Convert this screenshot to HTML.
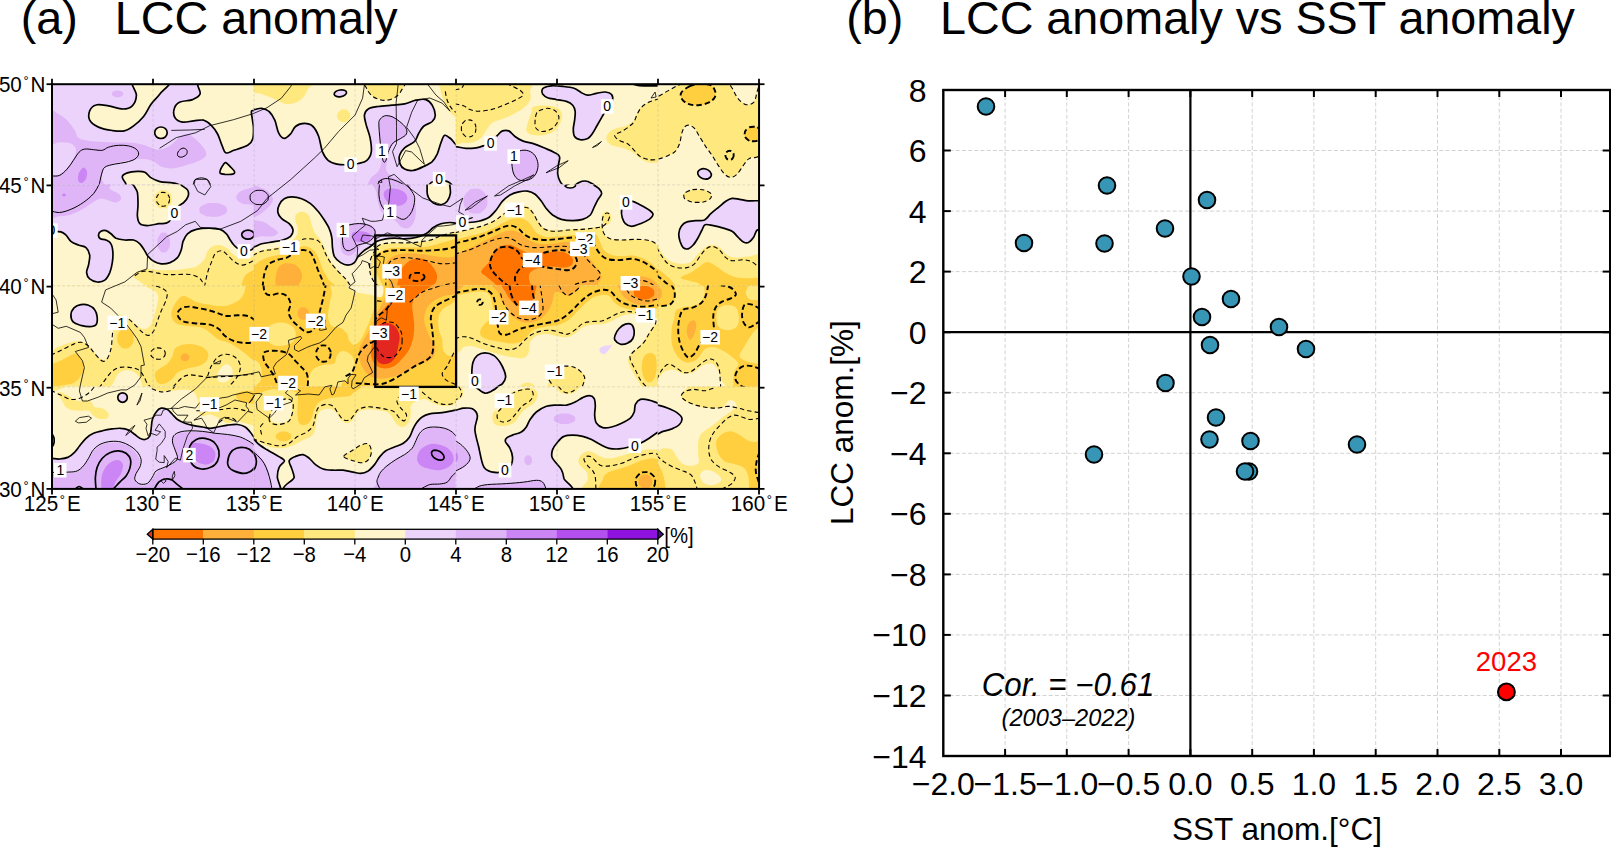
<!DOCTYPE html>
<html lang="en"><head><meta charset="utf-8"><title>LCC anomaly</title>
<style>
html,body{margin:0;padding:0;background:#fff;}
body{width:1611px;height:847px;overflow:hidden;font-family:"Liberation Sans",sans-serif;}
svg{display:block;position:absolute;left:0;top:0;}
text{font-family:"Liberation Sans",sans-serif;fill:#000;}
.t{font-size:46.7px;}
.ax{font-size:22.4px;}
.cb{font-size:22.6px;}
.sx{font-size:32px;}
.lab{font-size:31.5px;}
.cl{font-size:14px;}
</style></head><body>
<svg width="1611" height="847" viewBox="0 0 1611 847">
<rect x="0" y="0" width="1611" height="847" fill="#fff"/>

<text class="t" x="20.8" y="34">(a)</text>
<text class="t" x="114.8" y="34">LCC anomaly</text>
<text class="t" x="846.3" y="34">(b)</text>
<text class="t" x="940" y="34">LCC anomaly vs SST anomaly</text>
<defs><clipPath id="mc"><rect x="52.1" y="83.9" width="707.0" height="404.0"/></clipPath></defs>
<g clip-path="url(#mc)">
<rect x="52.1" y="83.9" width="707.0" height="404.0" fill="#fff5cc"/>
<defs><clipPath id="tc0_0"><rect x="51.80" y="83.60" width="202.60" height="101.60"/></clipPath><clipPath id="tc10_0"><rect x="253.80" y="83.60" width="202.60" height="101.60"/></clipPath><clipPath id="tc20_0"><rect x="455.80" y="83.60" width="202.60" height="101.60"/></clipPath><clipPath id="tc30_0"><rect x="657.80" y="83.60" width="101.60" height="101.60"/></clipPath><clipPath id="tc0_10"><rect x="51.80" y="184.60" width="202.60" height="101.60"/></clipPath><clipPath id="tc10_10"><rect x="253.80" y="184.60" width="202.60" height="101.60"/></clipPath><clipPath id="tc20_10"><rect x="455.80" y="184.60" width="202.60" height="101.60"/></clipPath><clipPath id="tc30_10"><rect x="657.80" y="184.60" width="101.60" height="101.60"/></clipPath><clipPath id="tc0_20"><rect x="51.80" y="285.60" width="202.60" height="101.60"/></clipPath><clipPath id="tc10_20"><rect x="253.80" y="285.60" width="202.60" height="101.60"/></clipPath><clipPath id="tc20_20"><rect x="455.80" y="285.60" width="202.60" height="101.60"/></clipPath><clipPath id="tc30_20"><rect x="657.80" y="285.60" width="101.60" height="101.60"/></clipPath><clipPath id="tc0_30"><rect x="51.80" y="386.60" width="202.60" height="101.60"/></clipPath><clipPath id="tc10_30"><rect x="253.80" y="386.60" width="202.60" height="101.60"/></clipPath><clipPath id="tc20_30"><rect x="455.80" y="386.60" width="202.60" height="101.60"/></clipPath><clipPath id="tc30_30"><rect x="657.80" y="386.60" width="101.60" height="101.60"/></clipPath></defs>
<g clip-path="url(#tc0_0)">
<rect x="51.1" y="82.9" width="204.0" height="103.0" fill="#ecd3fb"/>
<path d="M47.1,109.0C48.8,104.1 53.8,111.5 57.1,113.3C60.5,115.2 64.2,117.4 67.1,120.2C70.1,123.1 72.8,127.3 74.7,130.3C76.6,133.2 75.9,136.0 78.4,137.8C80.9,139.6 84.1,140.2 89.7,140.9C95.4,141.6 105.2,141.9 112.3,142.2C119.4,142.5 126.9,142.3 132.3,142.8C137.8,143.3 140.7,144.2 144.9,145.3C149.1,146.5 153.5,149.5 157.4,149.7C161.4,149.9 165.2,148.5 168.7,146.6C172.3,144.6 175.8,139.9 178.7,137.8C181.7,135.7 183.8,134.0 186.3,134.0C188.8,134.0 191.1,135.7 193.8,137.8C196.5,139.9 200.5,143.8 202.6,146.6C204.7,149.3 206.5,151.9 206.3,154.1C206.1,156.3 204.4,157.9 201.3,159.7C198.2,161.5 192.3,163.3 187.5,164.7C182.7,166.2 176.9,168.2 172.5,168.5C168.1,168.8 164.3,167.8 161.2,166.6C158.1,165.5 156.6,162.8 153.7,161.6C150.7,160.3 147.6,159.3 143.6,159.1C139.7,158.9 135.1,159.5 129.8,160.3C124.6,161.2 116.5,162.8 112.3,164.1C108.1,165.4 106.5,165.8 104.8,167.9C103.0,169.9 102.5,172.9 101.6,176.6C100.8,180.4 108.8,188.1 99.7,190.4C90.7,192.7 55.9,192.8 47.1,190.4C38.3,188.0 45.2,178.6 47.1,176.0C49.0,173.4 55.0,176.1 58.4,174.7C61.7,173.4 64.5,170.7 67.1,167.9C69.8,165.0 72.6,161.0 74.0,157.8C75.5,154.7 76.4,151.5 75.9,149.1C75.4,146.7 73.6,144.6 70.9,143.4C68.2,142.3 63.6,142.3 59.6,142.2C55.7,142.1 49.2,148.3 47.1,142.8C45.0,137.3 45.4,113.9 47.1,109.0Z" fill="#e0b5f7"/>
<path d="M123.2,93.9C123.2,95.2 123.0,95.4 121.5,96.3C120.0,97.2 119.7,97.3 117.6,97.3C115.4,97.3 115.1,97.2 113.6,96.3C112.1,95.4 111.9,95.2 111.9,93.9C111.9,92.6 112.1,92.4 113.6,91.5C115.1,90.6 115.4,90.5 117.6,90.5C119.7,90.5 120.0,90.6 121.5,91.5C123.0,92.4 123.2,92.6 123.2,93.9Z" fill="#e0b5f7"/>
<path d="M83.4,167.6C84.8,167.3 86.5,169.7 87.0,171.6C87.4,173.5 86.9,177.3 86.0,179.1C85.1,181.0 82.9,182.7 81.6,182.9C80.3,183.1 78.7,182.0 78.2,180.4C77.7,178.8 77.8,175.6 78.7,173.5C79.6,171.4 82.1,167.9 83.4,167.6Z" fill="#cc85f5"/>
<path d="M133.6,78.9C127.9,81.6 136.6,90.7 136.4,95.2C136.2,99.7 134.6,103.5 132.3,105.8C130.1,108.1 126.9,109.0 122.9,109.0C119.0,109.0 113.0,106.5 108.5,105.8C104.0,105.2 99.1,104.1 96.0,105.0C92.9,105.8 90.8,108.3 89.7,110.8C88.7,113.4 88.3,117.5 89.7,120.2C91.2,123.0 94.7,125.4 98.5,127.1C102.3,128.8 108.0,129.9 112.3,130.5C116.6,131.1 120.6,131.7 124.2,130.9C127.8,130.1 130.4,128.3 133.6,125.9C136.8,123.5 140.7,120.1 143.6,116.5C146.6,112.8 148.4,107.7 151.2,103.9C153.9,100.2 156.7,98.1 159.9,93.9C163.2,89.7 175.0,81.4 170.6,78.9C166.2,76.4 139.3,76.2 133.6,78.9Z" fill="#fff5cc" stroke="#000" stroke-width="1.7" stroke-linejoin="round"/>
<path d="M167.2,132.8C167.2,134.9 167.0,135.3 165.4,136.8C163.7,138.4 163.3,138.5 160.9,138.5C158.6,138.5 158.2,138.4 156.5,136.8C154.8,135.3 154.7,134.9 154.7,132.8C154.7,130.6 154.8,130.2 156.5,128.7C158.2,127.2 158.6,127.0 160.9,127.0C163.3,127.0 163.7,127.2 165.4,128.7C167.0,130.2 167.2,130.6 167.2,132.8Z" fill="#fff5cc" stroke="#000" stroke-width="1.7" stroke-linejoin="round"/>
<path d="M201.9,78.9C192.1,81.4 201.6,90.5 200.1,93.9C198.5,97.4 195.9,98.2 192.5,99.6C189.2,100.9 183.0,100.6 180.0,102.1C177.0,103.5 175.2,105.7 174.4,108.3C173.5,110.9 173.6,115.4 175.0,117.7C176.3,120.0 179.4,121.6 182.5,122.1C185.6,122.6 190.2,121.2 193.8,120.9C197.3,120.6 200.9,119.5 203.8,120.2C206.7,121.0 209.0,123.0 211.3,125.3C213.6,127.5 215.8,130.7 217.6,134.0C219.4,137.4 220.6,142.2 222.0,145.3C223.4,148.4 223.8,152.0 225.8,152.8C227.7,153.7 230.3,151.6 233.9,150.3C237.6,149.1 244.6,147.2 247.7,145.3C250.8,143.4 251.8,142.0 252.7,139.0C253.7,136.1 253.5,131.1 253.5,127.8C253.4,124.4 252.6,121.8 252.3,119.0C252.1,116.2 250.6,112.5 251.7,110.8C252.8,109.2 257.8,114.3 259.0,109.0C260.2,103.6 268.5,83.9 259.0,78.9C249.5,73.9 211.8,76.4 201.9,78.9Z" fill="#fff5cc" stroke="#000" stroke-width="1.7" stroke-linejoin="round"/>
<path d="M225.8,162.6C226.9,162.9 228.7,165.1 230.2,166.6C231.6,168.1 234.1,170.4 234.5,171.6C235.0,172.9 234.2,173.7 232.7,174.1C231.1,174.6 227.2,174.5 225.1,174.4C223.0,174.2 220.9,174.0 220.1,173.1C219.4,172.2 220.2,170.5 220.7,169.1C221.3,167.7 222.4,165.8 223.3,164.7C224.1,163.6 224.6,162.3 225.8,162.6Z" fill="#fff5cc" stroke="#000" stroke-width="1.7" stroke-linejoin="round"/>
<path d="M122.3,176.6C122.6,175.0 124.8,173.7 127.3,172.9C129.8,172.0 134.4,171.5 137.4,171.4C140.3,171.3 142.6,171.2 144.9,172.2C147.2,173.3 148.6,176.3 151.2,177.9C153.7,179.4 156.4,180.8 159.9,181.6C163.5,182.5 169.1,182.3 172.5,182.9C175.8,183.5 178.7,184.1 180.0,185.4C181.2,186.7 187.9,189.6 180.0,190.4C172.1,191.2 141.4,191.7 132.3,190.4C123.3,189.2 127.1,185.2 125.5,182.9C123.8,180.6 122.0,178.3 122.3,176.6Z" fill="#fff5cc" stroke="#000" stroke-width="1.7" stroke-linejoin="round"/>
<path d="M52.1,176.0C53.4,175.9 57.1,176.5 59.6,175.4C62.1,174.2 64.8,171.6 67.1,169.1C69.4,166.6 71.4,163.2 73.4,160.3C75.4,157.5 77.2,154.1 79.1,152.2C80.9,150.3 82.3,149.5 84.7,149.1C87.1,148.6 90.6,149.5 93.5,149.7C96.4,149.9 99.7,150.7 102.3,150.3C104.8,149.9 105.8,148.0 108.5,147.2C111.2,146.3 115.2,145.5 118.6,145.3C121.9,145.1 125.7,145.3 128.6,145.9C131.5,146.6 134.4,147.7 136.1,149.1C137.8,150.4 138.8,152.4 138.6,154.1C138.4,155.7 136.9,157.7 134.9,159.1C132.8,160.4 129.4,161.4 126.1,162.2C122.7,163.1 118.3,163.3 114.8,164.1C111.2,164.9 107.0,165.6 104.8,167.2C102.6,168.9 102.6,171.1 101.6,174.1C100.7,177.2 99.5,183.5 99.1,185.4" fill="none" stroke="#000" stroke-width="1.0" stroke-linejoin="round"/>
<path d="M183.1,148.1C184.5,148.0 186.4,149.2 186.9,150.3C187.4,151.4 187.2,153.6 186.3,154.7C185.3,155.8 182.7,157.1 181.2,157.2C179.8,157.3 177.9,156.4 177.5,155.3C177.1,154.3 177.8,152.2 178.7,150.9C179.7,149.7 181.8,148.2 183.1,148.1Z" fill="none" stroke="#000" stroke-width="1.0" stroke-linejoin="round"/>
<path d="M193.2,184.9C193.5,184.0 193.7,180.9 195.0,179.8C196.4,178.6 199.2,177.9 201.3,177.9C203.4,177.9 206.0,178.6 207.6,179.8C209.1,180.9 210.2,184.0 210.7,184.9" fill="none" stroke="#000" stroke-width="1.0" stroke-linejoin="round"/>
</g>
<g clip-path="url(#tc10_0)">
<rect x="253.1" y="82.9" width="204.0" height="103.0" fill="#fff5cc"/>
<path d="M249.1,78.9C259.7,77.0 303.2,77.2 313.0,78.9C322.9,80.6 309.7,85.8 308.0,88.9C306.3,92.0 305.1,95.4 303.0,97.7C300.9,100.0 298.2,101.7 295.5,102.7C292.8,103.7 289.4,104.2 286.7,103.9C284.0,103.7 281.7,102.5 279.2,101.4C276.7,100.4 274.6,98.9 271.7,97.7C268.7,96.4 265.4,95.2 261.6,93.9C257.9,92.7 251.2,92.7 249.1,90.2C247.0,87.7 238.4,80.8 249.1,78.9Z" fill="#ffe97f"/>
<path d="M350.3,115.9C350.3,118.2 350.1,118.6 348.4,120.3C346.6,122.0 346.2,122.1 343.8,122.1C341.3,122.1 340.9,122.0 339.1,120.3C337.4,118.6 337.2,118.2 337.2,115.9C337.2,113.5 337.4,113.1 339.1,111.4C340.9,109.8 341.3,109.6 343.8,109.6C346.2,109.6 346.6,109.8 348.4,111.4C350.1,113.1 350.3,113.5 350.3,115.9Z" fill="#ffe97f"/>
<path d="M365.7,78.9C359.6,80.6 365.9,86.1 366.9,88.9C368.0,91.7 369.9,94.0 372.0,95.8C374.1,97.6 377.0,98.8 379.5,99.6C382.0,100.3 384.5,100.5 387.0,100.2C389.5,99.9 392.2,99.1 394.5,97.7C396.8,96.2 399.3,94.6 400.8,91.4C402.3,88.3 409.2,81.0 403.3,78.9C397.5,76.8 371.8,77.2 365.7,78.9Z" fill="#ffe97f" stroke="#000" stroke-width="1.1" stroke-linejoin="round" stroke-dasharray="4.5 3"/>
<path d="M439.7,78.9C436.1,81.0 440.1,87.5 440.9,91.4C441.8,95.4 443.2,99.4 444.7,102.7C446.2,106.0 447.8,109.0 449.7,111.5C451.6,114.0 454.0,116.1 456.1,117.7C458.2,119.4 461.2,128.0 462.2,121.5C463.3,115.0 466.0,86.0 462.2,78.9C458.5,71.8 443.2,76.8 439.7,78.9Z" fill="#ffe97f"/>
<path d="M445.3,91.4C445.6,92.9 446.2,97.4 447.2,100.2C448.2,103.0 449.9,106.1 451.6,108.3C453.3,110.5 456.3,112.5 457.2,113.3" fill="none" stroke="#000" stroke-width="1.1" stroke-linejoin="round" stroke-dasharray="4.5 3"/>
<path d="M249.1,109.6C249.9,96.1 252.0,109.8 254.1,109.6C256.2,109.4 259.1,108.0 261.6,108.3C264.1,108.6 267.0,109.5 269.1,111.5C271.3,113.5 273.2,116.7 274.8,120.2C276.4,123.8 277.0,129.7 278.6,132.8C280.1,135.8 282.2,138.2 284.2,138.4C286.2,138.6 288.6,136.0 290.5,134.0C292.3,132.0 293.2,128.3 295.5,126.5C297.8,124.7 301.3,123.4 304.3,123.4C307.2,123.4 310.6,124.3 313.0,126.5C315.4,128.7 317.1,132.4 318.7,136.5C320.2,140.7 320.9,147.6 322.4,151.6C324.0,155.5 325.7,158.3 328.1,160.3C330.5,162.4 333.7,163.4 336.9,164.1C340.0,164.8 343.3,164.8 346.9,164.7C350.4,164.6 354.8,164.2 358.2,163.5C361.5,162.7 364.8,162.3 366.9,160.3C369.1,158.4 370.8,155.3 371.3,151.6C371.9,147.8 370.9,142.2 370.1,137.8C369.2,133.4 367.3,129.0 366.3,125.3C365.4,121.5 364.1,117.9 364.4,115.2C364.8,112.5 365.9,110.4 368.2,109.0C370.5,107.5 374.3,107.1 378.2,106.5C382.2,105.8 387.6,105.6 392.0,105.2C396.4,104.8 400.6,104.8 404.6,103.9C408.5,103.1 412.3,100.9 415.9,100.2C419.4,99.5 423.2,98.7 425.9,99.6C428.6,100.4 430.6,102.6 432.2,105.2C433.7,107.8 435.3,112.5 435.3,115.2C435.3,117.9 434.1,119.6 432.2,121.5C430.2,123.4 425.7,124.4 423.4,126.5C421.1,128.6 419.8,131.5 418.4,134.0C416.9,136.5 416.9,139.2 414.6,141.5C412.3,143.8 407.1,145.5 404.6,147.8C402.1,150.1 400.3,152.6 399.6,155.3C398.8,158.0 399.3,161.8 400.2,164.1C401.0,166.4 402.4,168.1 404.6,169.1C406.8,170.2 410.2,170.8 413.3,170.4C416.5,169.9 420.2,168.1 423.4,166.6C426.5,165.1 429.9,163.7 432.2,161.6C434.4,159.5 435.7,157.2 437.2,154.1C438.6,150.9 439.7,145.9 440.9,142.8C442.2,139.7 443.0,135.9 444.7,135.3C446.4,134.7 449.1,137.5 451.0,139.0C452.9,140.6 454.2,143.0 456.1,144.7C458.0,146.3 461.2,141.4 462.2,149.1C463.3,156.7 497.8,183.5 462.2,190.4C426.7,197.3 284.6,203.9 249.1,190.4C213.6,176.9 248.2,123.1 249.1,109.6Z" fill="#ecd3fb" stroke="#000" stroke-width="1.7" stroke-linejoin="round"/>
<path d="M346.5,92.2C346.8,93.5 346.6,93.7 345.1,94.9C343.7,96.1 343.3,96.2 341.0,96.6C338.6,97.0 338.2,97.0 336.4,96.4C334.6,95.8 334.4,95.6 334.2,94.4C334.0,93.1 334.1,92.9 335.6,91.7C337.1,90.5 337.5,90.4 339.8,90.0C342.1,89.6 342.5,89.6 344.3,90.2C346.1,90.8 346.3,91.0 346.5,92.2Z" fill="#ecd3fb" stroke="#000" stroke-width="1.7" stroke-linejoin="round"/>
<path d="M380.1,120.2C381.3,118.7 383.6,116.3 385.8,115.9C388.0,115.4 390.8,116.3 393.3,117.5C395.8,118.6 398.7,120.8 400.8,122.7C402.9,124.7 405.2,126.9 406.1,129.0C406.9,131.1 406.9,133.6 405.8,135.3C404.7,136.9 401.7,137.6 399.6,139.0C397.4,140.5 394.4,142.0 392.7,144.0C390.9,146.1 389.8,148.6 388.9,151.6C388.0,154.5 387.4,158.5 387.0,161.6C386.6,164.7 385.5,167.9 386.4,170.4C387.2,172.9 389.4,174.7 392.0,176.6C394.6,178.5 399.3,179.3 402.1,181.6C404.8,183.9 413.6,189.0 408.3,190.4C403.1,191.9 377.1,192.3 370.7,190.4C364.3,188.5 368.8,182.3 370.1,179.1C371.3,176.0 376.4,174.5 378.2,171.6C380.1,168.7 381.0,165.4 381.4,161.6C381.8,157.8 381.1,153.7 380.7,149.1C380.4,144.5 379.8,138.0 379.5,134.0C379.2,130.1 378.8,127.5 378.9,125.3C379.0,123.0 379.0,121.8 380.1,120.2Z" fill="#e0b5f7"/>
<path d="M379.5,120.2C380.4,118.7 382.4,116.4 384.5,115.9C386.6,115.3 389.5,115.8 392.0,116.7C394.5,117.7 397.3,119.7 399.6,121.5C401.8,123.3 404.7,125.7 405.8,127.8C407.0,129.8 407.3,132.2 406.4,134.0C405.6,135.8 403.0,136.9 400.8,138.4C398.6,139.9 395.3,140.8 393.3,142.8C391.3,144.8 390.0,147.6 388.9,150.3C387.7,153.0 387.1,157.1 386.4,159.1C385.7,161.1 385.1,162.2 384.5,162.2C383.9,162.2 383.2,161.7 382.6,159.1C382.0,156.5 381.3,150.7 380.7,146.6C380.2,142.4 379.8,137.6 379.5,134.0C379.2,130.5 378.9,127.5 378.9,125.3C378.9,123.0 378.5,121.8 379.5,120.2Z" fill="none" stroke="#000" stroke-width="1.0" stroke-linejoin="round"/>
<path d="M377.6,184.9C378.0,184.2 378.8,181.7 380.1,180.6C381.5,179.6 383.6,178.7 385.8,178.5C388.0,178.4 390.8,179.0 393.3,179.8C395.8,180.5 398.6,181.7 400.8,182.9C403.0,184.0 405.5,186.0 406.4,186.7" fill="none" stroke="#000" stroke-width="1.0" stroke-linejoin="round"/>
<path d="M429.6,190.4C425.7,189.4 428.8,185.7 429.6,184.1C430.5,182.6 432.6,181.6 434.7,181.0C436.7,180.4 439.7,180.1 442.2,180.4C444.7,180.7 447.8,181.2 449.7,182.9C451.6,184.6 456.8,189.2 453.5,190.4C450.1,191.7 433.6,191.5 429.6,190.4Z" fill="#fff5cc" stroke="#000" stroke-width="1.7" stroke-linejoin="round"/>
</g>
<g clip-path="url(#tc20_0)">
<rect x="455.1" y="82.9" width="204.0" height="103.0" fill="#fff5cc"/>
<path d="M451.1,78.9C463.6,68.9 513.2,76.8 526.3,78.9C539.5,81.0 529.5,87.9 530.1,91.4C530.7,95.0 531.1,97.5 530.1,100.2C529.0,102.9 526.5,105.4 523.8,107.7C521.1,110.0 517.3,112.1 513.8,114.0C510.2,115.9 506.0,117.5 502.5,119.0C498.9,120.4 495.2,120.9 492.5,122.7C489.7,124.6 488.1,127.8 486.2,130.3C484.3,132.8 483.3,135.8 481.2,137.8C479.1,139.8 476.6,141.3 473.7,142.2C470.7,143.0 467.4,143.3 463.6,142.8C459.9,142.3 453.2,149.7 451.1,139.0C449.0,128.4 438.5,88.9 451.1,78.9Z" fill="#ffe97f"/>
<path d="M454.8,103.7C456.3,104.1 461.1,104.8 463.6,105.8C466.1,106.8 467.4,108.7 469.9,109.6C472.4,110.5 475.1,111.2 478.7,111.2C482.2,111.2 487.0,110.6 491.2,109.6C495.4,108.6 499.8,106.8 503.7,105.2C507.7,103.6 511.8,101.9 515.0,100.2C518.3,98.5 522.3,96.8 523.2,95.2C524.0,93.5 521.8,91.6 520.0,90.2C518.3,88.7 514.8,87.6 512.5,86.4C510.2,85.3 507.3,83.8 506.3,83.3" fill="none" stroke="#000" stroke-width="1.1" stroke-linejoin="round" stroke-dasharray="4.5 3"/>
<path d="M454.8,89.9C455.9,89.6 459.7,89.1 461.1,88.3C462.6,87.5 463.2,85.7 463.6,85.2" fill="none" stroke="#000" stroke-width="1.1" stroke-linejoin="round" stroke-dasharray="4.5 3"/>
<path d="M475.9,128.4C475.9,131.6 475.7,132.1 473.8,134.4C471.8,136.7 471.4,136.9 468.6,136.9C465.9,136.9 465.4,136.7 463.5,134.4C461.6,132.1 461.4,131.6 461.4,128.4C461.4,125.2 461.6,124.6 463.5,122.4C465.4,120.1 465.9,119.9 468.6,119.9C471.4,119.9 471.8,120.1 473.8,122.4C475.7,124.6 475.9,125.2 475.9,128.4Z" fill="none" stroke="#000" stroke-width="1.1" stroke-linejoin="round" stroke-dasharray="4.5 3"/>
<path d="M533.8,106.5C536.8,105.3 544.7,105.4 548.9,105.8C553.1,106.2 556.7,107.2 558.9,109.0C561.1,110.7 562.1,113.8 562.1,116.5C562.1,119.2 560.5,122.6 558.9,125.3C557.4,127.9 555.4,130.5 552.6,132.1C549.9,133.8 546.2,134.9 542.6,135.3C539.1,135.7 534.0,135.5 531.3,134.7C528.6,133.8 526.8,132.5 526.3,130.3C525.8,128.1 527.4,124.4 528.2,121.5C529.0,118.6 530.4,115.2 531.3,112.7C532.3,110.2 530.9,107.6 533.8,106.5Z" fill="#ffe97f"/>
<path d="M538.9,110.8C540.7,109.9 544.9,108.3 547.6,108.3C550.3,108.3 553.3,109.4 555.2,110.8C557.0,112.3 558.7,114.9 558.9,117.1C559.1,119.3 557.9,121.9 556.4,124.0C554.9,126.1 552.6,128.4 550.1,129.6C547.6,130.9 543.8,131.8 541.4,131.5C539.0,131.2 536.8,129.6 535.7,127.8C534.7,125.9 535.0,122.5 535.1,120.2C535.2,117.9 535.7,115.5 536.3,114.0C537.0,112.4 537.0,111.8 538.9,110.8Z" fill="none" stroke="#000" stroke-width="1.1" stroke-linejoin="round" stroke-dasharray="4.5 3"/>
<path d="M543.9,87.7C545.4,86.9 548.3,86.0 551.4,85.8C554.5,85.6 558.9,86.0 562.7,86.4C566.4,86.8 570.8,87.2 574.0,88.3C577.1,89.3 579.2,91.5 581.5,92.7C583.8,93.8 585.2,95.1 587.8,95.2C590.3,95.3 593.6,93.8 596.5,93.3C599.5,92.8 602.8,91.8 605.3,92.0C607.8,92.3 610.4,93.0 611.6,94.6C612.7,96.1 613.0,99.0 612.2,101.4C611.4,103.8 608.3,106.2 606.6,109.0C604.8,111.7 603.2,114.8 601.6,117.7C599.9,120.7 598.1,123.8 596.5,126.5C595.0,129.2 593.6,132.0 592.1,134.0C590.7,136.0 589.7,137.5 587.8,138.4C585.8,139.3 582.4,140.0 580.2,139.7C578.0,139.3 575.7,138.3 574.6,136.5C573.4,134.8 573.3,131.7 573.3,129.0C573.3,126.3 574.3,123.2 574.6,120.2C574.9,117.3 575.5,114.0 575.2,111.5C574.9,109.0 574.2,106.9 572.7,105.2C571.2,103.5 569.2,102.4 566.4,101.4C563.7,100.5 559.5,100.2 556.4,99.6C553.3,98.9 549.9,98.6 547.6,97.7C545.3,96.7 543.6,95.2 542.6,93.9C541.7,92.7 541.8,91.2 542.0,90.2C542.2,89.1 542.3,88.4 543.9,87.7Z" fill="#ecd3fb" stroke="#000" stroke-width="1.7" stroke-linejoin="round"/>
<path d="M451.1,145.9C451.9,138.6 453.6,146.1 456.1,146.6C458.6,147.0 462.8,148.2 466.1,148.4C469.5,148.6 473.3,148.2 476.2,147.8C479.0,147.4 480.8,146.8 483.1,145.9C485.4,145.1 487.6,144.6 490.0,142.8C492.4,141.0 495.4,137.3 497.5,135.3C499.6,133.3 500.6,131.6 502.5,130.9C504.4,130.2 506.7,130.0 508.8,130.9C510.9,131.8 512.7,134.9 515.0,136.5C517.3,138.2 519.6,139.8 522.6,140.9C525.5,142.1 529.0,142.3 532.6,143.4C536.1,144.6 540.3,146.3 543.9,147.8C547.4,149.3 551.3,150.7 553.9,152.2C556.5,153.7 558.8,154.4 559.5,156.6C560.3,158.8 558.6,162.4 558.3,165.4C558.0,168.3 557.4,171.4 557.7,174.1C558.0,176.8 559.1,179.6 560.2,181.6C561.2,183.7 563.3,185.2 563.9,186.7C564.6,188.1 582.7,189.8 563.9,190.4C545.1,191.0 469.9,197.8 451.1,190.4C432.3,183.0 450.2,153.2 451.1,145.9Z" fill="#ecd3fb" stroke="#000" stroke-width="1.7" stroke-linejoin="round"/>
<path d="M511.9,164.1C511.7,161.2 511.6,158.7 512.5,156.6C513.5,154.5 515.2,152.6 517.5,151.6C519.8,150.5 523.6,149.9 526.3,150.3C529.0,150.7 532.0,152.2 533.8,154.1C535.7,156.0 537.0,159.1 537.6,161.6C538.2,164.1 538.2,166.6 537.6,169.1C537.0,171.6 535.7,174.7 533.8,176.6C532.0,178.5 528.8,179.9 526.3,180.4C523.8,180.9 520.9,180.8 518.8,179.8C516.7,178.7 514.9,176.7 513.8,174.1C512.6,171.5 512.1,167.0 511.9,164.1Z" fill="#e0b5f7" stroke="#000" stroke-width="1.0" stroke-linejoin="round"/>
<path d="M575.2,186.7C574.3,185.1 577.9,183.2 579.6,182.3C581.3,181.3 583.4,180.9 585.2,181.0C587.1,181.1 589.3,182.0 590.9,182.9C592.5,183.8 595.6,185.2 594.7,186.7C593.7,188.1 588.5,191.7 585.2,191.7C582.0,191.7 576.2,188.2 575.2,186.7Z" fill="#ecd3fb" stroke="#000" stroke-width="1.7" stroke-linejoin="round"/>
<path d="M664.2,96.4C663.2,85.6 660.6,96.8 658.1,97.7C655.6,98.5 652.1,99.8 649.2,101.4C646.3,103.1 642.5,105.6 640.4,107.7C638.3,109.8 637.9,111.7 636.7,114.0C635.4,116.3 635.0,119.4 632.9,121.5C630.8,123.6 627.3,125.3 624.1,126.5C621.0,127.8 616.8,127.8 614.1,129.0C611.4,130.3 609.1,132.1 607.8,134.0C606.6,135.9 605.9,138.4 606.6,140.3C607.2,142.2 609.1,144.0 611.6,145.3C614.1,146.6 618.3,146.8 621.6,147.8C625.0,148.9 628.7,149.9 631.6,151.6C634.6,153.2 636.4,156.1 639.2,157.8C641.9,159.6 644.8,161.4 647.9,162.2C651.1,163.1 655.4,162.7 658.1,162.8C660.8,162.9 663.2,173.9 664.2,162.8C665.3,151.8 665.3,107.3 664.2,96.4Z" fill="#ffe97f"/>
<path d="M659.2,98.7C657.6,99.3 652.1,100.7 649.2,102.1C646.3,103.5 643.7,105.1 641.7,107.1C639.7,109.1 638.5,111.6 637.3,114.0C636.0,116.4 635.5,119.4 634.2,121.5C632.8,123.6 631.2,124.8 629.1,126.5C627.0,128.2 624.0,130.1 621.6,131.5C619.2,133.0 615.1,133.8 614.7,135.3C614.3,136.7 616.9,138.8 619.1,140.3C621.3,141.8 625.4,142.4 627.9,144.0C630.4,145.7 632.1,148.2 634.2,150.3C636.2,152.4 637.9,155.0 640.4,156.6C642.9,158.1 646.1,159.2 649.2,159.7C652.3,160.2 657.6,159.5 659.2,159.5" fill="none" stroke="#000" stroke-width="1.1" stroke-linejoin="round" stroke-dasharray="4.5 3"/>
<path d="M630.4,82.6C631.6,83.7 634.8,84.9 637.9,85.4C641.0,85.9 645.4,85.8 649.2,85.8C653.0,85.7 658.6,86.3 660.5,85.2C662.4,84.0 665.5,79.9 660.5,78.9C655.5,77.8 635.4,78.3 630.4,78.9C625.4,79.5 629.1,81.6 630.4,82.6Z" fill="#ecd3fb" stroke="#000" stroke-width="1.7" stroke-linejoin="round"/>
</g>
<g clip-path="url(#tc30_0)">
<rect x="657.1" y="82.9" width="103.0" height="103.0" fill="#ffe97f"/>
<path d="M653.1,98.9C653.9,101.9 655.8,97.7 658.1,96.4C660.4,95.2 664.0,93.1 666.9,91.4C669.8,89.7 672.9,88.1 675.7,86.4C678.4,84.7 686.9,82.6 683.2,81.4C679.4,80.1 658.1,76.0 653.1,78.9C648.1,81.8 652.2,96.0 653.1,98.9Z" fill="#fff5cc" stroke="#000" stroke-width="1.1" stroke-linejoin="round" stroke-dasharray="4.5 3"/>
<path d="M729.6,78.9C725.6,80.8 731.9,86.8 733.3,90.2C734.8,93.5 736.3,96.5 738.3,98.9C740.4,101.3 743.4,103.9 745.9,104.6C748.4,105.2 751.6,104.5 753.4,102.7C755.2,100.9 755.9,97.9 756.5,93.9C757.2,90.0 761.6,81.4 757.2,78.9C752.7,76.4 733.5,77.0 729.6,78.9Z" fill="#fff5cc" stroke="#000" stroke-width="1.1" stroke-linejoin="round" stroke-dasharray="4.5 3"/>
<path d="M653.1,160.3C653.9,155.1 656.0,159.7 658.1,159.1C660.2,158.5 662.9,157.7 665.6,156.6C668.3,155.4 672.1,154.3 674.4,152.2C676.7,150.1 678.2,147.3 679.4,144.0C680.7,140.8 681.0,135.7 681.9,132.8C682.9,129.8 683.8,127.8 685.1,126.5C686.3,125.3 687.9,124.9 689.4,125.3C691.0,125.6 692.8,126.5 694.5,128.4C696.1,130.3 697.6,133.5 699.5,136.5C701.4,139.6 703.7,143.4 705.7,146.6C707.8,149.7 709.9,152.2 712.0,155.3C714.1,158.5 716.2,162.2 718.3,165.4C720.4,168.5 722.5,172.1 724.6,174.1C726.6,176.1 728.7,177.3 730.8,177.3C732.9,177.3 735.0,176.1 737.1,174.1C739.2,172.1 741.5,167.9 743.4,165.4C745.2,162.8 746.7,160.3 748.4,159.1C750.1,157.8 750.7,157.8 753.4,157.8C756.1,157.8 762.8,153.7 764.7,159.1C766.6,164.5 783.3,185.2 764.7,190.4C746.1,195.6 671.7,195.4 653.1,190.4C634.5,185.4 652.2,165.6 653.1,160.3Z" fill="#fff5cc" stroke="#000" stroke-width="1.1" stroke-linejoin="round" stroke-dasharray="4.5 3"/>
<path d="M689.4,86.4C692.5,84.9 695.9,84.1 699.5,83.9C703.0,83.7 708.2,83.9 710.8,85.2C713.4,86.4 714.5,89.3 715.2,91.4C715.8,93.5 715.7,95.8 714.5,97.7C713.4,99.6 711.0,101.4 708.3,102.7C705.5,103.9 701.6,105.0 698.2,105.2C694.9,105.4 690.9,105.0 688.2,103.9C685.5,102.9 683.1,100.8 681.9,98.9C680.8,97.1 680.0,94.8 681.3,92.7C682.6,90.6 686.4,87.9 689.4,86.4Z" fill="#ffcf40" stroke="#000" stroke-width="1.9" stroke-linejoin="round" stroke-dasharray="5.5 3"/>
<path d="M762.2,134.0C762.2,136.8 761.9,137.2 759.6,139.2C757.3,141.1 756.7,141.3 753.4,141.3C750.1,141.3 749.5,141.1 747.2,139.2C744.8,137.2 744.6,136.8 744.6,134.0C744.6,131.3 744.8,130.8 747.2,128.9C749.5,126.9 750.1,126.8 753.4,126.8C756.7,126.8 757.3,126.9 759.6,128.9C761.9,130.8 762.2,131.3 762.2,134.0Z" fill="#ffcf40" stroke="#000" stroke-width="1.9" stroke-linejoin="round" stroke-dasharray="5.5 3"/>
<path d="M733.7,155.3C733.7,157.0 733.6,157.3 732.5,158.5C731.4,159.7 731.1,159.8 729.6,159.8C728.0,159.8 727.7,159.7 726.6,158.5C725.5,157.3 725.4,157.0 725.4,155.3C725.4,153.6 725.5,153.3 726.6,152.1C727.7,150.9 728.0,150.8 729.6,150.8C731.1,150.8 731.4,150.9 732.5,152.1C733.6,153.3 733.7,153.6 733.7,155.3Z" fill="none" stroke="#000" stroke-width="1.9" stroke-linejoin="round" stroke-dasharray="5.5 3"/>
<path d="M711.2,175.7C710.7,177.5 710.4,177.7 708.3,178.6C706.2,179.4 705.7,179.4 703.2,178.7C700.7,178.0 700.3,177.8 698.9,176.0C697.4,174.3 697.3,173.9 697.8,172.1C698.3,170.3 698.6,170.0 700.7,169.2C702.8,168.4 703.3,168.4 705.8,169.0C708.3,169.7 708.7,169.9 710.1,171.7C711.6,173.5 711.6,173.8 711.2,175.7Z" fill="#ecd3fb" stroke="#000" stroke-width="1.7" stroke-linejoin="round"/>
</g>
<g clip-path="url(#tc0_10)">
<rect x="51.1" y="183.9" width="204.0" height="103.0" fill="#ecd3fb"/>
<path d="M47.1,179.9C56.9,173.9 95.6,178.4 106.0,179.9C116.5,181.3 107.7,186.4 109.8,188.7C111.9,191.0 116.7,192.0 118.6,193.7C120.4,195.3 121.5,197.2 121.1,198.7C120.6,200.1 118.3,202.2 116.0,202.4C113.7,202.7 110.0,200.6 107.3,199.9C104.6,199.3 102.5,198.1 99.7,198.7C97.0,199.3 94.1,201.8 91.0,203.7C87.8,205.6 84.5,208.1 80.9,210.0C77.4,211.8 73.2,213.9 69.7,215.0C66.1,216.0 63.4,216.1 59.6,216.2C55.9,216.3 49.2,221.7 47.1,215.6C45.0,209.5 37.3,185.8 47.1,179.9Z" fill="#e0b5f7"/>
<path d="M65.9,194.9C65.9,195.5 65.8,195.6 65.3,196.0C64.8,196.4 64.7,196.4 64.0,196.4C63.3,196.4 63.2,196.4 62.7,196.0C62.2,195.6 62.1,195.5 62.1,194.9C62.1,194.4 62.2,194.3 62.7,193.9C63.2,193.5 63.3,193.4 64.0,193.4C64.7,193.4 64.8,193.5 65.3,193.9C65.8,194.3 65.9,194.4 65.9,194.9Z" fill="#cc85f5"/>
<path d="M99.5,183.6C98.5,185.3 96.2,190.5 93.5,193.7C90.8,196.8 87.2,199.8 83.4,202.4C79.7,205.1 74.9,207.7 70.9,209.3C66.9,211.0 63.0,212.2 59.6,212.5C56.3,212.7 52.3,211.2 50.8,211.0" fill="none" stroke="#000" stroke-width="1.0" stroke-linejoin="round"/>
<path d="M227.0,210.0C227.0,212.6 226.7,213.0 223.0,214.8C219.3,216.7 218.4,216.9 213.2,216.9C208.0,216.9 207.1,216.7 203.5,214.8C199.8,213.0 199.4,212.6 199.4,210.0C199.4,207.4 199.8,206.9 203.5,205.1C207.1,203.3 208.0,203.1 213.2,203.1C218.4,203.1 219.3,203.3 223.0,205.1C226.7,206.9 227.0,207.4 227.0,210.0Z" fill="#e0b5f7"/>
<path d="M170.0,242.5C170.0,246.3 169.8,247.0 168.1,249.6C166.5,252.3 166.1,252.6 163.7,252.6C161.3,252.6 160.9,252.3 159.3,249.6C157.6,247.0 157.4,246.3 157.4,242.5C157.4,238.8 157.6,238.1 159.3,235.5C160.9,232.8 161.3,232.5 163.7,232.5C166.1,232.5 166.5,232.8 168.1,235.5C169.8,238.1 170.0,238.8 170.0,242.5Z" fill="#e0b5f7"/>
<path d="M260.2,187.4C258.2,184.7 251.3,187.8 247.7,188.7C244.2,189.5 240.8,190.7 238.9,192.4C237.0,194.1 235.8,196.8 236.4,198.7C237.0,200.6 239.7,202.7 242.7,203.7C245.6,204.7 251.2,204.7 254.1,204.9C257.0,205.2 259.2,207.9 260.2,204.9C261.3,202.0 262.3,190.1 260.2,187.4Z" fill="#e0b5f7"/>
<path d="M254.2,234.6C254.2,236.3 254.1,236.6 252.4,237.8C250.7,239.0 250.3,239.2 248.0,239.2C245.6,239.2 245.2,239.0 243.5,237.8C241.9,236.6 241.7,236.3 241.7,234.6C241.7,232.9 241.9,232.7 243.5,231.5C245.2,230.3 245.6,230.1 248.0,230.1C250.3,230.1 250.7,230.3 252.4,231.5C254.1,232.7 254.2,232.9 254.2,234.6Z" fill="#e0b5f7" stroke="#000" stroke-width="1.7" stroke-linejoin="round"/>
<path d="M268.1,197.4C268.1,200.1 267.9,200.6 265.5,202.5C263.1,204.4 262.5,204.6 259.1,204.6C255.7,204.6 255.1,204.4 252.7,202.5C250.3,200.6 250.1,200.1 250.1,197.4C250.1,194.7 250.3,194.3 252.7,192.4C255.1,190.5 255.7,190.3 259.1,190.3C262.5,190.3 263.1,190.5 265.5,192.4C267.9,194.3 268.1,194.7 268.1,197.4Z" fill="#e0b5f7" stroke="#000" stroke-width="1.0" stroke-linejoin="round"/>
<path d="M132.3,179.9C124.7,180.9 133.4,184.1 134.2,186.2C135.1,188.2 136.7,189.3 137.4,192.4C138.0,195.6 138.0,201.0 138.0,204.9C138.0,208.9 137.1,213.1 137.4,216.2C137.7,219.4 138.2,222.2 139.9,223.7C141.5,225.3 144.3,225.6 147.4,225.6C150.5,225.6 155.1,224.4 158.7,223.7C162.2,223.1 165.6,224.6 168.7,221.9C171.8,219.2 175.0,210.7 177.5,207.5C180.0,204.2 182.0,204.3 183.8,202.4C185.5,200.6 187.5,198.3 188.1,196.2C188.8,194.1 188.7,191.8 187.5,189.9C186.4,188.0 182.5,186.6 181.2,184.9C180.0,183.2 188.1,180.7 180.0,179.9C171.8,179.1 140.0,178.8 132.3,179.9Z" fill="#fff5cc" stroke="#000" stroke-width="1.7" stroke-linejoin="round"/>
<path d="M171.8,199.3C171.8,202.7 171.6,203.3 169.3,205.7C166.9,208.1 166.4,208.3 163.1,208.3C159.8,208.3 159.2,208.1 156.9,205.7C154.5,203.3 154.3,202.7 154.3,199.3C154.3,195.9 154.5,195.3 156.9,192.9C159.2,190.5 159.8,190.3 163.1,190.3C166.4,190.3 166.9,190.5 169.3,192.9C171.6,195.3 171.8,195.9 171.8,199.3Z" fill="#ffe97f"/>
<path d="M169.6,199.3C169.6,201.9 169.4,202.3 167.7,204.2C165.9,206.0 165.5,206.2 163.1,206.2C160.6,206.2 160.2,206.0 158.5,204.2C156.7,202.3 156.5,201.9 156.5,199.3C156.5,196.7 156.7,196.3 158.5,194.4C160.2,192.6 160.6,192.4 163.1,192.4C165.5,192.4 165.9,192.6 167.7,194.4C169.4,196.3 169.6,196.7 169.6,199.3Z" fill="none" stroke="#000" stroke-width="1.1" stroke-linejoin="round" stroke-dasharray="4.5 3"/>
<path d="M47.1,231.3C47.9,221.2 49.8,231.2 52.1,231.3C54.4,231.4 58.6,231.3 60.9,231.9C63.2,232.5 64.2,233.5 65.9,235.0C67.6,236.6 68.8,239.6 70.9,241.3C73.0,243.0 75.9,244.0 78.4,245.0C80.9,246.1 84.1,245.9 86.0,247.6C87.8,249.2 89.3,252.1 89.7,255.1C90.1,258.0 89.0,262.2 88.5,265.1C87.9,268.0 86.4,270.3 86.6,272.6C86.8,274.9 87.9,277.3 89.7,278.9C91.5,280.4 94.7,281.8 97.2,282.0C99.7,282.2 102.7,281.7 104.8,280.1C106.9,278.6 108.5,275.5 109.8,272.6C111.0,269.7 111.8,265.9 112.3,262.6C112.8,259.3 113.1,255.7 112.9,252.6C112.7,249.4 112.2,245.9 111.0,243.8C109.9,241.7 107.8,240.9 106.0,240.0C104.2,239.2 101.6,239.6 100.4,238.8C99.1,237.9 98.4,236.3 98.5,235.0C98.6,233.8 99.7,232.0 101.0,231.3C102.3,230.5 104.3,230.2 106.0,230.6C107.7,231.1 109.4,232.5 111.0,233.8C112.7,235.0 113.7,237.1 116.0,238.2C118.3,239.2 121.9,239.7 124.8,240.0C127.8,240.3 131.1,239.4 133.6,240.0C136.1,240.7 138.1,242.1 139.9,243.8C141.6,245.5 142.9,248.0 144.3,250.1C145.6,252.1 146.5,254.4 148.0,256.3C149.6,258.2 151.5,260.1 153.7,261.3C155.9,262.6 158.5,263.6 161.2,263.8C163.9,264.1 167.2,263.6 170.0,262.6C172.7,261.5 175.6,259.7 177.5,257.6C179.4,255.5 180.3,252.8 181.2,250.1C182.2,247.3 182.1,244.0 183.1,241.3C184.2,238.6 185.3,235.8 187.5,233.8C189.7,231.8 192.7,230.3 196.3,229.4C199.8,228.4 204.9,228.1 208.8,228.1C212.8,228.1 217.2,228.4 220.1,229.4C223.0,230.3 224.7,232.0 226.4,233.8C228.1,235.5 228.9,238.2 230.2,240.0C231.4,241.9 232.4,243.6 233.9,245.0C235.4,246.5 236.2,248.0 238.9,248.8C241.6,249.6 247.7,250.3 250.2,250.1C252.7,249.9 252.4,248.6 254.1,247.6C255.8,246.5 259.2,236.5 260.2,243.8C261.3,251.1 295.8,283.5 260.2,291.4C224.7,299.3 82.6,301.4 47.1,291.4C11.6,281.4 46.2,241.3 47.1,231.3Z" fill="#fff5cc" stroke="#000" stroke-width="1.7" stroke-linejoin="round"/>
<path d="M133.6,276.4C133.6,274.7 136.3,272.0 138.6,270.7C140.9,269.5 144.1,269.0 147.4,268.9C150.7,268.8 154.7,269.9 158.7,270.1C162.7,270.3 167.0,270.3 171.2,270.1C175.4,269.9 179.6,269.5 183.8,268.9C187.9,268.2 193.0,267.8 196.3,266.4C199.6,264.9 201.9,262.6 203.8,260.1C205.7,257.6 206.1,253.6 207.6,251.3C209.0,249.0 210.5,247.3 212.6,246.3C214.7,245.3 217.6,244.6 220.1,245.0C222.6,245.5 225.3,247.1 227.6,248.8C229.9,250.5 231.4,253.4 233.9,255.1C236.4,256.7 239.3,258.6 242.7,258.8C246.1,259.0 251.2,257.0 254.1,256.3C257.0,255.7 259.2,249.2 260.2,255.1C261.3,260.9 278.8,285.4 260.2,291.4C241.6,297.5 168.0,292.5 148.6,291.4C129.3,290.4 145.9,286.9 144.3,285.1C142.6,283.4 140.4,282.2 138.6,280.8C136.8,279.3 133.6,278.0 133.6,276.4Z" fill="#ffe97f"/>
<path d="M242.7,288.9C240.0,286.6 242.9,280.3 243.9,277.6C245.0,274.9 247.3,273.9 249.0,272.6C250.7,271.4 252.2,270.7 254.1,270.1C256.0,269.5 259.2,265.3 260.2,268.9C261.3,272.4 263.2,288.1 260.2,291.4C257.3,294.8 245.4,291.2 242.7,288.9Z" fill="#ffcf40"/>
<path d="M134.9,275.7C136.1,275.0 139.5,272.0 142.4,271.4C145.3,270.7 148.6,271.5 152.4,272.0C156.2,272.5 160.8,274.1 164.9,274.5C169.1,274.9 173.3,274.5 177.5,274.5C181.7,274.5 186.5,274.0 190.0,274.5C193.6,275.0 196.7,276.4 198.8,277.6C200.9,278.9 201.9,281.3 202.6,282.0" fill="none" stroke="#000" stroke-width="1.1" stroke-linejoin="round" stroke-dasharray="4.5 3"/>
<path d="M204.4,287.0C205.0,284.6 206.4,276.7 207.6,272.6C208.7,268.5 210.1,265.7 211.3,262.6C212.6,259.5 213.4,255.8 215.1,253.8C216.8,251.8 219.3,250.5 221.4,250.7C223.5,250.9 225.6,253.3 227.6,255.1C229.7,256.8 231.4,259.7 233.9,261.3C236.4,263.0 239.1,265.3 242.7,265.1C246.2,264.8 253.1,260.7 255.2,259.8" fill="none" stroke="#000" stroke-width="1.1" stroke-linejoin="round" stroke-dasharray="4.5 3"/>
</g>
<g clip-path="url(#tc10_10)">
<rect x="253.1" y="183.9" width="204.0" height="103.0" fill="#ecd3fb"/>
<path d="M249.1,187.4C251.2,182.5 258.3,187.2 261.6,188.0C265.0,188.9 267.3,190.6 269.1,192.4C271.0,194.2 272.7,196.6 272.9,198.7C273.1,200.8 271.9,202.9 270.4,204.9C268.9,207.0 266.4,209.3 264.1,211.2C261.8,213.1 259.1,215.2 256.6,216.2C254.1,217.3 250.3,222.3 249.1,217.5C247.8,212.7 247.0,192.3 249.1,187.4Z" fill="#e0b5f7"/>
<path d="M268.3,197.4C268.3,200.1 268.0,200.6 265.6,202.5C263.2,204.4 262.6,204.6 259.2,204.6C255.8,204.6 255.3,204.4 252.9,202.5C250.4,200.6 250.2,200.1 250.2,197.4C250.2,194.7 250.4,194.3 252.9,192.4C255.3,190.5 255.8,190.3 259.2,190.3C262.6,190.3 263.2,190.5 265.6,192.4C268.0,194.3 268.3,194.7 268.3,197.4Z" fill="#e0b5f7" stroke="#000" stroke-width="1.0" stroke-linejoin="round"/>
<path d="M249.1,222.5C251.2,219.8 258.1,220.6 261.6,221.2C265.2,221.9 267.7,224.4 270.4,226.3C273.1,228.1 277.5,230.8 277.9,232.5C278.3,234.2 275.6,235.7 272.9,236.3C270.2,236.9 265.6,236.1 261.6,236.3C257.7,236.5 251.2,239.8 249.1,237.5C247.0,235.2 247.0,225.2 249.1,222.5Z" fill="#e0b5f7"/>
<path d="M341.9,226.3C343.3,223.7 346.3,224.3 349.4,223.7C352.5,223.2 357.1,222.9 360.7,223.1C364.2,223.3 368.2,223.9 370.7,225.0C373.2,226.1 375.1,227.9 375.7,230.0C376.4,232.1 375.5,235.4 374.5,237.5C373.4,239.6 371.5,241.3 369.5,242.5C367.4,243.8 364.0,243.8 361.9,245.0C359.8,246.3 358.6,248.4 356.9,250.1C355.2,251.7 353.8,254.2 351.9,255.1C350.0,255.9 347.4,255.9 345.6,255.1C343.9,254.2 342.1,252.8 341.2,250.1C340.4,247.3 340.5,242.8 340.6,238.8C340.7,234.8 340.4,228.8 341.9,226.3Z" fill="#e0b5f7"/>
<path d="M351.9,233.8C352.5,232.2 355.9,231.6 358.2,231.3C360.5,231.0 363.6,231.3 365.7,231.9C367.8,232.5 370.1,233.7 370.7,235.0C371.3,236.4 370.9,238.9 369.5,240.0C368.0,241.2 364.4,241.8 361.9,241.9C359.4,242.0 356.1,242.0 354.4,240.7C352.7,239.3 351.3,235.3 351.9,233.8Z" fill="#cc85f5"/>
<path d="M342.5,237.5C342.6,234.2 342.8,229.7 344.4,227.5C345.9,225.3 349.0,225.0 351.9,224.4C354.8,223.7 358.8,223.4 361.9,223.7C365.1,224.1 368.5,225.0 370.7,226.3C372.9,227.5 374.7,229.4 375.1,231.3C375.5,233.1 374.6,235.7 373.2,237.5C371.9,239.4 369.5,241.3 366.9,242.5C364.4,243.8 360.5,244.0 358.2,245.0C355.9,246.1 354.8,247.9 353.2,248.8C351.5,249.7 349.7,250.9 348.1,250.7C346.6,250.5 344.7,249.7 343.8,247.6C342.8,245.4 342.4,240.9 342.5,237.5Z" fill="none" stroke="#000" stroke-width="1.0" stroke-linejoin="round"/>
<path d="M374.5,179.9C369.4,182.0 375.7,188.5 376.4,192.4C377.0,196.4 377.3,200.4 378.2,203.7C379.2,207.0 380.1,210.4 382.0,212.5C383.9,214.6 387.2,214.8 389.5,216.2C391.8,217.7 393.7,219.4 395.8,221.2C397.9,223.1 399.8,226.5 402.1,227.5C404.4,228.5 407.5,228.8 409.6,227.5C411.7,226.3 413.6,222.9 414.6,220.0C415.6,217.1 415.9,213.3 415.9,210.0C415.9,206.6 415.4,203.1 414.6,199.9C413.8,196.8 412.1,194.5 410.8,191.2C409.6,187.8 413.1,181.8 407.1,179.9C401.0,178.0 379.6,177.8 374.5,179.9Z" fill="#e0b5f7"/>
<path d="M384.5,191.2C385.4,189.9 387.2,189.0 389.5,188.7C391.8,188.3 395.6,188.5 398.3,189.3C401.0,190.1 404.4,191.9 405.8,193.7C407.3,195.4 407.7,198.1 407.1,199.9C406.4,201.8 404.4,204.0 402.1,204.9C399.8,205.9 395.8,206.2 393.3,205.6C390.8,204.9 388.6,202.8 387.0,201.2C385.4,199.6 384.3,197.8 383.9,196.2C383.5,194.5 383.6,192.4 384.5,191.2Z" fill="#cc85f5"/>
<path d="M379.5,183.6C379.4,185.5 378.7,191.6 378.9,194.9C379.1,198.3 379.8,201.2 380.7,203.7C381.7,206.2 382.9,208.3 384.5,210.0C386.1,211.6 388.3,212.7 390.1,213.7C392.0,214.8 393.6,215.3 395.8,216.2C398.0,217.2 401.0,219.6 403.3,219.4C405.6,219.2 407.9,217.0 409.6,215.0C411.3,213.0 412.5,210.4 413.3,207.5C414.2,204.5 415.0,200.4 414.6,197.4C414.2,194.5 412.2,192.2 410.8,189.9C409.5,187.6 407.2,184.7 406.4,183.6" fill="none" stroke="#000" stroke-width="1.0" stroke-linejoin="round"/>
<path d="M429.6,179.9C426.1,181.6 427.3,187.0 427.1,189.9C426.9,192.8 427.3,195.2 428.4,197.4C429.4,199.6 431.3,201.8 433.4,203.1C435.5,204.3 438.6,205.3 440.9,204.9C443.2,204.6 445.6,203.1 447.2,201.2C448.8,199.3 449.9,196.4 450.3,193.7C450.8,191.0 450.0,187.2 449.7,184.9C449.4,182.6 451.8,180.7 448.5,179.9C445.1,179.1 433.2,178.2 429.6,179.9Z" fill="#fff5cc" stroke="#000" stroke-width="1.7" stroke-linejoin="round"/>
<path d="M249.1,247.6C249.9,240.1 252.0,247.6 254.1,246.9C256.2,246.3 258.5,244.6 261.6,243.8C264.8,243.0 269.4,242.5 272.9,241.9C276.5,241.3 280.0,241.0 282.9,240.0C285.9,239.1 288.8,237.9 290.5,236.3C292.1,234.6 293.2,232.1 293.0,230.0C292.8,227.9 291.1,225.6 289.2,223.7C287.3,221.9 283.6,220.6 281.7,218.7C279.8,216.9 278.3,214.8 277.9,212.5C277.5,210.2 278.1,207.2 279.2,204.9C280.2,202.7 282.1,200.0 284.2,198.7C286.3,197.3 288.8,196.8 291.7,196.8C294.6,196.8 298.6,197.5 301.7,198.7C304.9,199.8 307.8,201.6 310.5,203.7C313.2,205.8 315.7,208.5 318.0,211.2C320.3,213.9 322.4,217.1 324.3,220.0C326.2,222.9 328.1,225.8 329.3,228.8C330.6,231.7 331.3,234.4 331.8,237.5C332.4,240.7 332.0,244.4 332.5,247.6C332.9,250.7 333.0,253.8 334.3,256.3C335.7,258.8 338.3,261.1 340.6,262.6C342.9,264.1 345.8,265.1 348.1,265.1C350.4,265.1 352.7,264.1 354.4,262.6C356.1,261.1 356.7,258.2 358.2,256.3C359.6,254.4 361.1,253.0 363.2,251.3C365.3,249.6 368.4,248.0 370.7,246.3C373.0,244.6 374.5,242.5 377.0,241.3C379.5,240.0 382.8,239.3 385.8,238.8C388.7,238.3 391.4,238.2 394.5,238.2C397.7,238.2 401.0,238.9 404.6,238.8C408.1,238.7 412.3,238.4 415.9,237.5C419.4,236.7 423.0,235.4 425.9,233.8C428.8,232.1 430.9,229.2 433.4,227.5C435.9,225.8 438.2,224.6 440.9,223.7C443.6,222.9 447.2,222.6 449.7,222.5C452.2,222.4 454.0,223.0 456.1,223.1C458.2,223.2 461.2,211.7 462.2,223.1C463.3,234.5 497.8,280.0 462.2,291.4C426.7,302.8 284.6,298.7 249.1,291.4C213.6,284.1 248.2,255.0 249.1,247.6Z" fill="#fff5cc" stroke="#000" stroke-width="1.7" stroke-linejoin="round"/>
<path d="M249.1,253.2C249.9,246.7 251.6,253.1 254.1,252.6C256.6,252.0 260.4,250.9 264.1,250.1C267.9,249.2 272.9,248.6 276.7,247.6C280.4,246.5 283.6,245.5 286.7,243.8C289.8,242.1 293.6,240.0 295.5,237.5C297.4,235.0 298.0,231.5 298.0,228.8C298.0,226.0 295.8,223.6 295.5,221.2C295.2,218.8 294.9,215.9 296.1,214.3C297.4,212.8 300.8,211.5 303.0,211.8C305.2,212.2 307.8,214.0 309.3,216.2C310.7,218.4 310.7,222.1 311.8,225.0C312.8,227.9 314.1,231.3 315.5,233.8C317.0,236.3 319.1,237.7 320.6,240.0C322.0,242.3 323.1,244.8 324.3,247.6C325.6,250.3 326.4,253.2 328.1,256.3C329.8,259.5 332.0,263.2 334.3,266.4C336.6,269.5 339.4,272.2 341.9,275.1C344.4,278.0 347.7,281.2 349.4,283.9C351.1,286.6 368.6,290.2 351.9,291.4C335.2,292.7 266.2,297.8 249.1,291.4C231.9,285.0 248.2,259.7 249.1,253.2Z" fill="#ffe97f"/>
<path d="M249.1,266.4C249.9,262.0 252.0,266.1 254.1,265.1C256.2,264.1 258.7,261.5 261.6,260.1C264.5,258.6 268.1,257.4 271.7,256.3C275.2,255.3 279.2,254.9 282.9,253.8C286.7,252.8 290.9,251.3 294.2,250.1C297.6,248.8 300.5,246.7 303.0,246.3C305.5,245.9 307.2,246.5 309.3,247.6C311.4,248.6 313.9,250.5 315.5,252.6C317.2,254.7 318.0,257.2 319.3,260.1C320.6,263.0 321.6,267.0 323.1,270.1C324.5,273.2 326.6,275.3 328.1,278.9C329.5,282.4 345.0,289.3 331.8,291.4C318.7,293.5 262.9,295.6 249.1,291.4C235.3,287.2 248.2,270.7 249.1,266.4Z" fill="#ffcf40"/>
<path d="M276.7,272.6C277.3,270.1 277.5,267.9 279.2,266.4C280.8,264.8 284.0,263.4 286.7,263.2C289.4,263.0 293.1,263.7 295.5,265.1C297.9,266.5 300.1,269.1 301.1,271.4C302.2,273.7 302.3,276.5 301.7,278.9C301.2,281.3 299.0,283.8 298.0,285.9C296.9,288.0 298.8,290.5 295.5,291.4C292.1,292.3 281.3,293.1 277.9,291.4C274.6,289.7 275.6,284.5 275.4,281.4C275.2,278.3 276.0,275.1 276.7,272.6Z" fill="#ffb03b"/>
<path d="M252.8,255.3C254.3,254.7 258.3,252.3 261.6,251.3C265.0,250.3 268.2,250.2 272.9,249.4C277.6,248.7 285.2,248.5 289.8,246.9C294.4,245.4 297.5,241.4 300.5,240.0C303.5,238.7 305.3,238.8 308.0,238.8C310.7,238.8 314.5,239.0 316.8,240.0C319.1,241.1 320.3,242.8 321.8,245.0C323.3,247.3 324.1,250.9 325.6,253.8C327.0,256.7 328.5,259.7 330.6,262.6C332.7,265.5 335.6,268.6 338.1,271.4C340.6,274.1 343.4,276.3 345.6,278.9C347.8,281.5 350.3,285.7 351.3,287.0" fill="none" stroke="#000" stroke-width="1.1" stroke-linejoin="round" stroke-dasharray="4.5 3"/>
<path d="M262.6,287.0C262.9,285.0 263.3,278.8 264.1,275.1C265.0,271.5 265.8,267.6 267.9,265.1C270.0,262.6 273.5,261.3 276.7,260.1C279.8,258.8 283.4,259.0 286.7,257.6C290.0,256.1 293.8,252.6 296.7,251.3C299.7,250.1 302.0,249.9 304.3,250.1C306.6,250.3 308.9,250.9 310.5,252.6C312.2,254.2 313.0,257.2 314.3,260.1C315.5,263.0 316.8,267.0 318.0,270.1C319.3,273.2 320.7,276.1 321.8,278.9C322.9,281.7 324.1,285.7 324.6,287.0" fill="none" stroke="#000" stroke-width="1.9" stroke-linejoin="round" stroke-dasharray="5.5 3"/>
<path d="M380.7,291.4C366.1,289.7 376.1,284.5 374.5,281.4C372.8,278.3 371.2,276.0 370.7,272.6C370.2,269.3 370.9,264.9 371.3,261.3C371.8,257.8 372.1,253.9 373.2,251.3C374.4,248.7 375.1,247.0 378.2,245.7C381.4,244.3 386.6,243.6 392.0,243.2C397.5,242.8 404.6,243.6 410.8,243.2C417.1,242.8 424.4,241.9 429.6,240.7C434.9,239.4 437.8,237.1 442.2,235.7C446.6,234.2 452.8,232.6 456.1,231.9C459.4,231.2 461.2,221.3 462.2,231.3C463.3,241.2 475.8,281.4 462.2,291.4C448.7,301.4 395.4,293.1 380.7,291.4Z" fill="#ffe97f"/>
<path d="M385.1,291.4C371.8,290.2 383.5,287.0 382.0,283.9C380.5,280.8 377.5,276.6 376.4,272.6C375.2,268.6 374.6,263.4 375.1,260.1C375.6,256.7 377.1,254.6 379.5,252.6C381.9,250.6 385.3,249.0 389.5,248.2C393.7,247.3 398.9,247.8 404.6,247.6C410.2,247.3 418.1,247.5 423.4,246.9C428.6,246.4 431.9,245.4 435.9,244.4C439.9,243.5 443.8,242.2 447.2,241.3C450.6,240.3 453.6,239.3 456.1,238.8C458.6,238.3 461.2,229.4 462.2,238.2C463.3,246.9 475.1,282.5 462.2,291.4C449.4,300.3 398.5,292.7 385.1,291.4Z" fill="#ffcf40"/>
<path d="M392.7,291.4C380.5,290.0 390.9,285.8 389.5,282.6C388.2,279.5 385.3,275.3 384.5,272.6C383.7,269.9 383.7,268.6 384.5,266.4C385.3,264.1 387.2,260.8 389.5,258.8C391.8,256.8 394.7,255.4 398.3,254.4C401.8,253.5 406.7,253.2 410.8,253.2C415.0,253.2 419.2,253.9 423.4,254.4C427.6,255.0 431.9,255.8 435.9,256.3C439.9,256.8 443.8,257.6 447.2,257.6C450.6,257.6 453.6,256.6 456.1,256.3C458.6,256.0 461.2,249.9 462.2,255.7C463.3,261.5 473.8,285.5 462.2,291.4C450.6,297.4 404.8,292.9 392.7,291.4Z" fill="#ffb03b"/>
<path d="M398.8,291.4C393.5,289.5 398.2,283.3 398.3,280.1C398.4,277.0 398.5,275.1 399.6,272.6C400.6,270.1 402.5,267.3 404.6,265.1C406.7,262.9 409.2,260.5 412.1,259.5C415.0,258.4 419.0,258.0 422.1,258.8C425.3,259.7 428.4,261.9 430.9,264.5C433.4,267.1 436.1,271.5 436.9,274.5C437.7,277.5 436.6,280.7 435.7,282.6C434.8,284.6 432.4,284.6 431.5,286.0C430.6,287.5 435.7,290.5 430.3,291.4C424.8,292.3 404.1,293.3 398.8,291.4Z" fill="#ff7300"/>
<path d="M379.5,287.0C378.5,286.1 375.4,283.8 373.8,281.4C372.3,279.0 370.7,276.0 370.1,272.6C369.5,269.3 369.4,264.9 370.1,261.3C370.8,257.8 372.9,254.0 374.5,251.3C376.0,248.6 376.6,246.5 379.5,245.0C382.4,243.6 386.8,243.2 392.0,242.8C397.3,242.4 404.6,243.2 410.8,242.8C417.1,242.4 424.4,241.5 429.6,240.3C434.9,239.0 437.6,236.7 442.2,235.3C446.8,233.8 454.7,232.1 457.2,231.5" fill="none" stroke="#000" stroke-width="1.1" stroke-linejoin="round" stroke-dasharray="4.5 3"/>
<path d="M376.4,257.0C377.3,256.2 379.8,253.6 382.0,252.6C384.2,251.5 385.8,251.1 389.5,250.7C393.3,250.3 399.3,250.1 404.6,250.1C409.8,250.1 415.6,250.7 420.9,250.7C426.1,250.7 431.5,250.4 435.9,250.1C440.3,249.7 443.6,249.5 447.2,248.8C450.8,248.1 455.6,246.5 457.2,246.1" fill="none" stroke="#000" stroke-width="1.9" stroke-linejoin="round" stroke-dasharray="5.5 3"/>
<path d="M385.8,287.0C385.9,284.6 385.8,276.7 386.4,272.6C387.0,268.5 388.0,264.9 389.5,262.6C391.1,260.3 393.3,259.7 395.8,258.8C398.3,258.0 401.0,257.6 404.6,257.6C408.1,257.6 412.9,258.2 417.1,258.8C421.3,259.5 425.5,260.5 429.6,261.3C433.8,262.2 437.6,263.6 442.2,263.8C446.8,264.1 454.7,262.8 457.2,262.6" fill="none" stroke="#000" stroke-width="1.1" stroke-linejoin="round" stroke-dasharray="4.5 3"/>
<path d="M424.6,277.0C424.6,278.6 424.4,278.8 422.4,279.9C420.4,281.0 419.9,281.1 417.1,281.1C414.3,281.1 413.8,281.0 411.8,279.9C409.8,278.8 409.6,278.6 409.6,277.0C409.6,275.4 409.8,275.2 411.8,274.1C413.8,273.0 414.3,272.9 417.1,272.9C419.9,272.9 420.4,273.0 422.4,274.1C424.4,275.2 424.6,275.4 424.6,277.0Z" fill="none" stroke="#000" stroke-width="1.9" stroke-linejoin="round" stroke-dasharray="5.5 3"/>
<path d="M457.2,282.4C455.1,282.8 448.5,284.0 444.7,284.9C440.9,285.8 436.3,287.4 434.7,287.9" fill="none" stroke="#000" stroke-width="1.1" stroke-linejoin="round" stroke-dasharray="4.5 3"/>
</g>
<g clip-path="url(#tc20_10)">
<rect x="455.1" y="183.9" width="204.0" height="103.0" fill="#fff5cc"/>
<path d="M451.1,222.5C451.9,229.6 453.2,222.5 456.1,222.5C459.0,222.5 464.9,222.7 468.6,222.5C472.4,222.3 475.3,222.1 478.7,221.2C482.0,220.4 485.8,219.4 488.7,217.5C491.6,215.6 493.9,212.7 496.2,210.0C498.5,207.2 500.2,203.7 502.5,201.2C504.8,198.7 507.3,196.5 510.0,194.9C512.7,193.4 515.9,192.4 518.8,191.8C521.7,191.2 524.9,190.7 527.6,191.2C530.3,191.6 532.8,192.6 535.1,194.3C537.4,196.0 539.5,198.8 541.4,201.2C543.2,203.6 544.5,206.4 546.4,208.7C548.3,211.0 550.1,213.2 552.6,215.0C555.2,216.7 558.1,218.4 561.4,219.4C564.8,220.3 569.2,220.6 572.7,220.6C576.3,220.6 579.8,220.3 582.7,219.4C585.7,218.4 588.4,217.0 590.3,215.0C592.1,213.0 592.8,210.0 594.0,207.5C595.3,204.9 596.5,202.2 597.8,199.9C599.0,197.6 601.3,195.6 601.6,193.7C601.8,191.8 600.3,190.1 599.0,188.7C597.8,187.2 595.2,186.4 594.0,184.9C592.9,183.4 595.0,180.7 592.1,179.9C589.3,179.1 579.9,178.8 577.1,179.9C574.3,180.9 576.4,184.8 575.2,186.2C574.1,187.5 571.9,188.0 570.2,188.0C568.5,188.0 566.3,187.5 565.2,186.2C564.0,184.8 582.3,180.9 563.3,179.9C544.3,178.8 469.8,172.8 451.1,179.9C432.4,187.0 450.2,215.4 451.1,222.5Z" fill="#ecd3fb" stroke="#000" stroke-width="1.7" stroke-linejoin="round"/>
<path d="M487.4,201.2C487.4,205.9 487.1,206.7 484.0,210.1C480.8,213.4 480.0,213.7 475.5,213.7C471.0,213.7 470.3,213.4 467.1,210.1C463.9,206.7 463.6,205.9 463.6,201.2C463.6,196.5 463.9,195.7 467.1,192.3C470.3,189.0 471.0,188.7 475.5,188.7C480.0,188.7 480.8,189.0 484.0,192.3C487.1,195.7 487.4,196.5 487.4,201.2Z" fill="#e0b5f7"/>
<path d="M611.3,218.1C611.3,220.6 611.2,221.0 609.9,222.7C608.7,224.5 608.4,224.6 606.6,224.6C604.8,224.6 604.5,224.5 603.2,222.7C601.9,221.0 601.8,220.6 601.8,218.1C601.8,215.6 601.9,215.2 603.2,213.5C604.5,211.8 604.8,211.6 606.6,211.6C608.4,211.6 608.7,211.8 609.9,213.5C611.2,215.2 611.3,215.6 611.3,218.1Z" fill="#ffe97f"/>
<path d="M631.6,201.2C634.3,201.4 637.5,203.5 640.4,204.9C643.3,206.4 647.1,208.4 649.2,210.0C651.3,211.5 653.0,212.8 653.0,214.3C653.0,215.9 651.3,217.8 649.2,219.4C647.1,220.9 643.3,222.6 640.4,223.7C637.5,224.9 634.2,226.3 631.6,226.3C629.1,226.3 626.9,225.2 625.4,223.7C623.8,222.3 622.9,219.8 622.2,217.5C621.6,215.2 621.2,212.3 621.6,210.0C622.0,207.7 623.1,205.2 624.7,203.7C626.4,202.2 629.0,201.0 631.6,201.2Z" fill="#ecd3fb" stroke="#000" stroke-width="1.7" stroke-linejoin="round"/>
<path d="M451.1,233.1C451.9,223.3 453.2,233.1 456.1,232.5C459.0,231.9 464.5,230.4 468.6,229.4C472.8,228.3 477.0,227.6 481.2,226.3C485.4,224.9 490.2,223.1 493.7,221.2C497.3,219.4 499.4,217.3 502.5,215.0C505.6,212.7 509.0,209.1 512.5,207.5C516.1,205.8 520.7,204.5 523.8,204.9C526.9,205.4 529.0,207.5 531.3,210.0C533.6,212.5 535.5,217.0 537.6,220.0C539.7,223.0 541.2,226.4 543.9,228.1C546.6,229.9 549.7,230.4 553.9,230.6C558.1,230.8 564.4,229.7 568.9,229.4C573.5,229.1 577.3,229.1 581.5,228.8C585.7,228.4 590.5,227.9 594.0,227.5C597.6,227.1 601.1,225.2 602.8,226.3C604.5,227.3 602.8,231.7 604.1,233.8C605.3,235.9 607.4,237.7 610.3,238.8C613.3,239.8 617.6,239.9 621.6,240.0C625.6,240.1 630.0,239.4 634.2,239.4C638.3,239.4 643.3,239.5 646.7,240.0C650.0,240.6 652.3,241.5 654.2,242.5C656.1,243.6 656.4,245.0 658.1,246.3C659.8,247.6 663.2,242.5 664.2,250.1C665.3,257.6 699.8,284.5 664.2,291.4C628.7,298.3 486.6,301.1 451.1,291.4C415.6,281.7 450.2,243.0 451.1,233.1Z" fill="#ffe97f"/>
<path d="M451.1,240.0C451.9,231.4 453.2,240.0 456.1,239.4C459.0,238.8 464.5,237.3 468.6,236.3C472.8,235.2 477.0,234.5 481.2,233.1C485.4,231.8 490.0,229.9 493.7,228.1C497.5,226.4 500.6,224.1 503.7,222.5C506.9,220.9 509.4,219.4 512.5,218.7C515.7,218.1 519.6,217.9 522.6,218.7C525.5,219.6 527.8,221.4 530.1,223.7C532.4,226.0 533.6,230.3 536.3,232.5C539.1,234.7 542.4,236.3 546.4,236.9C550.3,237.5 555.6,236.6 560.2,236.3C564.8,236.0 569.4,235.4 574.0,235.0C578.6,234.6 584.0,233.8 587.8,233.8C591.5,233.8 594.4,233.6 596.5,235.0C598.6,236.5 599.0,240.0 600.3,242.5C601.6,245.0 602.2,248.0 604.1,250.1C605.9,252.1 608.4,254.0 611.6,255.1C614.7,256.1 619.1,256.2 622.9,256.3C626.6,256.4 630.6,255.3 634.2,255.7C637.7,256.1 641.0,257.3 644.2,258.8C647.3,260.4 650.6,263.2 653.0,265.1C655.3,267.0 656.2,268.4 658.1,270.1C660.0,271.8 663.2,271.6 664.2,275.1C665.3,278.7 699.8,288.7 664.2,291.4C628.7,294.1 486.6,300.0 451.1,291.4C415.6,282.9 450.2,248.7 451.1,240.0Z" fill="#ffcf40"/>
<path d="M451.1,255.1C451.9,248.8 453.2,254.9 456.1,253.8C459.0,252.8 464.5,250.7 468.6,248.8C472.8,246.9 477.0,244.6 481.2,242.5C485.4,240.5 490.0,238.1 493.7,236.3C497.5,234.5 500.6,232.8 503.7,231.9C506.9,231.0 509.6,230.3 512.5,230.6C515.5,231.0 518.6,232.2 521.3,233.8C524.0,235.3 525.9,238.4 528.8,240.0C531.8,241.7 535.1,243.2 538.9,243.8C542.6,244.4 547.2,244.1 551.4,243.8C555.6,243.5 560.2,242.1 563.9,241.9C567.7,241.7 571.0,241.6 574.0,242.5C576.9,243.5 579.4,245.5 581.5,247.6C583.6,249.6 584.6,252.6 586.5,255.1C588.4,257.6 590.7,259.9 592.8,262.6C594.9,265.3 597.6,268.9 599.0,271.4C600.5,273.9 601.8,275.5 601.6,277.6C601.3,279.7 599.0,281.6 597.8,283.9C596.5,286.2 618.5,290.2 594.0,291.4C569.6,292.7 474.9,297.5 451.1,291.4C427.3,285.4 450.2,261.3 451.1,255.1Z" fill="#ffb03b"/>
<path d="M481.2,271.4C481.6,269.1 486.6,265.7 488.7,262.6C490.8,259.5 491.6,255.3 493.7,252.6C495.8,249.9 498.3,247.6 501.2,246.3C504.2,245.0 507.9,244.4 511.3,245.0C514.6,245.7 518.0,248.6 521.3,250.1C524.6,251.5 527.6,253.4 531.3,253.8C535.1,254.2 539.7,253.0 543.9,252.6C548.1,252.1 552.6,251.2 556.4,251.3C560.2,251.4 563.7,251.9 566.4,253.2C569.2,254.4 571.9,256.8 572.7,258.8C573.5,260.8 572.9,263.6 571.5,265.1C570.0,266.6 567.3,267.4 563.9,267.6C560.6,267.8 555.2,266.4 551.4,266.4C547.6,266.4 544.7,266.8 541.4,267.6C538.0,268.4 533.4,269.7 531.3,271.4C529.2,273.0 528.8,275.2 528.8,277.6C528.8,280.1 530.5,283.6 531.3,285.9C532.2,288.2 538.4,290.5 533.8,291.4C529.2,292.3 510.4,292.9 503.7,291.4C497.1,290.0 496.6,285.1 493.7,282.6C490.8,280.1 488.3,278.3 486.2,276.4C484.1,274.5 480.8,273.7 481.2,271.4Z" fill="#ff7300"/>
<path d="M619.1,291.4C612.2,291.0 619.1,290.6 620.2,288.8C621.3,287.0 622.9,282.7 625.6,280.6C628.3,278.6 632.7,277.0 636.5,276.5C640.4,276.0 645.3,276.7 648.7,277.9C652.1,279.0 655.0,281.6 656.8,283.4C658.7,285.2 659.2,287.4 660.0,288.8C660.8,290.1 668.5,291.0 661.7,291.4C654.9,291.9 626.0,291.9 619.1,291.4Z" fill="#ffb03b"/>
<path d="M626.0,291.4C626.2,291.0 625.9,290.3 627.0,288.8C628.1,287.2 629.7,283.4 632.4,282.0C635.1,280.7 639.9,280.2 643.3,280.6C646.7,281.1 650.6,283.1 652.8,284.6C655.1,286.2 656.1,289.2 656.7,290.2" fill="none" stroke="#000" stroke-width="1.1" stroke-linejoin="round" stroke-dasharray="4.5 3"/>
<path d="M454.8,232.8C457.1,232.2 464.3,230.5 468.6,229.4C473.0,228.3 477.0,227.6 481.2,226.3C485.4,224.9 490.2,223.1 493.7,221.2C497.3,219.4 499.4,217.1 502.5,215.0C505.6,212.9 508.6,210.0 512.5,208.7C516.5,207.5 523.0,206.8 526.3,207.5C529.7,208.1 530.7,210.2 532.6,212.5C534.5,214.8 535.7,218.5 537.6,221.2C539.5,224.0 541.2,227.1 543.9,228.8C546.6,230.4 549.7,231.1 553.9,231.3C558.1,231.5 564.4,230.3 568.9,230.0C573.5,229.7 577.3,229.7 581.5,229.4C585.7,229.1 590.5,228.7 594.0,228.1C597.6,227.6 600.5,227.4 602.8,226.3C605.1,225.1 606.7,223.1 607.8,221.2C609.0,219.4 609.9,216.3 609.7,215.0C609.5,213.6 607.7,212.7 606.6,213.1C605.4,213.5 603.5,215.3 602.8,217.5C602.1,219.7 602.0,223.5 602.2,226.3C602.4,229.0 602.7,231.7 604.1,233.8C605.4,235.9 607.4,237.7 610.3,238.8C613.3,239.8 617.6,239.9 621.6,240.0C625.6,240.1 630.0,239.4 634.2,239.4C638.3,239.4 643.3,239.5 646.7,240.0C650.0,240.6 652.1,241.4 654.2,242.5C656.3,243.7 658.4,246.2 659.2,246.9" fill="none" stroke="#000" stroke-width="1.1" stroke-linejoin="round" stroke-dasharray="4.5 3"/>
<path d="M454.8,243.4C457.1,242.9 464.3,241.2 468.6,240.0C473.0,238.8 477.0,237.7 481.2,236.3C485.4,234.8 490.0,232.8 493.7,231.3C497.5,229.7 500.8,227.8 503.7,226.9C506.7,225.9 508.8,225.3 511.3,225.6C513.8,225.9 516.5,227.2 518.8,228.8C521.1,230.3 522.6,233.4 525.1,235.0C527.6,236.7 530.3,237.9 533.8,238.8C537.4,239.6 542.0,240.0 546.4,240.0C550.8,240.0 555.6,239.2 560.2,238.8C564.8,238.4 569.6,237.3 574.0,237.5C578.4,237.7 583.2,238.8 586.5,240.0C589.8,241.3 591.9,243.0 594.0,245.0C596.1,247.1 597.0,250.3 599.0,252.6C601.1,254.9 603.2,257.6 606.6,258.8C609.9,260.1 614.9,260.1 619.1,260.1C623.3,260.1 627.9,258.6 631.6,258.8C635.4,259.0 638.5,260.1 641.7,261.3C644.8,262.6 647.5,264.4 650.5,266.4C653.4,268.3 657.8,272.1 659.2,273.2" fill="none" stroke="#000" stroke-width="1.9" stroke-linejoin="round" stroke-dasharray="5.5 3"/>
<path d="M454.8,254.1C457.1,253.4 464.3,251.6 468.6,250.1C473.0,248.6 477.0,246.7 481.2,245.0C485.4,243.4 489.5,241.3 493.7,240.0C497.9,238.8 502.9,237.5 506.3,237.5C509.6,237.5 511.3,238.8 513.8,240.0C516.3,241.3 518.0,243.8 521.3,245.0C524.6,246.3 529.2,247.2 533.8,247.6C538.4,247.9 543.9,247.1 548.9,246.9C553.9,246.7 560.0,246.2 563.9,246.3C567.9,246.4 569.8,246.7 572.7,247.6C575.6,248.4 579.2,249.4 581.5,251.3C583.8,253.2 584.4,256.3 586.5,258.8C588.6,261.3 591.7,263.8 594.0,266.4C596.3,268.9 599.9,271.6 600.3,273.9C600.7,276.2 598.8,278.9 596.5,280.1C594.2,281.4 589.8,280.8 586.5,281.4C583.2,282.0 579.5,283.0 576.5,283.9C573.4,284.8 569.7,286.5 568.3,287.0" fill="none" stroke="#000" stroke-width="1.1" stroke-linejoin="round" stroke-dasharray="4.5 3"/>
<path d="M509.4,287.0C508.0,285.9 503.9,282.5 501.2,280.1C498.6,277.7 495.6,275.1 493.7,272.6C491.8,270.1 490.2,268.0 490.0,265.1C489.7,262.2 491.0,257.9 492.5,255.1C493.9,252.3 496.0,249.5 498.7,248.2C501.4,246.8 505.6,246.4 508.8,246.9C511.9,247.5 515.2,249.3 517.5,251.3C519.8,253.3 520.3,257.4 522.6,258.8C524.9,260.3 528.0,261.0 531.3,260.1C534.7,259.1 538.0,254.9 542.6,253.2C547.2,251.5 554.5,250.3 558.9,250.1C563.3,249.9 566.0,250.5 568.9,251.9C571.9,253.4 575.4,256.4 576.5,258.8C577.5,261.2 576.5,264.5 575.2,266.4C574.0,268.2 572.1,269.7 568.9,270.1C565.8,270.5 560.6,269.4 556.4,268.9C552.2,268.3 548.1,267.6 543.9,267.0C539.7,266.4 535.1,265.0 531.3,265.1C527.6,265.2 523.8,266.1 521.3,267.6C518.8,269.1 517.3,271.8 516.3,273.9C515.2,276.0 514.6,277.9 515.0,280.1C515.5,282.3 518.2,285.9 518.8,287.0" fill="none" stroke="#000" stroke-width="1.9" stroke-linejoin="round" stroke-dasharray="5.5 3"/>
</g>
<g clip-path="url(#tc30_10)">
<rect x="657.1" y="183.9" width="103.0" height="103.0" fill="#fff5cc"/>
<path d="M711.4,195.9C711.4,198.4 711.0,198.8 707.4,200.5C703.7,202.3 702.8,202.4 697.6,202.4C692.4,202.4 691.5,202.3 687.8,200.5C684.2,198.8 683.8,198.4 683.8,195.9C683.8,193.5 684.2,193.1 687.8,191.3C691.5,189.6 692.4,189.4 697.6,189.4C702.8,189.4 703.7,189.6 707.4,191.3C711.0,193.1 711.4,193.5 711.4,195.9Z" fill="#ffe97f" stroke="#000" stroke-width="1.1" stroke-linejoin="round" stroke-dasharray="4.5 3"/>
<path d="M764.7,200.6C763.7,196.1 761.8,200.5 759.0,200.6C756.3,200.6 751.6,201.1 748.4,200.9C745.1,200.7 742.3,199.7 739.6,199.3C736.9,198.9 734.4,198.1 732.1,198.4C729.8,198.7 728.1,199.7 725.8,201.2C723.5,202.7 720.8,205.4 718.3,207.5C715.8,209.5 713.1,211.6 710.8,213.7C708.5,215.8 707.0,218.8 704.5,220.0C702.0,221.1 698.6,220.3 695.7,220.6C692.8,220.9 689.3,220.9 686.9,221.9C684.5,222.8 682.7,224.3 681.3,226.3C679.9,228.2 679.0,231.3 678.8,233.8C678.6,236.3 679.3,239.0 680.0,241.3C680.8,243.6 681.8,246.3 683.2,247.6C684.5,248.8 686.5,249.2 688.2,248.8C689.9,248.4 691.5,246.9 693.2,245.0C694.9,243.2 696.8,240.0 698.2,237.5C699.7,235.0 700.8,232.1 702.0,230.0C703.1,227.9 703.2,225.5 705.1,224.7C707.0,224.0 710.2,225.1 713.3,225.6C716.3,226.2 720.2,227.2 723.3,228.1C726.4,229.1 729.6,229.7 732.1,231.3C734.6,232.8 736.5,235.8 738.3,237.5C740.2,239.3 741.7,241.1 743.4,241.9C745.0,242.8 746.7,243.3 748.4,242.5C750.1,241.8 751.9,239.6 753.4,237.5C754.9,235.4 755.3,231.7 757.2,230.0C759.0,228.3 763.4,232.4 764.7,227.5C765.9,222.6 765.6,205.1 764.7,200.6Z" fill="#ecd3fb" stroke="#000" stroke-width="1.7" stroke-linejoin="round"/>
<path d="M653.1,245.0C653.9,237.5 656.4,244.6 658.1,246.3C659.8,248.0 661.0,252.6 663.1,255.1C665.2,257.6 667.7,259.9 670.6,261.3C673.6,262.8 677.3,263.7 680.7,263.8C684.0,263.9 687.8,263.6 690.7,262.0C693.6,260.3 695.7,256.3 698.2,253.8C700.7,251.3 703.2,248.4 705.7,246.9C708.3,245.5 710.8,244.8 713.3,245.0C715.8,245.3 718.5,246.5 720.8,248.2C723.1,249.9 724.6,253.5 727.1,255.1C729.6,256.6 732.3,257.3 735.8,257.6C739.4,257.8 743.6,256.8 748.4,256.6C753.2,256.4 762.0,250.5 764.7,256.3C767.4,262.1 783.3,285.6 764.7,291.4C746.1,297.3 671.7,299.1 653.1,291.4C634.5,283.7 652.2,252.6 653.1,245.0Z" fill="#ffe97f"/>
<path d="M680.7,277.6C680.9,276.3 687.6,274.5 690.7,272.6C693.8,270.7 696.8,268.1 699.5,266.4C702.2,264.6 704.5,262.2 707.0,262.0C709.5,261.8 711.8,263.5 714.5,265.1C717.2,266.7 720.2,269.5 723.3,271.4C726.4,273.2 729.6,275.2 733.3,276.4C737.1,277.5 740.6,277.9 745.9,278.3C751.1,278.6 761.5,276.1 764.7,278.3C767.8,280.4 774.4,289.2 764.7,291.4C755.0,293.6 717.2,292.7 706.4,291.4C695.5,290.2 702.3,285.7 699.5,283.9C696.7,282.1 692.6,281.8 689.4,280.8C686.3,279.7 680.5,279.0 680.7,277.6Z" fill="#ffcf40"/>
<path d="M653.1,267.6C653.9,263.8 656.0,267.6 658.1,268.9C660.2,270.1 663.1,272.8 665.6,275.1C668.1,277.4 671.5,279.9 673.1,282.6C674.8,285.4 679.0,290.0 675.7,291.4C672.3,292.9 656.8,295.4 653.1,291.4C649.3,287.4 652.2,271.4 653.1,267.6Z" fill="#ffcf40"/>
<path d="M656.8,247.6C657.7,249.0 660.0,253.6 661.9,256.3C663.7,259.0 665.6,262.0 668.1,263.8C670.6,265.7 673.8,267.0 676.9,267.6C680.0,268.2 684.0,268.2 686.9,267.6C689.9,267.0 692.2,265.9 694.5,263.8C696.8,261.8 698.6,257.7 700.7,255.1C702.8,252.5 704.9,249.6 707.0,248.2C709.1,246.8 711.2,246.2 713.3,246.6C715.4,246.9 717.5,248.2 719.5,250.1C721.6,251.9 723.7,255.8 725.8,257.6C727.9,259.4 729.2,260.3 732.1,260.7C735.0,261.1 740.0,259.6 743.4,259.8C746.7,260.0 749.3,260.5 752.1,262.0C755.0,263.5 758.9,267.7 760.3,268.9" fill="none" stroke="#000" stroke-width="1.1" stroke-linejoin="round" stroke-dasharray="4.5 3"/>
<path d="M656.8,275.4C658.1,276.4 662.0,279.4 664.4,281.4C666.8,283.3 670.1,286.1 671.3,287.0" fill="none" stroke="#000" stroke-width="1.9" stroke-linejoin="round" stroke-dasharray="5.5 3"/>
</g>
<g clip-path="url(#tc0_20)">
<rect x="51.1" y="284.9" width="204.0" height="103.0" fill="#ffe97f"/>
<path d="M47.1,280.9C63.3,269.6 127.8,279.9 144.3,280.9C160.8,281.8 144.6,285.0 146.1,286.5C147.7,288.1 151.7,288.7 153.7,290.3C155.6,291.9 157.5,293.3 158.1,295.9C158.6,298.5 157.5,302.4 156.8,305.9C156.1,309.5 154.8,313.9 153.7,317.2C152.5,320.6 151.6,324.0 149.9,326.0C148.2,328.0 145.7,329.1 143.6,329.1C141.5,329.1 139.7,327.6 137.4,326.0C135.1,324.4 132.3,321.6 129.8,319.7C127.3,317.9 124.6,315.3 122.3,314.7C120.0,314.1 117.7,314.5 116.0,316.0C114.4,317.4 112.7,320.6 112.3,323.5C111.9,326.4 113.5,330.2 113.5,333.5C113.5,336.9 112.9,340.2 112.3,343.5C111.7,346.9 111.0,350.9 109.8,353.6C108.5,356.3 106.6,359.2 104.8,359.8C102.9,360.5 100.6,359.0 98.5,357.3C96.4,355.7 94.3,352.1 92.2,349.8C90.1,347.5 88.5,345.0 86.0,343.5C83.4,342.1 80.3,341.0 77.2,341.0C74.0,341.0 70.5,342.5 67.1,343.5C63.8,344.6 60.5,346.5 57.1,347.3C53.8,348.1 48.8,359.6 47.1,348.6C45.4,337.5 30.9,292.2 47.1,280.9Z" fill="#fff5cc"/>
<path d="M47.1,366.1C48.8,362.1 53.8,363.8 57.1,362.3C60.5,360.9 64.0,358.8 67.1,357.3C70.3,355.9 73.6,353.4 75.9,353.6C78.2,353.8 79.7,356.3 80.9,358.6C82.2,360.9 83.4,364.4 83.4,367.4C83.4,370.3 82.4,373.6 80.9,376.1C79.5,378.6 77.4,380.9 74.7,382.4C72.0,383.9 69.2,384.3 64.6,384.9C60.0,385.5 50.0,389.3 47.1,386.1C44.2,383.0 45.4,370.1 47.1,366.1Z" fill="#ffcf40"/>
<path d="M133.6,338.5C133.6,342.3 133.4,342.9 131.2,345.6C129.0,348.3 128.5,348.6 125.5,348.6C122.4,348.6 121.9,348.3 119.7,345.6C117.5,342.9 117.3,342.3 117.3,338.5C117.3,334.7 117.5,334.1 119.7,331.4C121.9,328.8 122.4,328.5 125.5,328.5C128.5,328.5 129.0,328.8 131.2,331.4C133.4,334.1 133.6,334.7 133.6,338.5Z" fill="#ffcf40"/>
<path d="M70.9,314.7C71.0,312.3 72.4,309.5 74.0,307.8C75.7,306.2 78.5,305.1 80.9,304.7C83.3,304.3 86.2,304.5 88.5,305.3C90.8,306.2 93.3,307.7 94.7,309.7C96.2,311.7 97.0,314.7 97.2,317.2C97.4,319.7 97.2,323.2 96.0,324.7C94.7,326.3 92.2,326.5 89.7,326.6C87.2,326.7 83.7,326.1 80.9,325.4C78.2,324.6 75.1,324.0 73.4,322.2C71.7,320.5 70.8,317.1 70.9,314.7Z" fill="#ecd3fb" stroke="#000" stroke-width="1.7" stroke-linejoin="round"/>
<path d="M112.3,392.4C107.5,390.3 113.5,383.2 114.8,379.9C116.0,376.5 117.7,374.0 119.8,372.4C121.9,370.7 124.8,369.9 127.3,369.9C129.8,369.9 132.8,370.9 134.9,372.4C136.9,373.8 138.6,376.2 139.9,378.6C141.1,381.1 141.8,384.6 142.4,386.9C143.0,389.2 148.6,391.5 143.6,392.4C138.6,393.3 117.1,394.5 112.3,392.4Z" fill="#fff5cc"/>
<path d="M217.6,373.6C218.2,371.5 219.9,368.9 221.4,367.4C222.8,365.8 224.7,364.2 226.4,364.2C228.1,364.2 230.4,365.8 231.4,367.4C232.4,368.9 233.1,371.5 232.7,373.6C232.2,375.7 230.6,378.4 228.9,379.9C227.2,381.3 224.5,382.4 222.6,382.4C220.7,382.4 218.4,381.3 217.6,379.9C216.8,378.4 217.0,375.7 217.6,373.6Z" fill="#fff5cc"/>
<path d="M171.2,314.7C171.0,311.4 173.1,306.6 175.0,303.4C176.9,300.3 180.0,296.8 182.5,295.9C185.0,295.1 187.5,297.4 190.0,298.4C192.5,299.5 194.2,301.1 197.6,302.2C200.9,303.2 205.5,304.1 210.1,304.7C214.7,305.3 220.5,306.6 225.1,305.9C229.7,305.3 234.5,303.0 237.7,300.9C240.8,298.8 242.3,296.8 243.9,293.4C245.6,290.1 245.0,283.0 247.7,280.9C250.4,278.8 258.2,267.5 260.2,280.9C262.3,294.3 261.5,347.9 260.2,361.1C259.0,374.2 255.2,361.1 252.7,359.8C250.2,358.6 247.9,355.7 245.2,353.6C242.5,351.5 239.3,349.2 236.4,347.3C233.5,345.4 230.6,343.5 227.6,342.3C224.7,341.0 221.2,340.8 218.9,339.8C216.6,338.7 215.7,337.5 213.9,336.0C212.0,334.6 209.9,332.5 207.6,331.0C205.3,329.5 203.4,328.1 200.1,327.3C196.7,326.4 191.5,326.6 187.5,326.0C183.5,325.4 179.0,325.4 176.2,323.5C173.5,321.6 171.4,318.1 171.2,314.7Z" fill="#ffcf40"/>
<path d="M154.9,373.6C155.3,371.3 157.8,370.3 159.9,368.6C162.0,366.9 165.4,365.7 167.5,363.6C169.5,361.5 171.2,358.6 172.5,356.1C173.7,353.6 173.3,350.4 175.0,348.6C176.7,346.7 179.6,345.5 182.5,344.8C185.4,344.1 189.2,343.8 192.5,344.2C195.9,344.6 200.0,345.7 202.6,347.3C205.2,348.9 207.6,351.3 208.2,353.6C208.8,355.9 207.9,359.0 206.3,361.1C204.8,363.2 201.9,364.8 198.8,366.1C195.7,367.4 191.1,367.6 187.5,368.6C184.0,369.6 180.0,370.7 177.5,372.4C175.0,374.0 174.6,376.7 172.5,378.6C170.4,380.5 167.5,383.0 164.9,383.6C162.4,384.3 159.1,384.1 157.4,382.4C155.8,380.7 154.5,375.9 154.9,373.6Z" fill="#ffcf40"/>
<path d="M189.4,357.3C189.4,358.7 189.3,359.0 188.1,360.0C186.9,361.0 186.7,361.1 185.0,361.1C183.4,361.1 183.1,361.0 181.9,360.0C180.7,359.0 180.6,358.7 180.6,357.3C180.6,355.9 180.7,355.7 181.9,354.7C183.1,353.7 183.4,353.6 185.0,353.6C186.7,353.6 186.9,353.7 188.1,354.7C189.3,355.7 189.4,355.9 189.4,357.3Z" fill="#ffb03b"/>
<path d="M50.8,355.2C52.7,354.3 58.6,351.5 62.1,349.8C65.7,348.1 69.0,346.0 72.2,344.8C75.3,343.5 78.2,342.1 80.9,342.3C83.7,342.5 86.2,344.2 88.5,346.0C90.8,347.9 92.4,351.1 94.7,353.6C97.0,356.1 100.2,360.3 102.3,361.1C104.3,361.9 105.8,360.7 107.3,358.6C108.7,356.5 110.2,352.3 111.0,348.6C111.9,344.8 111.9,339.6 112.3,336.0C112.7,332.5 112.5,330.0 113.5,327.3C114.6,324.5 116.3,321.2 118.6,319.7C120.9,318.3 124.8,317.9 127.3,318.5C129.8,319.1 131.1,321.2 133.6,323.5C136.1,325.8 139.9,330.3 142.4,332.3C144.9,334.2 146.8,335.6 148.6,335.4C150.5,335.2 152.2,333.4 153.7,331.0C155.1,328.6 156.2,324.3 157.4,321.0C158.7,317.6 159.7,314.5 161.2,311.0C162.7,307.4 165.3,302.8 166.2,299.7C167.1,296.6 167.7,294.1 166.8,292.2C166.0,290.2 163.8,289.0 161.2,287.8C158.6,286.5 152.8,285.2 151.2,284.6" fill="none" stroke="#000" stroke-width="1.1" stroke-linejoin="round" stroke-dasharray="4.5 3"/>
<path d="M165.3,353.6C165.3,355.7 165.1,356.1 163.2,357.6C161.3,359.1 160.8,359.2 158.1,359.2C155.3,359.2 154.8,359.1 152.9,357.6C151.0,356.1 150.8,355.7 150.8,353.6C150.8,351.4 151.0,351.1 152.9,349.6C154.8,348.1 155.3,347.9 158.1,347.9C160.8,347.9 161.3,348.1 163.2,349.6C165.1,351.1 165.3,351.4 165.3,353.6Z" fill="none" stroke="#000" stroke-width="1.1" stroke-linejoin="round" stroke-dasharray="4.5 3"/>
<path d="M99.1,388.0C100.3,386.5 103.8,381.4 106.0,378.6C108.2,375.8 110.0,373.0 112.3,371.1C114.6,369.2 116.9,368.0 119.8,367.4C122.7,366.7 126.7,366.9 129.8,367.4C133.0,367.8 136.3,368.4 138.6,369.9C140.9,371.3 142.2,373.8 143.6,376.1C145.1,378.4 146.0,381.7 147.4,383.6C148.8,385.6 151.1,387.3 151.8,388.0" fill="none" stroke="#000" stroke-width="1.1" stroke-linejoin="round" stroke-dasharray="4.5 3"/>
<path d="M255.2,373.6C253.6,373.8 249.0,374.5 245.2,374.9C241.4,375.3 236.8,375.8 232.7,376.1C228.5,376.4 224.1,376.5 220.1,376.7C216.1,377.0 212.2,377.5 208.8,377.4C205.5,377.3 203.2,376.5 200.1,376.1C196.9,375.7 193.0,374.7 190.0,374.9C187.1,375.1 184.8,375.9 182.5,377.4C180.2,378.8 178.0,381.9 176.2,383.6C174.5,385.4 172.6,387.3 171.8,388.0" fill="none" stroke="#000" stroke-width="1.1" stroke-linejoin="round" stroke-dasharray="4.5 3"/>
<path d="M207.6,376.1C208.2,374.5 209.7,369.2 211.3,366.1C213.0,363.0 215.1,359.3 217.6,357.3C220.1,355.3 223.5,354.2 226.4,354.2C229.3,354.2 232.9,355.6 235.2,357.3C237.5,359.1 239.6,362.1 240.2,364.8C240.8,367.6 240.0,370.9 238.9,373.6C237.9,376.3 235.9,378.7 233.9,381.1C231.9,383.5 228.2,386.9 227.0,388.0" fill="none" stroke="#000" stroke-width="1.1" stroke-linejoin="round" stroke-dasharray="4.5 3"/>
<path d="M255.2,320.4C254.0,319.6 250.6,316.8 247.7,316.0C244.8,315.1 241.0,315.3 237.7,315.3C234.3,315.3 230.6,316.2 227.6,316.0C224.7,315.8 222.8,314.9 220.1,314.1C217.4,313.3 214.7,311.9 211.3,311.0C208.0,310.0 203.8,309.2 200.1,308.5C196.3,307.7 191.9,306.6 188.8,306.6C185.6,306.6 183.1,307.3 181.2,308.5C179.4,309.6 177.7,311.7 177.5,313.5C177.3,315.2 178.5,317.6 180.0,319.1C181.5,320.6 183.3,321.5 186.3,322.2C189.2,323.0 193.6,323.1 197.6,323.5C201.5,323.9 206.5,323.8 210.1,324.7C213.6,325.7 216.4,327.3 218.9,329.1C221.4,331.0 222.6,334.0 225.1,336.0C227.6,338.0 230.6,339.9 233.9,341.0C237.3,342.2 241.6,342.7 245.2,342.9C248.8,343.1 253.6,342.4 255.2,342.3" fill="none" stroke="#000" stroke-width="1.9" stroke-linejoin="round" stroke-dasharray="5.5 3"/>
</g>
<g clip-path="url(#tc10_20)">
<rect x="253.1" y="284.9" width="204.0" height="103.0" fill="#ffcf40"/>
<path d="M249.1,361.1C250.5,356.1 255.8,360.7 257.9,362.3C260.0,364.0 261.2,368.0 261.6,371.1C262.0,374.2 261.6,378.5 260.4,381.1C259.1,383.8 256.0,385.0 254.1,386.9C252.2,388.8 249.9,396.7 249.1,392.4C248.2,388.1 247.6,366.1 249.1,361.1Z" fill="#ffe97f"/>
<path d="M265.4,336.0C265.0,333.3 266.0,329.4 267.9,327.3C269.8,325.1 273.5,323.5 276.7,322.9C279.8,322.2 283.8,322.6 286.7,323.5C289.6,324.4 292.8,326.2 294.2,328.5C295.7,330.8 296.1,334.8 295.5,337.3C294.9,339.8 293.2,342.1 290.5,343.5C287.7,345.0 282.5,346.0 279.2,346.0C275.8,346.0 272.7,345.2 270.4,343.5C268.1,341.9 265.8,338.7 265.4,336.0Z" fill="#ffe97f"/>
<path d="M334.3,280.9C326.6,283.0 332.7,289.5 331.8,293.4C331.0,297.4 330.0,300.7 329.3,304.7C328.7,308.7 327.7,313.7 328.1,317.2C328.5,320.8 329.8,324.2 331.8,326.0C333.9,327.8 338.1,326.6 340.6,327.9C343.1,329.1 345.4,331.3 346.9,333.5C348.3,335.7 348.1,339.2 349.4,341.0C350.6,342.9 352.5,345.0 354.4,344.8C356.3,344.6 358.6,342.7 360.7,339.8C362.8,336.9 365.1,331.4 366.9,327.3C368.8,323.1 370.6,318.5 372.0,314.7C373.3,311.0 374.1,308.2 375.1,304.7C376.1,301.1 377.7,297.4 378.2,293.4C378.8,289.5 385.5,283.0 378.2,280.9C370.9,278.8 342.1,278.8 334.3,280.9Z" fill="#ffe97f"/>
<path d="M346.9,280.9C341.5,282.1 347.7,286.5 349.4,288.4C351.1,290.3 354.6,291.3 356.9,292.2C359.2,293.0 360.9,293.0 363.2,293.4C365.5,293.8 368.7,294.3 370.7,294.7C372.7,295.1 373.4,295.5 375.1,295.9C376.8,296.3 379.4,297.6 380.7,297.2C382.1,296.8 382.8,295.3 383.2,293.4C383.7,291.5 383.5,288.0 383.2,285.9C383.0,283.8 388.1,281.7 382.0,280.9C375.9,280.1 352.3,279.6 346.9,280.9Z" fill="#fff5cc"/>
<path d="M308.0,386.9C308.2,384.2 308.2,379.2 309.3,376.1C310.3,373.1 311.8,370.5 314.3,368.6C316.8,366.7 321.0,365.7 324.3,364.8C327.7,364.0 332.3,365.1 334.3,363.6C336.4,362.1 335.6,358.2 336.9,356.1C338.1,354.0 339.8,351.5 341.9,351.1C344.0,350.6 347.3,351.9 349.4,353.6C351.5,355.2 353.8,358.2 354.4,361.1C355.0,364.0 354.2,368.2 353.2,371.1C352.1,374.0 350.0,376.5 348.1,378.6C346.3,380.7 343.8,381.3 341.9,383.6C340.0,385.9 342.5,391.0 336.9,392.4C331.2,393.9 312.8,393.3 308.0,392.4C303.2,391.5 307.8,389.6 308.0,386.9Z" fill="#ffe97f"/>
<path d="M308.9,313.5C308.9,315.8 308.7,316.2 307.2,317.9C305.7,319.6 305.4,319.7 303.3,319.7C301.1,319.7 300.8,319.6 299.3,317.9C297.8,316.2 297.6,315.8 297.6,313.5C297.6,311.1 297.8,310.7 299.3,309.0C300.8,307.4 301.1,307.2 303.3,307.2C305.4,307.2 305.7,307.4 307.2,309.0C308.7,310.7 308.9,311.1 308.9,313.5Z" fill="#ffb03b"/>
<path d="M462.2,298.4C460.6,290.5 455.6,301.6 452.2,303.4C448.9,305.3 444.5,307.2 442.2,309.7C439.9,312.2 438.9,315.1 438.4,318.5C437.9,321.8 438.4,326.2 439.0,329.8C439.7,333.3 441.5,336.2 442.2,339.8C442.9,343.3 442.2,348.3 443.4,351.1C444.7,353.8 447.6,355.7 449.7,356.1C451.8,356.5 454.0,354.4 456.1,353.6C458.2,352.7 461.2,360.3 462.2,351.1C463.3,341.9 463.9,306.4 462.2,298.4Z" fill="#ffe97f"/>
<path d="M462.2,280.9C474.2,283.0 463.4,291.2 462.2,293.4C461.1,295.6 458.5,293.7 455.3,294.2C452.2,294.7 447.0,295.1 443.3,296.3C439.6,297.5 436.1,299.1 433.3,301.3C430.4,303.5 427.8,306.0 426.3,309.3C424.8,312.7 423.9,317.4 424.3,321.4C424.6,325.4 426.6,329.4 428.3,333.4C429.9,337.4 433.3,341.7 434.3,345.4C435.3,349.1 435.5,352.8 434.3,355.4C433.1,358.1 430.1,359.8 427.3,361.5C424.4,363.1 420.6,364.0 417.2,365.5C413.9,367.0 410.5,368.8 407.2,370.5C403.9,372.2 400.8,374.2 397.2,375.5C393.5,376.8 389.1,378.2 385.1,378.5C381.1,378.8 376.4,378.7 373.1,377.5C369.7,376.3 367.2,374.2 365.1,371.5C362.9,368.8 361.1,365.1 360.1,361.5C359.0,357.8 358.2,353.4 359.0,349.4C359.9,345.4 363.1,341.1 365.1,337.4C367.1,333.7 369.4,330.7 371.1,327.4C372.8,324.0 373.8,320.4 375.1,317.4C376.4,314.3 377.6,312.3 379.1,309.3C380.6,306.4 382.4,302.4 383.9,299.7C385.4,297.0 387.1,295.4 388.1,293.2C389.2,290.9 389.7,288.1 390.1,286.0C390.6,284.0 378.8,281.7 390.8,280.9C402.8,280.0 450.3,278.8 462.2,280.9Z" fill="#ffb03b"/>
<path d="M432.2,280.9C437.9,281.7 432.8,284.3 431.3,286.0C429.8,287.7 425.9,289.3 423.2,291.2C420.6,293.0 417.1,294.8 415.2,297.2C413.4,299.5 412.5,302.3 412.2,305.3C411.9,308.4 412.9,312.0 413.2,315.3C413.6,318.7 414.2,321.7 414.2,325.4C414.2,329.0 414.1,333.4 413.2,337.4C412.4,341.4 410.9,346.1 409.2,349.4C407.5,352.8 405.5,354.8 403.2,357.5C400.8,360.1 398.2,363.6 395.2,365.5C392.2,367.3 388.3,368.5 385.1,368.5C382.0,368.5 378.4,367.6 376.1,365.5C373.8,363.3 371.8,359.3 371.1,355.4C370.4,351.6 371.6,346.4 372.1,342.4C372.6,338.4 373.3,334.9 374.1,331.4C374.8,327.9 375.4,324.6 376.6,321.4C377.8,318.2 379.0,315.2 381.1,312.2C383.2,309.2 386.8,305.8 389.1,303.3C391.5,300.8 393.2,299.2 395.2,297.2C397.2,295.2 400.7,293.5 401.2,291.2C401.7,288.8 398.9,284.9 398.2,283.1C397.5,281.4 391.4,281.3 397.0,280.9C402.7,280.5 426.4,280.0 432.2,280.9Z" fill="#ff7300"/>
<path d="M377.6,327.3C378.5,324.7 380.0,324.1 382.0,323.5C384.0,322.9 387.2,322.9 389.5,323.5C391.8,324.1 394.1,325.2 395.8,327.3C397.5,329.3 399.1,332.9 399.6,336.0C400.0,339.2 398.9,342.7 398.3,346.0C397.7,349.4 397.0,353.4 395.8,356.1C394.5,358.8 392.9,361.0 390.8,362.3C388.7,363.7 385.4,364.4 383.2,364.2C381.1,364.0 378.9,363.3 377.6,361.1C376.4,358.9 375.9,354.8 375.7,351.1C375.5,347.3 376.0,342.5 376.4,338.5C376.7,334.6 376.7,329.8 377.6,327.3Z" fill="#e3261f"/>
<path d="M263.5,284.6C263.7,285.9 263.6,290.4 264.8,292.2C265.9,293.9 268.0,295.1 270.4,295.3C272.8,295.5 276.5,293.3 279.2,293.4C281.9,293.5 284.8,294.3 286.7,295.9C288.6,297.6 290.1,300.7 290.5,303.4C290.8,306.2 288.4,309.5 288.6,312.2C288.8,314.9 290.1,317.4 291.7,319.7C293.3,322.0 295.7,324.0 298.0,326.0C300.3,328.0 303.2,330.8 305.5,331.6C307.8,332.5 309.9,332.4 311.8,331.0C313.7,329.7 315.4,326.8 316.8,323.5C318.2,320.2 318.9,315.1 319.9,311.0C321.0,306.8 322.1,302.8 323.1,298.4C324.0,294.0 325.4,286.9 325.8,284.6" fill="none" stroke="#000" stroke-width="1.9" stroke-linejoin="round" stroke-dasharray="5.5 3"/>
<path d="M276.7,383.0C276.3,381.9 275.4,378.5 274.2,376.1C272.9,373.7 270.8,371.1 269.1,368.6C267.5,366.1 265.1,363.6 264.1,361.1C263.2,358.6 262.9,355.2 263.5,353.6C264.1,351.9 265.3,351.5 267.9,351.1C270.5,350.6 275.6,350.5 279.2,351.1C282.7,351.6 286.5,352.5 289.2,354.2C291.9,355.9 293.4,358.9 295.5,361.1C297.6,363.3 299.9,365.3 301.7,367.4C303.6,369.4 305.7,371.3 306.8,373.6C307.8,375.9 307.9,378.7 308.0,381.1C308.1,383.5 307.5,386.9 307.4,388.0" fill="none" stroke="#000" stroke-width="1.9" stroke-linejoin="round" stroke-dasharray="5.5 3"/>
<path d="M330.7,353.6C330.7,356.6 330.5,357.2 328.6,359.3C326.6,361.5 326.2,361.7 323.4,361.7C320.7,361.7 320.2,361.5 318.3,359.3C316.4,357.2 316.2,356.6 316.2,353.6C316.2,350.5 316.4,350.0 318.3,347.8C320.2,345.6 320.7,345.4 323.4,345.4C326.2,345.4 326.6,345.6 328.6,347.8C330.5,350.0 330.7,350.5 330.7,353.6Z" fill="none" stroke="#000" stroke-width="1.9" stroke-linejoin="round" stroke-dasharray="5.5 3"/>
<path d="M345.6,376.1C346.7,375.5 350.2,374.5 351.9,372.4C353.6,370.3 354.4,366.7 355.7,363.6C356.9,360.5 357.8,356.5 359.4,353.6C361.1,350.6 363.6,347.9 365.7,346.0C367.8,344.2 370.4,343.1 372.0,342.3C373.5,341.5 374.6,341.2 375.1,341.0" fill="none" stroke="#000" stroke-width="1.9" stroke-linejoin="round" stroke-dasharray="5.5 3"/>
<path d="M457.2,295.3C455.1,296.2 448.5,299.0 444.7,300.9C440.9,302.9 437.0,304.5 434.7,307.2C432.4,309.9 431.3,313.5 430.9,317.2C430.5,321.0 431.7,325.6 432.2,329.8C432.6,333.9 433.4,338.3 433.4,342.3C433.4,346.3 433.2,350.6 432.2,353.6C431.1,356.5 429.6,358.0 427.1,359.8C424.6,361.7 420.4,363.0 417.1,364.8C413.8,366.7 410.4,369.0 407.1,371.1C403.7,373.2 400.4,375.5 397.0,377.4C393.7,379.3 390.1,381.2 387.0,382.4C383.9,383.5 382.2,384.1 378.2,384.3C374.3,384.5 367.2,383.9 363.2,383.6C359.2,383.4 355.9,383.1 354.4,383.0" fill="none" stroke="#000" stroke-width="1.9" stroke-linejoin="round" stroke-dasharray="5.5 3"/>
<path d="M393.3,298.4C392.2,300.1 389.3,305.7 387.0,308.5C384.7,311.2 381.4,313.0 379.5,314.7C377.6,316.4 376.4,318.1 375.7,318.7" fill="none" stroke="#000" stroke-width="1.9" stroke-linejoin="round" stroke-dasharray="5.5 3"/>
<path d="M402.1,339.8C402.1,346.5 401.7,347.6 398.2,352.4C394.7,357.1 393.9,357.6 388.9,357.6C383.9,357.6 383.1,357.1 379.6,352.4C376.1,347.6 375.7,346.5 375.7,339.8C375.7,333.1 376.1,331.9 379.6,327.2C383.1,322.5 383.9,322.0 388.9,322.0C393.9,322.0 394.7,322.5 398.2,327.2C401.7,331.9 402.1,333.1 402.1,339.8Z" fill="none" stroke="#000" stroke-width="1.1" stroke-linejoin="round" stroke-dasharray="4.5 3"/>
<path d="M377.0,300.9C378.2,301.0 383.2,301.5 384.5,301.6" fill="none" stroke="#000" stroke-width="1.1" stroke-linejoin="round" stroke-dasharray="4.5 3"/>
<path d="M409.6,302.2C410.6,301.4 413.8,298.8 415.9,297.2C417.9,295.5 419.4,293.6 422.1,292.2C424.8,290.7 428.8,289.6 432.2,288.4C435.5,287.3 440.5,285.8 442.2,285.3" fill="none" stroke="#000" stroke-width="1.1" stroke-linejoin="round" stroke-dasharray="4.5 3"/>
<path d="M457.2,346.0C456.4,347.7 453.9,352.7 452.2,356.1C450.5,359.4 448.9,363.2 447.2,366.1C445.5,369.0 442.4,371.3 442.2,373.6C442.0,375.9 444.1,378.2 445.9,379.9C447.8,381.6 451.6,382.8 453.5,383.6C455.3,384.5 456.6,384.7 457.2,384.9" fill="none" stroke="#000" stroke-width="1.1" stroke-linejoin="round" stroke-dasharray="4.5 3"/>
</g>
<g clip-path="url(#tc20_20)">
<rect x="455.1" y="284.9" width="204.0" height="103.0" fill="#fff5cc"/>
<path d="M451.1,351.1C452.5,362.8 457.8,351.7 459.9,351.1C462.0,350.4 461.7,348.1 463.6,347.3C465.5,346.5 467.8,345.6 471.1,346.0C474.5,346.5 479.1,348.5 483.7,349.8C488.3,351.2 493.9,352.9 498.7,354.2C503.5,355.4 508.3,356.7 512.5,357.3C516.7,358.0 521.1,358.8 523.8,358.0C526.5,357.1 527.8,354.9 528.8,352.3C529.9,349.7 528.8,345.0 530.1,342.3C531.3,339.6 533.6,337.4 536.3,336.0C539.1,334.7 543.0,334.1 546.4,334.1C549.7,334.1 553.1,335.5 556.4,336.0C559.8,336.5 563.3,337.7 566.4,337.3C569.6,336.9 572.5,335.2 575.2,333.5C577.9,331.8 580.0,328.7 582.7,327.3C585.5,325.8 588.2,325.3 591.5,324.7C594.9,324.2 599.3,324.9 602.8,324.1C606.4,323.4 609.7,321.7 612.8,320.4C616.0,319.0 618.5,317.0 621.6,316.0C624.7,314.9 627.9,314.1 631.6,314.1C635.4,314.1 640.0,315.2 644.2,316.0C648.4,316.7 653.4,317.9 656.7,318.5C660.1,319.1 663.0,326.0 664.2,319.7C665.5,313.5 699.8,287.4 664.2,280.9C628.7,274.4 486.6,269.2 451.1,280.9C415.6,292.6 449.6,339.4 451.1,351.1Z" fill="#ffe97f"/>
<path d="M656.7,323.5C654.2,325.6 651.5,329.1 649.2,332.3C646.9,335.4 645.9,338.7 642.9,342.3C640.0,345.8 634.2,350.4 631.6,353.6C629.1,356.7 627.9,358.4 627.9,361.1C627.9,363.8 630.2,366.9 631.6,369.9C633.1,372.8 635.0,375.8 636.7,378.6C638.3,381.5 640.4,384.6 641.7,386.9C642.9,389.2 640.4,391.5 644.2,392.4C647.9,393.3 660.9,404.5 664.2,392.4C667.6,380.3 665.5,331.2 664.2,319.7C663.0,308.2 659.2,321.4 656.7,323.5Z" fill="#ffe97f"/>
<path d="M644.2,356.1C645.6,353.7 648.6,352.9 650.5,352.9C652.3,352.9 654.4,353.7 655.5,356.1C656.5,358.5 656.9,363.6 656.7,367.4C656.5,371.1 655.5,376.1 654.2,378.6C653.0,381.1 650.9,382.4 649.2,382.4C647.5,382.4 645.4,381.1 644.2,378.6C642.9,376.1 641.7,371.1 641.7,367.4C641.7,363.6 642.7,358.5 644.2,356.1Z" fill="#ffcf40"/>
<path d="M451.1,280.9C415.6,283.3 449.6,293.0 451.1,295.3C452.5,297.6 456.9,295.1 459.9,294.7C462.8,294.3 465.5,293.3 468.6,292.8C471.8,292.3 475.7,291.6 478.7,291.5C481.6,291.4 484.2,291.2 486.2,292.2C488.2,293.1 489.5,294.9 490.6,297.2C491.6,299.5 492.1,302.6 492.5,305.9C492.8,309.3 493.7,314.3 492.5,317.2C491.2,320.2 486.9,321.4 484.9,323.5C483.0,325.6 481.2,327.7 480.6,329.8C479.9,331.8 479.8,334.4 481.2,336.0C482.5,337.7 485.6,338.8 488.7,339.8C491.8,340.7 496.2,341.0 500.0,341.7C503.7,342.3 507.7,343.5 511.3,343.5C514.8,343.5 518.6,342.9 521.3,341.7C524.0,340.4 525.5,338.0 527.6,336.0C529.7,334.0 530.7,331.3 533.8,329.8C537.0,328.2 542.2,327.5 546.4,326.6C550.6,325.8 555.2,325.9 558.9,324.7C562.7,323.6 566.0,321.8 568.9,319.7C571.9,317.6 574.0,314.7 576.5,312.2C579.0,309.7 581.5,307.0 584.0,304.7C586.5,302.4 588.8,300.0 591.5,298.4C594.2,296.9 597.4,295.7 600.3,295.3C603.2,294.9 606.8,294.8 609.1,295.9C611.4,297.1 612.0,300.3 614.1,302.2C616.2,304.1 618.7,305.9 621.6,307.2C624.5,308.5 627.9,309.2 631.6,309.7C635.4,310.2 639.8,310.5 644.2,310.3C648.6,310.1 654.8,308.9 658.1,308.5C661.4,308.0 663.2,312.4 664.2,307.8C665.3,303.2 699.8,285.4 664.2,280.9C628.7,276.4 486.6,278.5 451.1,280.9Z" fill="#ffcf40"/>
<path d="M451.1,280.9C453.2,279.2 462.0,279.6 463.6,280.9C465.3,282.1 463.2,286.7 461.1,288.4C459.0,290.1 452.8,292.2 451.1,290.9C449.4,289.7 449.0,282.6 451.1,280.9Z" fill="#ffb03b"/>
<path d="M497.5,280.9C483.7,283.0 497.9,289.9 498.7,293.4C499.6,297.0 500.8,299.3 502.5,302.2C504.2,305.1 506.7,308.2 508.8,311.0C510.9,313.7 512.5,316.6 515.0,318.5C517.5,320.4 520.7,321.7 523.8,322.2C526.9,322.8 530.7,322.4 533.8,321.6C537.0,320.8 540.1,319.2 542.6,317.2C545.1,315.2 547.2,312.4 548.9,309.7C550.6,307.0 551.6,303.9 552.6,300.9C553.7,298.0 553.5,293.4 555.2,292.2C556.8,290.9 560.4,292.8 562.7,293.4C565.0,294.0 566.7,296.3 568.9,295.9C571.2,295.5 574.4,292.7 576.5,290.9C578.6,289.1 580.7,286.9 581.5,285.3C582.3,283.6 595.5,281.6 581.5,280.9C567.5,280.2 511.3,278.8 497.5,280.9Z" fill="#ffb03b"/>
<path d="M617.9,280.9C610.7,282.1 618.1,285.7 619.1,288.4C620.1,291.1 621.6,294.7 624.1,297.2C626.6,299.7 630.6,302.2 634.2,303.4C637.7,304.7 641.9,305.1 645.4,304.7C649.0,304.3 653.0,302.8 655.5,300.9C658.0,299.1 659.4,296.8 660.5,293.4C661.5,290.1 668.8,283.0 661.7,280.9C654.6,278.8 625.0,279.6 617.9,280.9Z" fill="#ffb03b"/>
<path d="M502.5,280.9C497.9,283.0 504.6,289.9 506.3,293.4C507.9,297.0 510.4,300.1 512.5,302.2C514.6,304.3 516.5,305.5 518.8,305.9C521.1,306.4 524.0,305.7 526.3,304.7C528.6,303.7 531.1,301.8 532.6,299.7C534.0,297.6 534.9,295.3 535.1,292.2C535.3,289.0 539.3,282.8 533.8,280.9C528.4,279.0 507.1,278.8 502.5,280.9Z" fill="#ff7300"/>
<path d="M654.3,292.8C654.3,295.3 654.1,295.8 651.3,297.6C648.6,299.4 647.9,299.6 644.1,299.6C640.2,299.6 639.5,299.4 636.8,297.6C634.0,295.8 633.8,295.3 633.8,292.8C633.8,290.2 634.0,289.8 636.8,288.0C639.5,286.2 640.2,286.0 644.1,286.0C647.9,286.0 648.6,286.2 651.3,288.0C654.1,289.8 654.3,290.2 654.3,292.8Z" fill="#ff7300"/>
<path d="M454.8,293.0C456.7,292.7 462.4,291.6 466.1,290.9C469.9,290.2 474.1,289.2 477.4,289.0C480.8,288.8 483.7,288.7 486.2,289.7C488.7,290.6 491.0,292.6 492.5,294.7C493.9,296.8 494.3,299.5 495.0,302.2C495.6,304.9 495.9,308.0 496.2,311.0C496.5,313.9 496.5,317.0 496.9,319.7C497.2,322.4 497.6,325.0 498.1,327.3C498.6,329.5 498.6,332.3 500.0,333.5C501.3,334.8 504.0,335.1 506.3,334.8C508.6,334.5 511.3,332.7 513.8,331.6C516.3,330.6 518.4,329.4 521.3,328.5C524.2,327.6 527.6,326.8 531.3,326.0C535.1,325.2 539.7,324.3 543.9,323.5C548.1,322.7 553.1,322.0 556.4,321.0C559.8,319.9 561.4,318.9 563.9,317.2C566.4,315.6 568.9,313.3 571.5,311.0C574.0,308.7 576.5,305.8 579.0,303.4C581.5,301.0 584.0,298.4 586.5,296.6C589.0,294.7 591.1,293.3 594.0,292.2C597.0,291.0 601.1,289.7 604.1,289.7C607.0,289.7 609.5,290.7 611.6,292.2C613.7,293.6 614.5,296.6 616.6,298.4C618.7,300.3 621.2,302.2 624.1,303.4C627.0,304.7 630.8,305.4 634.2,305.9C637.5,306.5 640.0,306.8 644.2,306.6C648.4,306.4 656.7,305.0 659.2,304.7" fill="none" stroke="#000" stroke-width="1.9" stroke-linejoin="round" stroke-dasharray="5.5 3"/>
<path d="M509.4,284.6C509.7,286.3 510.2,291.5 511.3,294.7C512.3,297.8 514.0,301.0 515.7,303.4C517.3,305.8 520.4,308.1 521.3,309.1" fill="none" stroke="#000" stroke-width="1.9" stroke-linejoin="round" stroke-dasharray="5.5 3"/>
<path d="M532.0,284.6C532.1,286.1 532.4,290.7 532.8,293.4C533.3,296.1 534.2,299.7 534.5,300.9" fill="none" stroke="#000" stroke-width="1.9" stroke-linejoin="round" stroke-dasharray="5.5 3"/>
<path d="M500.6,293.4C501.1,295.1 502.2,300.3 503.7,303.4C505.3,306.6 507.5,309.8 510.0,312.2C512.5,314.6 515.7,316.6 518.8,317.9C521.9,319.1 525.7,319.8 528.8,319.7C532.0,319.6 535.3,318.7 537.6,317.2C539.9,315.8 541.8,313.5 542.6,311.0C543.5,308.5 542.8,305.1 542.6,302.2C542.4,299.3 541.8,296.2 541.4,293.4C540.9,290.6 540.3,286.6 540.1,285.3" fill="none" stroke="#000" stroke-width="1.1" stroke-linejoin="round" stroke-dasharray="4.5 3"/>
<path d="M626.6,289.7C627.5,290.7 629.3,294.3 631.6,295.9C633.9,297.6 637.5,298.8 640.4,299.7C643.3,300.5 646.1,301.1 649.2,300.9C652.3,300.7 657.6,298.8 659.2,298.4" fill="none" stroke="#000" stroke-width="1.1" stroke-linejoin="round" stroke-dasharray="4.5 3"/>
<path d="M558.9,285.3C559.5,286.4 561.2,290.5 562.7,292.2C564.1,293.8 565.8,295.3 567.7,295.3C569.6,295.3 571.9,293.6 574.0,292.2C576.1,290.7 579.2,287.5 580.2,286.5" fill="none" stroke="#000" stroke-width="1.1" stroke-linejoin="round" stroke-dasharray="4.5 3"/>
<path d="M482.7,302.2C482.7,303.2 482.6,303.4 481.9,304.1C481.1,304.9 481.0,304.9 479.9,304.9C478.9,304.9 478.7,304.9 478.0,304.1C477.2,303.4 477.2,303.2 477.2,302.2C477.2,301.2 477.2,301.0 478.0,300.2C478.7,299.5 478.9,299.4 479.9,299.4C481.0,299.4 481.1,299.5 481.9,300.2C482.6,301.0 482.7,301.2 482.7,302.2Z" fill="none" stroke="#000" stroke-width="1.9" stroke-linejoin="round" stroke-dasharray="5.5 3"/>
<path d="M454.8,338.8C456.3,338.4 460.7,336.7 463.6,336.7C466.5,336.6 469.1,337.4 472.4,338.5C475.7,339.7 479.7,342.1 483.7,343.5C487.7,345.0 492.0,346.3 496.2,347.3C500.4,348.3 505.2,349.8 508.8,349.8C512.3,349.8 515.0,348.8 517.5,347.3C520.0,345.8 521.5,343.1 523.8,341.0C526.1,338.9 528.4,336.4 531.3,334.8C534.3,333.1 538.0,331.7 541.4,331.0C544.7,330.3 548.1,330.1 551.4,330.4C554.7,330.7 558.7,332.3 561.4,332.9C564.1,333.5 565.4,334.7 567.7,334.1C570.0,333.6 572.7,331.5 575.2,329.8C577.7,328.0 580.0,324.9 582.7,323.5C585.5,322.1 588.4,322.0 591.5,321.6C594.7,321.2 598.4,321.7 601.6,321.0C604.7,320.3 607.4,318.6 610.3,317.2C613.3,315.9 616.0,313.8 619.1,312.8C622.2,311.9 625.0,311.4 629.1,311.6C633.3,311.8 640.0,312.9 644.2,314.1C648.4,315.2 652.3,316.9 654.2,318.5C656.1,320.0 656.3,321.0 655.5,323.5C654.6,326.0 651.3,330.2 649.2,333.5C647.1,336.9 645.9,340.2 642.9,343.5C640.0,346.9 633.7,350.9 631.6,353.6C629.6,356.3 629.8,357.1 630.4,359.8C631.0,362.5 633.7,366.5 635.4,369.9C637.1,373.2 638.4,376.9 640.4,379.9C642.4,382.9 646.2,386.7 647.3,388.0" fill="none" stroke="#000" stroke-width="1.1" stroke-linejoin="round" stroke-dasharray="4.5 3"/>
<path d="M472.4,392.4C468.7,389.3 471.7,378.6 471.8,373.6C471.9,368.6 472.1,365.4 473.0,362.3C474.0,359.3 475.4,357.0 477.4,355.4C479.4,353.9 482.2,352.9 484.9,352.9C487.7,352.9 491.2,353.9 493.7,355.4C496.2,357.0 498.2,359.7 500.0,362.3C501.8,364.9 503.4,368.6 504.4,371.1C505.3,373.6 505.9,375.3 505.6,377.4C505.3,379.5 503.9,382.1 502.5,383.6C501.1,385.2 498.9,385.4 497.5,386.9C496.0,388.4 497.9,391.5 493.7,392.4C489.5,393.3 476.1,395.5 472.4,392.4Z" fill="#ecd3fb" stroke="#000" stroke-width="1.7" stroke-linejoin="round"/>
<path d="M614.7,339.8C613.9,338.2 614.6,336.7 615.3,334.8C616.1,332.9 617.4,330.3 619.1,328.5C620.8,326.7 623.3,324.7 625.4,324.1C627.5,323.5 630.2,323.6 631.6,324.7C633.1,325.9 633.9,328.7 634.2,331.0C634.4,333.3 633.9,336.5 632.9,338.5C631.9,340.5 630.0,342.0 627.9,342.9C625.8,343.9 622.6,344.7 620.4,344.2C618.2,343.6 615.6,341.3 614.7,339.8Z" fill="#ecd3fb" stroke="#000" stroke-width="1.7" stroke-linejoin="round"/>
<path d="M599.7,348.6C600.3,347.5 602.1,346.7 604.1,346.0C606.0,345.4 609.9,345.6 611.6,344.8C613.3,344.0 614.1,340.8 614.1,341.0C614.1,341.2 612.6,344.4 611.6,346.0C610.5,347.7 609.1,349.7 607.8,351.1C606.6,352.4 605.3,354.0 604.1,354.2C602.8,354.4 601.0,353.3 600.3,352.3C599.6,351.4 599.0,349.6 599.7,348.6Z" fill="#ecd3fb"/>
<path d="M547.6,386.9C547.8,384.8 548.7,382.3 550.1,379.9C551.6,377.5 554.1,374.5 556.4,372.4C558.7,370.3 561.4,368.3 563.9,367.4C566.4,366.4 568.9,366.3 571.5,366.7C574.0,367.1 576.7,368.3 579.0,369.9C581.3,371.4 584.4,373.8 585.2,376.1C586.1,378.4 584.6,380.9 584.0,383.6C583.4,386.4 587.3,391.0 581.5,392.4C575.6,393.9 554.5,393.3 548.9,392.4C543.2,391.5 547.4,389.0 547.6,386.9Z" fill="#ffe97f"/>
<path d="M563.9,366.1C565.4,366.2 570.0,365.9 572.7,366.7C575.4,367.6 578.2,369.3 580.2,371.1C582.2,372.9 584.1,375.3 584.6,377.4C585.1,379.5 583.9,381.9 583.4,383.6C582.8,385.4 581.8,387.3 581.5,388.0" fill="none" stroke="#000" stroke-width="1.1" stroke-linejoin="round" stroke-dasharray="4.5 3"/>
<path d="M548.9,379.9C549.8,381.2 553.6,386.7 554.5,388.0" fill="none" stroke="#000" stroke-width="1.1" stroke-linejoin="round" stroke-dasharray="4.5 3"/>
<path d="M517.5,392.4C515.0,391.2 519.6,386.6 521.3,384.9C523.0,383.2 525.5,382.4 527.6,382.4C529.7,382.4 532.4,383.2 533.8,384.9C535.3,386.6 539.1,391.2 536.3,392.4C533.6,393.7 520.0,393.7 517.5,392.4Z" fill="#ffe97f"/>
</g>
<g clip-path="url(#tc30_20)">
<rect x="657.1" y="284.9" width="103.0" height="103.0" fill="#ffe97f"/>
<path d="M653.1,280.9C656.2,276.8 668.2,279.2 671.9,280.9C675.5,282.6 674.6,287.8 675.0,290.9C675.4,294.0 675.3,297.4 674.4,299.7C673.5,302.0 671.5,303.7 669.4,304.7C667.3,305.7 664.6,305.8 661.9,305.9C659.1,306.1 654.5,309.5 653.1,305.3C651.6,301.1 649.9,285.0 653.1,280.9Z" fill="#ffcf40"/>
<path d="M661.9,293.4C661.9,295.8 661.8,296.2 660.8,297.8C659.8,299.5 659.5,299.7 658.1,299.7C656.7,299.7 656.4,299.5 655.4,297.8C654.4,296.2 654.3,295.8 654.3,293.4C654.3,291.1 654.4,290.7 655.4,289.0C656.4,287.3 656.7,287.2 658.1,287.2C659.5,287.2 659.8,287.3 660.8,289.0C661.8,290.7 661.9,291.1 661.9,293.4Z" fill="#ffb03b"/>
<path d="M671.3,284.6C671.8,285.7 673.9,288.6 674.4,290.9C674.9,293.2 675.0,296.2 674.4,298.4C673.8,300.6 672.5,302.8 670.6,304.1C668.8,305.3 665.4,305.7 663.1,305.9C660.8,306.2 657.9,305.7 656.8,305.7" fill="none" stroke="#000" stroke-width="1.9" stroke-linejoin="round" stroke-dasharray="5.5 3"/>
<path d="M675.7,311.0C677.1,309.3 680.3,308.0 683.2,307.2C686.1,306.4 690.3,306.8 693.2,305.9C696.1,305.1 698.9,304.3 700.7,302.2C702.6,300.1 703.2,297.0 704.5,293.4C705.7,289.9 701.4,283.0 708.3,280.9C715.2,278.8 739.6,278.8 745.9,280.9C752.1,283.0 745.0,290.3 745.9,293.4C746.7,296.6 747.8,298.2 750.9,299.7C754.0,301.1 762.4,297.6 764.7,302.2C767.0,306.8 765.9,322.9 764.7,327.3C763.4,331.6 759.5,327.0 757.2,328.5C754.9,330.0 753.0,333.1 750.9,336.0C748.8,338.9 746.5,342.7 744.6,346.0C742.7,349.4 739.4,353.6 739.6,356.1C739.8,358.6 743.2,359.8 745.9,361.1C748.6,362.3 752.8,363.0 755.9,363.6C759.0,364.2 763.2,360.0 764.7,364.8C766.1,369.6 769.3,387.8 764.7,392.4C760.1,397.0 742.3,394.3 737.1,392.4C731.9,390.5 733.8,384.7 733.3,381.1C732.9,377.6 733.8,374.0 734.6,371.1C735.4,368.2 739.0,366.1 738.3,363.6C737.7,361.1 733.3,358.2 730.8,356.1C728.3,354.0 726.0,352.5 723.3,351.1C720.6,349.6 717.5,347.7 714.5,347.3C711.6,346.9 708.0,347.3 705.7,348.6C703.4,349.8 702.6,352.7 700.7,354.8C698.9,356.9 697.0,359.8 694.5,361.1C692.0,362.3 688.4,363.0 685.7,362.3C683.0,361.7 680.3,359.6 678.2,357.3C676.1,355.0 674.3,351.7 673.1,348.6C672.0,345.4 671.5,342.1 671.3,338.5C671.1,335.0 671.4,330.8 671.9,327.3C672.4,323.7 673.8,319.9 674.4,317.2C675.0,314.5 674.2,312.6 675.7,311.0Z" fill="#ffcf40"/>
<path d="M718.3,308.5C719.9,306.5 723.1,305.6 725.8,305.3C728.5,305.0 732.5,305.2 734.6,306.6C736.7,307.9 737.7,310.6 738.3,313.5C739.0,316.3 739.2,320.9 738.3,323.5C737.5,326.1 735.6,328.1 733.3,329.1C731.0,330.2 727.1,330.3 724.6,329.8C722.0,329.2 719.6,328.1 718.3,326.0C716.9,323.9 716.4,320.2 716.4,317.2C716.4,314.3 716.7,310.4 718.3,308.5Z" fill="#ffe97f"/>
<path d="M686.9,328.5C687.3,326.2 688.2,323.6 689.4,322.2C690.7,320.9 693.3,319.7 694.5,320.4C695.6,321.0 696.3,323.8 696.3,326.0C696.3,328.2 695.4,331.2 694.5,333.5C693.5,335.8 691.9,339.4 690.7,339.8C689.6,340.2 688.2,337.9 687.6,336.0C686.9,334.1 686.6,330.8 686.9,328.5Z" fill="#ffb03b"/>
<path d="M653.1,392.4C643.1,389.7 658.5,379.7 660.6,376.1C662.7,372.6 663.3,372.2 665.6,371.1C667.9,370.1 671.5,369.4 674.4,369.9C677.3,370.3 680.0,373.2 683.2,373.6C686.3,374.0 690.1,373.6 693.2,372.4C696.3,371.1 699.1,367.6 702.0,366.1C704.9,364.6 708.3,363.2 710.8,363.6C713.3,364.0 715.4,366.1 717.0,368.6C718.7,371.1 720.2,374.7 720.8,378.6C721.4,382.6 732.1,390.1 720.8,392.4C709.5,394.7 663.1,395.1 653.1,392.4Z" fill="#fff5cc"/>
<path d="M708.3,284.6C707.8,286.5 707.0,292.8 705.7,295.9C704.5,299.1 703.0,301.5 700.7,303.4C698.4,305.4 694.9,306.8 692.0,307.8C689.0,308.9 685.3,307.9 683.2,309.7C681.1,311.5 680.3,315.1 679.4,318.5C678.6,321.8 678.2,326.0 678.2,329.8C678.2,333.5 678.6,337.5 679.4,341.0C680.3,344.6 681.7,348.3 683.2,351.1C684.6,353.8 686.3,356.9 688.2,357.3C690.1,357.7 692.6,355.7 694.5,353.6C696.3,351.5 697.8,347.3 699.5,344.8C701.1,342.3 703.7,339.6 704.5,338.5" fill="none" stroke="#000" stroke-width="1.9" stroke-linejoin="round" stroke-dasharray="5.5 3"/>
<path d="M713.9,327.3C713.8,325.4 713.0,319.3 713.3,316.0C713.6,312.6 714.3,309.6 715.8,307.2C717.2,304.8 719.5,303.0 722.0,301.6C724.6,300.1 728.5,299.6 730.8,298.4C733.1,297.3 735.4,296.1 735.8,294.7C736.3,293.2 734.6,291.0 733.3,289.7C732.1,288.3 730.4,287.3 728.3,286.5C726.2,285.8 722.0,285.5 720.8,285.3" fill="none" stroke="#000" stroke-width="1.9" stroke-linejoin="round" stroke-dasharray="5.5 3"/>
<path d="M760.3,309.1C758.9,308.4 754.8,305.4 752.1,304.7C749.5,304.0 746.3,303.2 744.6,304.7C742.9,306.2 742.3,310.5 742.1,313.5C741.9,316.4 742.3,319.9 743.4,322.2C744.4,324.5 746.5,326.8 748.4,327.3C750.3,327.7 752.7,325.9 754.6,324.7C756.6,323.6 759.4,321.1 760.3,320.4" fill="none" stroke="#000" stroke-width="1.9" stroke-linejoin="round" stroke-dasharray="5.5 3"/>
<path d="M760.3,369.2C758.9,368.7 755.0,366.6 752.1,366.1C749.3,365.6 745.9,365.3 743.4,366.1C740.9,366.9 738.5,369.0 737.1,371.1C735.7,373.2 734.8,376.3 735.2,378.6C735.6,380.9 737.7,383.3 739.6,384.9C741.5,386.5 745.3,387.5 746.5,388.0" fill="none" stroke="#000" stroke-width="1.9" stroke-linejoin="round" stroke-dasharray="5.5 3"/>
<path d="M656.8,379.3C657.7,377.7 660.0,372.4 661.9,369.9C663.7,367.4 665.8,364.6 668.1,364.2C670.4,363.8 673.1,366.0 675.7,367.4C678.2,368.7 680.7,371.6 683.2,372.4C685.7,373.1 688.2,372.8 690.7,371.7C693.2,370.7 695.7,368.0 698.2,366.1C700.7,364.2 703.4,361.6 705.7,360.5C708.0,359.3 710.1,358.7 712.0,359.2C713.9,359.7 715.8,361.6 717.0,363.6C718.3,365.6 719.0,368.4 719.5,371.1C720.1,373.8 720.0,377.1 720.2,379.9C720.4,382.7 720.7,386.7 720.8,388.0" fill="none" stroke="#000" stroke-width="1.1" stroke-linejoin="round" stroke-dasharray="4.5 3"/>
</g>
<g clip-path="url(#tc0_30)">
<rect x="51.1" y="385.9" width="204.0" height="103.0" fill="#fff5cc"/>
<path d="M58.4,391.9C59.0,390.9 62.8,393.0 65.9,394.4C69.0,395.9 73.2,399.6 77.2,400.7C81.1,401.7 86.8,399.6 89.7,400.7C92.6,401.7 92.6,405.7 94.7,406.9C96.8,408.2 100.0,407.2 102.3,408.2C104.6,409.2 107.7,411.5 108.5,413.2C109.4,414.9 108.7,417.3 107.3,418.2C105.8,419.2 102.0,419.3 99.7,418.9C97.4,418.4 95.4,417.1 93.5,415.7C91.6,414.4 91.2,411.5 88.5,410.7C85.7,409.9 80.7,411.1 77.2,410.7C73.6,410.3 69.7,409.9 67.1,408.2C64.6,406.5 63.6,403.4 62.1,400.7C60.7,398.0 57.7,393.0 58.4,391.9Z" fill="#ffe97f"/>
<path d="M47.1,381.9C50.4,380.5 64.6,380.8 67.1,381.9C69.7,382.9 64.2,386.7 62.1,388.2C60.0,389.6 57.1,390.3 54.6,390.7C52.1,391.0 48.3,391.5 47.1,390.0C45.8,388.6 43.7,383.2 47.1,381.9Z" fill="#ffe97f"/>
<path d="M149.9,381.9C131.9,382.9 150.5,386.6 152.4,388.2C154.3,389.7 157.8,390.9 161.2,391.3C164.5,391.7 168.5,391.0 172.5,390.7C176.4,390.3 181.5,389.2 185.0,389.4C188.6,389.6 191.7,390.2 193.8,391.9C195.9,393.6 196.7,396.7 197.6,399.4C198.4,402.1 198.2,405.5 198.8,408.2C199.4,410.9 199.4,414.7 201.3,415.7C203.2,416.8 207.2,414.1 210.1,414.5C213.0,414.9 215.9,416.8 218.9,418.2C221.8,419.7 224.9,422.8 227.6,423.2C230.4,423.7 232.2,420.7 235.2,420.7C238.1,420.7 242.0,422.4 245.2,423.2C248.4,424.1 251.6,425.1 254.1,425.7C256.6,426.4 259.2,434.3 260.2,427.0C261.3,419.7 278.6,389.4 260.2,381.9C241.9,374.4 167.9,380.8 149.9,381.9Z" fill="#ffe97f"/>
<path d="M236.4,394.4C237.3,393.1 240.4,391.9 242.7,391.3C245.0,390.7 248.3,390.6 250.2,390.7C252.1,390.8 252.4,391.5 254.1,391.9C255.8,392.3 259.2,391.1 260.2,393.2C261.3,395.3 261.5,402.7 260.2,404.4C259.0,406.2 255.4,404.2 252.7,403.8C250.0,403.4 246.5,402.7 243.9,401.9C241.4,401.2 238.9,400.7 237.7,399.4C236.4,398.2 235.6,395.8 236.4,394.4Z" fill="#ffcf40"/>
<path d="M50.8,390.4C52.7,391.3 58.8,394.2 62.1,395.7C65.5,397.2 68.0,399.0 70.9,399.4C73.8,399.8 76.8,399.2 79.7,398.2C82.6,397.1 85.9,395.3 88.5,393.2C91.1,391.1 94.2,386.9 95.4,385.6" fill="none" stroke="#000" stroke-width="1.1" stroke-linejoin="round" stroke-dasharray="4.5 3"/>
<path d="M151.8,388.8C153.4,389.3 158.2,391.6 161.2,391.9C164.2,392.2 167.6,391.7 170.0,390.7C172.4,389.6 174.7,386.5 175.6,385.6" fill="none" stroke="#000" stroke-width="1.1" stroke-linejoin="round" stroke-dasharray="4.5 3"/>
<path d="M196.3,410.7C198.4,410.7 204.7,410.9 208.8,410.7C213.0,410.5 217.2,409.9 221.4,409.5C225.6,409.0 229.9,408.0 233.9,408.2C237.9,408.4 241.6,409.8 245.2,410.7C248.8,411.6 253.6,413.0 255.2,413.5" fill="none" stroke="#000" stroke-width="1.1" stroke-linejoin="round" stroke-dasharray="4.5 3"/>
<path d="M218.9,422.6C219.9,421.9 222.8,419.0 225.1,418.2C227.4,417.5 230.6,417.5 232.7,418.2C234.7,419.0 236.8,421.9 237.7,422.6" fill="none" stroke="#000" stroke-width="1.1" stroke-linejoin="round" stroke-dasharray="4.5 3"/>
<path d="M47.1,457.7C47.9,451.9 50.0,458.1 52.1,458.3C54.2,458.5 56.9,459.2 59.6,459.0C62.3,458.7 65.9,458.2 68.4,457.1C70.9,455.9 72.8,453.9 74.7,452.1C76.6,450.2 77.8,448.1 79.7,445.8C81.6,443.5 83.7,440.4 86.0,438.3C88.3,436.2 90.8,434.5 93.5,433.3C96.2,432.0 99.1,431.5 102.3,430.8C105.4,430.0 109.2,429.3 112.3,428.9C115.4,428.5 118.3,428.0 121.1,428.3C123.8,428.5 126.3,429.1 128.6,430.1C130.9,431.2 133.0,433.2 134.9,434.5C136.7,435.9 138.2,437.4 139.9,438.3C141.5,439.1 143.2,439.9 144.9,439.5C146.6,439.1 148.9,437.7 149.9,435.8C150.9,433.9 150.7,431.0 151.2,428.3C151.6,425.5 151.6,422.2 152.4,419.5C153.2,416.8 154.7,413.8 156.2,412.0C157.6,410.1 159.3,408.6 161.2,408.2C163.1,407.8 165.6,408.4 167.5,409.5C169.3,410.5 170.8,412.8 172.5,414.5C174.1,416.1 175.4,418.0 177.5,419.5C179.6,420.9 182.3,422.2 185.0,423.2C187.7,424.3 190.9,425.1 193.8,425.7C196.7,426.4 199.8,426.6 202.6,427.0C205.3,427.4 207.6,428.3 210.1,428.3C212.6,428.3 214.7,427.5 217.6,427.0C220.5,426.5 224.3,425.5 227.6,425.1C231.0,424.7 234.7,424.2 237.7,424.5C240.6,424.8 243.1,425.7 245.2,427.0C247.3,428.3 248.7,430.3 250.2,432.0C251.7,433.7 252.4,435.8 254.1,437.0C255.8,438.3 259.2,430.1 260.2,439.5C261.3,448.9 295.8,484.4 260.2,493.4C224.7,502.4 82.6,499.4 47.1,493.4C11.6,487.5 46.2,463.5 47.1,457.7Z" fill="#ecd3fb" stroke="#000" stroke-width="1.7" stroke-linejoin="round"/>
<path d="M54.2,440.5C54.2,442.9 54.2,443.3 53.4,445.0C52.7,446.6 52.5,446.8 51.5,446.8C50.4,446.8 50.3,446.6 49.5,445.0C48.8,443.3 48.7,442.9 48.7,440.5C48.7,438.2 48.8,437.8 49.5,436.1C50.3,434.4 50.4,434.3 51.5,434.3C52.5,434.3 52.7,434.4 53.4,436.1C54.2,437.8 54.2,438.2 54.2,440.5Z" fill="#ecd3fb" stroke="#000" stroke-width="1.7" stroke-linejoin="round"/>
<path d="M127.3,397.6C127.3,399.3 127.2,399.6 125.9,400.9C124.7,402.2 124.4,402.3 122.6,402.3C120.8,402.3 120.5,402.2 119.2,400.9C117.9,399.6 117.8,399.3 117.8,397.6C117.8,395.8 117.9,395.5 119.2,394.2C120.5,392.9 120.8,392.8 122.6,392.8C124.4,392.8 124.7,392.9 125.9,394.2C127.2,395.5 127.3,395.8 127.3,397.6Z" fill="#ecd3fb" stroke="#000" stroke-width="1.7" stroke-linejoin="round"/>
<path d="M47.1,474.6C47.9,471.4 48.5,474.2 52.1,474.0C55.7,473.8 64.0,473.9 68.4,473.4C72.8,472.8 75.7,472.3 78.4,470.9C81.1,469.4 82.8,466.9 84.7,464.6C86.6,462.3 88.0,459.6 89.7,457.1C91.4,454.6 92.6,451.6 94.7,449.6C96.8,447.5 99.5,445.7 102.3,444.5C105.0,443.4 107.9,442.9 111.0,442.7C114.2,442.5 117.9,442.6 121.1,443.3C124.2,444.0 127.3,445.4 129.8,447.0C132.3,448.7 134.4,451.0 136.1,453.3C137.8,455.6 139.5,458.3 139.9,460.8C140.3,463.3 139.5,466.1 138.6,468.4C137.8,470.6 135.5,472.5 134.9,474.6C134.2,476.7 134.0,479.1 134.9,480.9C135.7,482.7 137.8,484.6 139.9,485.3C142.0,485.9 145.1,486.0 147.4,484.6C149.7,483.3 151.8,479.4 153.7,477.1C155.5,474.8 156.4,472.5 158.7,470.9C161.0,469.2 164.7,468.6 167.5,467.1C170.2,465.6 173.3,463.8 175.0,462.1C176.7,460.4 177.6,459.4 177.5,457.1C177.4,454.8 175.2,451.0 174.4,448.3C173.5,445.6 172.3,443.0 172.5,440.8C172.7,438.6 173.9,436.5 175.6,435.1C177.3,433.8 179.7,433.2 182.5,432.6C185.3,432.1 189.2,432.1 192.5,432.0C195.9,431.9 198.8,431.7 202.6,432.0C206.3,432.3 210.9,433.4 215.1,433.9C219.3,434.4 223.5,434.5 227.6,435.1C231.8,435.8 236.4,436.4 240.2,437.7C243.9,438.9 246.9,441.1 250.2,442.7C253.6,444.2 258.6,438.6 260.2,447.0C261.9,455.5 295.8,485.7 260.2,493.4C224.7,501.1 82.6,496.5 47.1,493.4C11.6,490.3 46.2,477.9 47.1,474.6Z" fill="#e0b5f7"/>
<path d="M50.8,472.4C53.8,472.3 64.0,472.4 68.4,472.1C72.8,471.9 74.7,471.9 77.2,470.9C79.7,469.8 81.6,467.9 83.4,465.8C85.3,463.8 86.8,461.0 88.5,458.3C90.1,455.6 91.4,452.0 93.5,449.6C95.6,447.2 98.1,445.3 101.0,443.9C103.9,442.6 107.7,441.7 111.0,441.4C114.4,441.1 117.9,441.3 121.1,442.0C124.2,442.8 127.1,444.1 129.8,445.8C132.6,447.5 135.5,449.8 137.4,452.1C139.2,454.4 140.7,457.1 141.1,459.6C141.5,462.1 140.7,464.8 139.9,467.1C139.0,469.4 136.9,471.3 136.1,473.4C135.3,475.5 134.2,477.9 134.9,479.6C135.5,481.4 137.8,483.4 139.9,484.0C142.0,484.6 145.3,484.5 147.4,483.4C149.5,482.2 150.9,479.2 152.4,477.1C153.9,475.0 154.1,472.5 156.2,470.9C158.3,469.2 162.2,468.4 164.9,467.1C167.7,465.8 170.4,464.8 172.5,463.3C174.6,461.9 177.1,460.6 177.5,458.3C177.9,456.0 175.8,452.3 175.0,449.6C174.1,446.8 172.7,444.3 172.5,442.0C172.3,439.7 172.5,437.4 173.7,435.8C175.0,434.1 177.3,432.8 180.0,432.0C182.7,431.2 186.3,430.9 190.0,430.8C193.8,430.7 198.4,431.0 202.6,431.4C206.7,431.8 210.9,432.7 215.1,433.3C219.3,433.8 223.5,433.9 227.6,434.5C231.8,435.1 236.4,435.8 240.2,437.0C243.9,438.3 247.7,440.5 250.2,442.0C252.7,443.5 254.4,445.4 255.2,446.0" fill="none" stroke="#000" stroke-width="1.0" stroke-linejoin="round"/>
<path d="M102.3,490.9C100.7,488.6 101.2,480.9 101.6,477.1C102.0,473.4 103.2,470.9 104.8,468.4C106.3,465.8 108.7,463.4 111.0,462.1C113.3,460.7 116.6,459.8 118.6,460.2C120.5,460.6 122.5,462.4 122.9,464.6C123.4,466.8 122.2,470.6 121.1,473.4C119.9,476.1 117.7,478.0 116.0,480.9C114.4,483.8 113.3,489.2 111.0,490.9C108.7,492.6 103.8,493.2 102.3,490.9Z" fill="#cc85f5"/>
<path d="M96.0,489.0C95.9,487.0 95.1,480.8 95.4,477.1C95.6,473.5 96.1,470.2 97.2,467.1C98.4,464.0 100.2,460.7 102.3,458.3C104.3,455.9 107.1,453.9 109.8,452.7C112.5,451.4 115.8,450.7 118.6,450.8C121.3,450.9 124.1,451.9 126.1,453.3C128.1,454.8 129.8,457.1 130.5,459.6C131.1,462.1 130.6,465.6 129.8,468.4C129.1,471.1 127.8,473.6 126.1,475.9C124.4,478.2 121.9,479.9 119.8,482.1C117.7,484.3 114.4,487.9 113.3,489.0" fill="none" stroke="#000" stroke-width="1.7" stroke-linejoin="round"/>
<path d="M191.3,444.5C192.3,442.7 195.9,443.1 198.8,443.3C201.7,443.5 206.1,444.3 208.8,445.8C211.6,447.3 214.3,449.6 215.1,452.1C215.9,454.6 215.3,458.7 213.9,460.8C212.4,462.9 209.0,464.4 206.3,464.6C203.6,464.8 199.8,463.8 197.6,462.1C195.3,460.4 193.6,457.5 192.5,454.6C191.5,451.6 190.2,446.4 191.3,444.5Z" fill="#cc85f5"/>
<path d="M188.8,454.6C188.4,451.4 188.8,448.3 190.0,445.8C191.3,443.3 193.8,440.8 196.3,439.5C198.8,438.3 202.1,437.9 205.1,438.3C208.0,438.7 211.6,439.9 213.9,442.0C216.1,444.1 218.2,447.7 218.9,450.8C219.5,453.9 218.9,458.1 217.6,460.8C216.4,463.5 214.1,465.7 211.3,467.1C208.6,468.5 204.4,469.4 201.3,469.0C198.2,468.6 194.6,467.0 192.5,464.6C190.4,462.2 189.2,457.7 188.8,454.6Z" fill="none" stroke="#000" stroke-width="1.7" stroke-linejoin="round"/>
<path d="M227.6,462.1C227.9,459.8 228.7,455.6 230.2,453.3C231.6,451.0 233.9,449.2 236.4,448.3C238.9,447.4 242.5,447.0 245.2,447.7C247.9,448.3 250.8,449.9 252.7,452.1C254.6,454.3 256.5,457.9 256.5,460.8C256.5,463.8 254.8,467.5 252.7,469.6C250.6,471.7 247.1,473.2 243.9,473.4C240.8,473.6 236.4,471.9 233.9,470.9C231.4,469.8 229.9,468.6 228.9,467.1C227.9,465.6 227.4,464.4 227.6,462.1Z" fill="none" stroke="#000" stroke-width="1.7" stroke-linejoin="round"/>
<path d="M154.3,489.0C155.0,487.9 156.9,483.8 158.7,482.1C160.5,480.5 162.9,479.4 164.9,479.0C167.0,478.6 169.1,478.7 171.2,479.6C173.3,480.6 175.5,483.1 177.5,484.6C179.5,486.2 182.2,488.3 183.1,489.0" fill="none" stroke="#000" stroke-width="1.7" stroke-linejoin="round"/>
<path d="M75.3,489.0C75.9,488.6 77.7,486.5 79.1,486.5C80.4,486.5 82.7,488.6 83.4,489.0" fill="none" stroke="#000" stroke-width="1.7" stroke-linejoin="round"/>
</g>
<g clip-path="url(#tc10_30)">
<rect x="253.1" y="385.9" width="204.0" height="103.0" fill="#fff5cc"/>
<path d="M249.1,437.0C249.9,446.6 252.0,438.5 254.1,439.5C256.2,440.6 258.9,442.0 261.6,443.3C264.3,444.5 267.1,446.2 270.4,447.0C273.7,447.9 278.1,448.5 281.7,448.3C285.2,448.1 288.4,447.0 291.7,445.8C295.1,444.5 298.4,442.5 301.7,440.8C305.1,439.1 309.5,437.9 311.8,435.8C314.1,433.7 314.7,431.2 315.5,428.3C316.4,425.3 316.0,421.2 316.8,418.2C317.6,415.3 318.5,412.3 320.6,410.7C322.6,409.1 326.8,408.6 329.3,408.8C331.8,409.0 333.7,410.2 335.6,412.0C337.5,413.7 338.7,417.6 340.6,419.5C342.5,421.4 344.8,423.2 346.9,423.2C349.0,423.2 351.3,421.4 353.2,419.5C355.0,417.6 355.9,413.6 358.2,412.0C360.5,410.3 363.8,409.8 366.9,409.5C370.1,409.1 373.6,409.7 377.0,410.1C380.3,410.5 384.5,410.8 387.0,412.0C389.5,413.1 390.6,415.1 392.0,417.0C393.5,418.9 394.1,421.6 395.8,423.2C397.5,424.9 400.0,427.0 402.1,427.0C404.1,427.0 406.9,425.3 408.3,423.2C409.8,421.2 410.4,417.4 410.8,414.5C411.3,411.5 409.8,408.0 410.8,405.7C411.9,403.4 414.6,401.7 417.1,400.7C419.6,399.6 423.2,399.0 425.9,399.4C428.6,399.8 430.7,402.1 433.4,403.2C436.1,404.2 439.3,405.3 442.2,405.7C445.1,406.1 448.6,406.1 451.0,405.7C453.3,405.3 454.2,403.8 456.1,403.2C458.0,402.6 461.2,405.5 462.2,401.9C463.3,398.4 497.8,385.2 462.2,381.9C426.7,378.5 284.6,372.7 249.1,381.9C213.6,391.1 248.2,427.4 249.1,437.0Z" fill="#ffe97f"/>
<path d="M249.1,381.9C231.5,384.0 247.4,392.5 249.1,394.4C250.8,396.3 256.2,393.8 259.1,393.2C262.0,392.5 263.7,391.3 266.6,390.7C269.6,390.0 271.9,389.2 276.7,389.4C281.5,389.6 291.9,390.2 295.5,391.9C299.0,393.6 297.7,396.1 298.0,399.4C298.3,402.8 297.1,408.0 297.4,412.0C297.6,415.9 297.7,421.2 299.2,423.2C300.8,425.3 304.7,425.3 306.8,424.5C308.9,423.7 310.5,420.7 311.8,418.2C313.0,415.7 313.0,412.2 314.3,409.5C315.5,406.7 316.8,403.8 319.3,401.9C321.8,400.1 325.6,399.0 329.3,398.2C333.1,397.3 338.1,397.6 341.9,396.9C345.6,396.3 349.8,396.9 351.9,394.4C354.0,391.9 371.5,384.0 354.4,381.9C337.3,379.8 266.6,379.8 249.1,381.9Z" fill="#ffcf40"/>
<path d="M291.3,436.4C291.3,438.2 291.1,438.5 289.1,439.8C287.0,441.0 286.5,441.2 283.6,441.2C280.6,441.2 280.1,441.0 278.1,439.8C276.0,438.5 275.8,438.2 275.8,436.4C275.8,434.6 276.0,434.3 278.1,433.0C280.1,431.8 280.6,431.6 283.6,431.6C286.5,431.6 287.0,431.8 289.1,433.0C291.1,434.3 291.3,434.6 291.3,436.4Z" fill="#ffcf40"/>
<path d="M270.4,417.0C270.4,414.7 271.4,410.7 272.9,408.2C274.4,405.7 276.9,403.4 279.2,401.9C281.5,400.5 284.6,399.2 286.7,399.4C288.8,399.6 290.9,400.9 291.7,403.2C292.6,405.5 292.3,410.3 291.7,413.2C291.1,416.1 290.0,419.1 288.0,420.7C285.9,422.4 281.7,423.0 279.2,423.2C276.7,423.4 274.4,423.0 272.9,422.0C271.4,420.9 270.4,419.3 270.4,417.0Z" fill="#fff5cc"/>
<path d="M269.1,418.2C269.4,415.7 271.2,411.0 272.9,408.2C274.6,405.4 276.7,402.9 279.2,401.3C281.7,399.7 285.7,398.5 288.0,398.8C290.3,399.1 292.2,400.8 293.0,403.2C293.7,405.6 293.1,410.2 292.3,413.2C291.6,416.2 290.8,419.5 288.6,421.4C286.4,423.2 282.0,424.2 279.2,424.5C276.4,424.8 273.3,424.3 271.7,423.2C270.0,422.2 268.9,420.7 269.1,418.2Z" fill="none" stroke="#000" stroke-width="1.1" stroke-linejoin="round" stroke-dasharray="4.5 3"/>
<path d="M261.6,434.5C261.4,433.3 260.0,429.0 260.4,427.0C260.8,425.0 263.5,423.3 264.1,422.6" fill="none" stroke="#000" stroke-width="1.1" stroke-linejoin="round" stroke-dasharray="4.5 3"/>
<path d="M252.8,438.9C255.1,439.6 262.3,442.1 266.6,443.3C271.0,444.4 275.4,445.8 279.2,445.8C282.9,445.8 286.3,444.8 289.2,443.3C292.1,441.8 293.8,438.9 296.7,437.0C299.7,435.1 304.0,433.9 306.8,432.0C309.5,430.1 311.6,428.5 313.0,425.7C314.5,423.0 314.7,418.6 315.5,415.7C316.4,412.8 316.4,410.1 318.0,408.2C319.7,406.3 323.1,404.8 325.6,404.4C328.1,404.1 331.0,404.9 333.1,406.3C335.2,407.8 336.4,411.0 338.1,413.2C339.8,415.4 341.2,418.3 343.1,419.5C345.0,420.6 347.5,420.9 349.4,420.1C351.3,419.3 352.9,416.2 354.4,414.5C355.9,412.7 356.1,410.7 358.2,409.5C360.3,408.2 363.8,407.3 366.9,406.9C370.1,406.6 373.6,407.2 377.0,407.6C380.3,408.0 384.1,408.7 387.0,409.5C389.9,410.2 392.4,410.5 394.5,412.0C396.6,413.4 397.9,416.8 399.6,418.2C401.2,419.7 403.4,421.4 404.6,420.7C405.7,420.1 407.1,416.6 406.4,414.5C405.8,412.4 402.4,410.3 400.8,408.2C399.2,406.1 397.5,403.8 397.0,401.9C396.6,400.1 398.1,397.8 398.3,396.9" fill="none" stroke="#000" stroke-width="1.1" stroke-linejoin="round" stroke-dasharray="4.5 3"/>
<path d="M422.1,391.9C423.4,393.0 426.9,396.3 429.6,398.2C432.4,400.1 435.3,402.1 438.4,403.2C441.6,404.2 445.3,404.7 448.5,404.4C451.6,404.2 455.8,402.1 457.2,401.7" fill="none" stroke="#000" stroke-width="1.1" stroke-linejoin="round" stroke-dasharray="4.5 3"/>
<path d="M343.8,456.4C343.5,454.8 349.1,452.7 351.9,450.8C354.7,448.9 358.0,446.3 360.7,445.2C363.4,444.0 366.4,443.0 368.2,443.9C370.0,444.9 371.1,448.4 371.3,450.8C371.5,453.2 370.8,456.3 369.5,458.3C368.1,460.3 365.9,462.3 363.2,462.7C360.5,463.1 356.4,461.9 353.2,460.8C349.9,459.8 344.0,458.1 343.8,456.4Z" fill="#ffe97f" stroke="#000" stroke-width="1.1" stroke-linejoin="round" stroke-dasharray="4.5 3"/>
<path d="M296.1,493.4C268.1,490.7 295.0,481.3 294.2,477.1C293.5,472.9 292.6,471.1 291.7,468.4C290.9,465.6 288.6,462.8 289.2,460.8C289.8,458.8 293.2,457.5 295.5,456.4C297.8,455.4 300.7,454.3 303.0,454.6C305.3,454.9 307.2,456.7 309.3,458.3C311.4,460.0 313.2,462.8 315.5,464.6C317.8,466.4 320.1,468.0 323.1,469.0C326.0,469.9 329.8,470.0 333.1,470.2C336.4,470.4 339.8,469.9 343.1,470.2C346.5,470.5 350.2,471.6 353.2,472.1C356.1,472.6 358.2,473.6 360.7,473.4C363.2,473.2 365.9,472.3 368.2,470.9C370.5,469.4 372.6,466.9 374.5,464.6C376.4,462.3 377.6,459.4 379.5,457.1C381.4,454.8 383.2,452.5 385.8,450.8C388.3,449.1 391.6,448.3 394.5,447.0C397.5,445.8 400.8,445.0 403.3,443.3C405.8,441.6 407.9,439.5 409.6,437.0C411.3,434.5 412.1,430.8 413.3,428.3C414.6,425.7 415.6,423.9 417.1,422.0C418.6,420.1 420.0,418.3 422.1,417.0C424.2,415.6 426.3,414.6 429.6,413.8C433.0,413.1 437.8,413.2 442.2,412.6C446.6,412.0 452.8,410.6 456.1,410.1C459.4,409.6 461.2,395.6 462.2,409.5C463.3,423.3 489.9,479.4 462.2,493.4C434.6,507.4 324.1,496.1 296.1,493.4Z" fill="#ecd3fb" stroke="#000" stroke-width="1.7" stroke-linejoin="round"/>
<path d="M249.1,435.8C249.9,426.8 252.4,438.1 254.1,439.5C255.8,441.0 257.0,442.9 259.1,444.5C261.2,446.2 263.9,447.9 266.6,449.6C269.4,451.2 272.7,453.0 275.4,454.6C278.1,456.1 281.5,457.8 282.9,459.0C284.4,460.1 284.8,460.1 284.2,461.5C283.6,462.8 280.3,464.5 279.2,467.1C278.0,469.7 277.3,472.7 277.3,477.1C277.3,481.5 283.9,490.7 279.2,493.4C274.5,496.1 254.1,503.0 249.1,493.4C244.1,483.8 248.2,444.8 249.1,435.8Z" fill="#ecd3fb" stroke="#000" stroke-width="1.7" stroke-linejoin="round"/>
<path d="M249.1,447.0C249.9,439.7 252.2,447.9 254.1,449.6C256.0,451.2 258.5,454.6 260.4,457.1C262.3,459.6 263.9,461.7 265.4,464.6C266.8,467.5 268.1,470.7 269.1,474.6C270.2,478.5 271.2,484.8 271.7,487.9C272.1,491.0 275.4,492.5 271.7,493.4C267.9,494.3 252.8,501.1 249.1,493.4C245.3,485.7 248.2,454.4 249.1,447.0Z" fill="#e0b5f7"/>
<path d="M252.8,451.4C253.9,452.4 257.2,455.1 259.1,457.1C261.0,459.1 262.7,460.8 264.1,463.3C265.6,465.8 266.8,469.2 267.9,472.1C268.9,475.0 269.7,478.1 270.4,480.9C271.1,483.7 271.7,487.7 271.9,489.0" fill="none" stroke="#000" stroke-width="1.0" stroke-linejoin="round"/>
<path d="M256.4,461.8C256.4,465.2 256.2,465.8 254.9,468.2C253.6,470.6 253.2,470.9 251.3,470.9C249.4,470.9 249.1,470.6 247.8,468.2C246.5,465.8 246.3,465.2 246.3,461.8C246.3,458.4 246.5,457.9 247.8,455.5C249.1,453.0 249.4,452.8 251.3,452.8C253.2,452.8 253.6,453.0 254.9,455.5C256.2,457.9 256.4,458.4 256.4,461.8Z" fill="none" stroke="#000" stroke-width="1.7" stroke-linejoin="round"/>
<path d="M379.5,493.4C365.4,491.5 377.6,485.3 377.6,482.1C377.6,479.0 378.1,477.1 379.5,474.6C380.8,472.1 383.0,469.5 385.8,467.1C388.5,464.7 392.7,462.2 395.8,460.2C398.9,458.2 401.8,457.1 404.6,455.2C407.3,453.3 410.1,451.3 412.1,448.9C414.1,446.5 415.1,443.3 416.5,440.8C417.8,438.3 418.6,435.9 420.2,433.9C421.9,431.9 424.1,429.9 426.5,428.9C428.9,427.8 431.6,427.6 434.7,427.6C437.7,427.6 441.8,428.0 444.7,428.9C447.6,429.7 450.1,431.3 452.2,432.6C454.3,434.0 455.6,435.9 457.2,437.0C458.9,438.2 461.4,430.1 462.2,439.5C463.1,448.9 476.0,484.4 462.2,493.4C448.5,502.4 393.6,495.3 379.5,493.4Z" fill="#e0b5f7"/>
<path d="M380.1,489.0C379.6,487.9 377.3,484.1 377.0,482.1C376.7,480.2 377.6,478.8 378.2,477.1C378.9,475.5 379.3,474.0 380.7,472.1C382.2,470.2 384.5,467.9 387.0,465.8C389.5,463.8 392.9,461.5 395.8,459.6C398.7,457.7 401.8,456.4 404.6,454.6C407.3,452.7 410.2,450.6 412.1,448.3C414.0,446.0 414.6,443.3 415.9,440.8C417.1,438.3 417.9,435.4 419.6,433.3C421.3,431.2 423.4,429.3 425.9,428.3C428.4,427.2 431.5,427.0 434.7,427.0C437.8,427.0 441.8,427.4 444.7,428.3C447.6,429.1 450.1,430.4 452.2,432.0C454.3,433.6 456.4,436.7 457.2,437.7" fill="none" stroke="#000" stroke-width="1.0" stroke-linejoin="round"/>
<path d="M420.9,489.0C422.3,488.3 426.5,485.5 429.6,484.6C432.8,483.8 436.7,484.4 439.7,484.0C442.6,483.6 445.1,483.5 447.2,482.1C449.3,480.8 450.5,477.6 452.2,475.9C453.9,474.1 456.4,472.2 457.2,471.5" fill="none" stroke="#000" stroke-width="1.0" stroke-linejoin="round"/>
<path d="M417.1,459.6C416.9,457.1 417.9,453.2 419.6,450.8C421.3,448.4 424.4,446.3 427.1,445.2C429.9,444.0 432.8,443.6 435.9,443.9C439.0,444.2 443.2,445.5 445.9,447.0C448.7,448.6 451.0,451.0 452.2,453.3C453.5,455.6 454.1,458.5 453.5,460.8C452.8,463.1 450.8,465.5 448.5,467.1C446.2,468.7 442.8,469.9 439.7,470.2C436.5,470.5 432.8,469.7 429.6,469.0C426.5,468.2 423.0,467.4 420.9,465.8C418.8,464.3 417.3,462.1 417.1,459.6Z" fill="#cc85f5"/>
<path d="M443.8,458.6C443.0,460.0 442.7,460.1 440.6,460.2C438.4,460.2 438.0,460.1 435.7,458.8C433.5,457.5 433.1,457.2 432.1,455.3C431.1,453.4 431.0,453.1 431.8,451.7C432.6,450.4 432.9,450.3 435.0,450.2C437.2,450.2 437.6,450.3 439.9,451.6C442.1,452.9 442.4,453.2 443.5,455.1C444.5,457.0 444.5,457.3 443.8,458.6Z" fill="none" stroke="#000" stroke-width="1.7" stroke-linejoin="round"/>
</g>
<g clip-path="url(#tc20_30)">
<rect x="455.1" y="385.9" width="204.0" height="103.0" fill="#fff5cc"/>
<path d="M451.1,381.9C452.5,378.7 457.9,380.2 459.9,381.9C461.8,383.6 462.8,389.2 463.0,391.9C463.2,394.6 462.3,396.7 461.1,398.2C460.0,399.6 457.8,400.2 456.1,400.7C454.4,401.2 451.9,404.4 451.1,401.3C450.2,398.2 449.6,385.1 451.1,381.9Z" fill="#ffe97f"/>
<path d="M458.6,386.3C459.1,387.3 461.5,390.7 461.7,392.5C462.0,394.4 460.9,396.4 459.9,397.6C458.8,398.7 456.2,399.3 455.5,399.7" fill="none" stroke="#000" stroke-width="1.1" stroke-linejoin="round" stroke-dasharray="4.5 3"/>
<path d="M508.8,394.4C511.5,391.4 513.4,391.7 516.3,390.7C519.2,389.6 523.2,388.4 526.3,388.2C529.5,387.9 533.2,388.2 535.1,389.4C537.0,390.7 537.8,393.4 537.6,395.7C537.4,398.0 535.7,401.1 533.8,403.2C532.0,405.3 528.6,406.3 526.3,408.2C524.0,410.1 521.9,412.2 520.0,414.5C518.2,416.8 517.3,420.1 515.0,422.0C512.7,423.9 509.4,425.2 506.3,425.7C503.1,426.3 498.5,426.2 496.2,425.1C493.9,424.1 492.9,421.7 492.5,419.5C492.0,417.3 492.5,413.7 493.7,412.0C495.0,410.2 497.5,411.8 500.0,408.8C502.5,405.9 506.0,397.4 508.8,394.4Z" fill="#ffe97f"/>
<path d="M511.3,394.4C514.2,391.8 518.2,390.9 521.3,390.0C524.4,389.2 528.1,388.7 530.1,389.4C532.1,390.1 533.2,392.5 533.2,394.4C533.2,396.3 531.9,398.8 530.1,400.7C528.3,402.6 524.9,403.6 522.6,405.7C520.3,407.8 518.4,410.8 516.3,413.2C514.2,415.6 512.3,418.6 510.0,420.1C507.7,421.6 504.6,422.3 502.5,422.0C500.4,421.7 498.2,419.9 497.5,418.2C496.7,416.6 497.1,414.1 498.1,412.0C499.1,409.9 501.6,408.6 503.7,405.7C505.9,402.8 508.3,397.0 511.3,394.4Z" fill="none" stroke="#000" stroke-width="1.1" stroke-linejoin="round" stroke-dasharray="4.5 3"/>
<path d="M555.2,381.9C551.4,383.1 556.2,387.4 557.7,389.4C559.1,391.4 561.6,393.2 563.9,393.8C566.2,394.4 569.2,393.9 571.5,393.2C573.8,392.4 576.3,391.3 577.7,389.4C579.2,387.5 584.0,383.1 580.2,381.9C576.5,380.6 558.9,380.6 555.2,381.9Z" fill="#ffe97f"/>
<path d="M558.3,386.3C559.4,387.3 562.8,391.7 565.2,392.5C567.6,393.4 570.7,392.3 572.7,391.3C574.8,390.2 576.7,387.1 577.5,386.3" fill="none" stroke="#000" stroke-width="1.1" stroke-linejoin="round" stroke-dasharray="4.5 3"/>
<path d="M472.4,381.9C469.1,383.1 476.6,387.5 478.7,389.4C480.8,391.3 482.8,392.9 484.9,393.2C487.0,393.5 489.1,392.3 491.2,391.3C493.3,390.2 496.2,388.5 497.5,386.9C498.7,385.3 502.9,382.7 498.7,381.9C494.6,381.1 475.7,380.6 472.4,381.9Z" fill="#ecd3fb" stroke="#000" stroke-width="1.7" stroke-linejoin="round"/>
<path d="M451.1,410.1C451.9,396.2 454.0,410.4 456.1,410.1C458.2,409.8 460.9,408.4 463.6,408.2C466.3,408.0 470.1,407.6 472.4,408.8C474.7,410.1 477.0,412.3 477.4,415.7C477.8,419.2 474.7,424.3 474.9,429.5C475.1,434.7 477.4,441.4 478.7,447.0C479.9,452.7 481.2,459.6 482.4,463.3C483.7,467.1 483.7,468.0 486.2,469.6C488.7,471.2 494.1,472.7 497.5,472.7C500.8,472.7 504.0,471.0 506.3,469.6C508.6,468.2 510.2,466.7 511.3,464.6C512.3,462.5 512.7,459.8 512.5,457.1C512.3,454.4 511.2,450.8 510.0,448.3C508.9,445.8 506.3,443.7 505.6,442.0C505.0,440.4 505.1,439.4 506.3,438.3C507.4,437.1 510.0,436.2 512.5,435.1C515.0,434.1 519.0,433.4 521.3,432.0C523.6,430.7 524.9,429.1 526.3,427.0C527.8,424.9 528.4,422.0 530.1,419.5C531.8,417.0 533.6,414.2 536.3,412.0C539.1,409.8 543.0,407.5 546.4,406.3C549.7,405.2 553.1,405.3 556.4,405.1C559.8,404.9 563.3,405.6 566.4,405.1C569.6,404.5 572.5,403.2 575.2,401.9C577.9,400.7 580.4,398.6 582.7,397.6C585.0,396.5 587.1,395.6 589.0,395.7C590.9,395.8 593.0,396.5 594.0,398.2C595.1,399.8 595.2,402.8 595.3,405.7C595.4,408.6 594.4,412.8 594.7,415.7C594.9,418.6 595.2,421.3 596.5,423.2C597.9,425.2 600.3,427.0 602.8,427.6C605.3,428.3 608.4,427.7 611.6,427.0C614.7,426.3 618.5,424.7 621.6,423.2C624.7,421.8 628.3,420.1 630.4,418.2C632.5,416.3 633.3,414.3 634.2,412.0C635.0,409.7 634.4,406.5 635.4,404.4C636.4,402.4 638.1,400.2 640.4,399.4C642.7,398.7 646.3,399.4 649.2,400.1C652.1,400.7 655.6,402.5 658.1,403.2C660.6,403.9 663.2,400.1 664.2,404.4C665.3,408.8 665.3,424.9 664.2,429.5C663.2,434.1 660.6,430.5 658.1,432.0C655.6,433.5 652.1,436.4 649.2,438.3C646.3,440.2 643.8,441.8 640.4,443.3C637.1,444.8 632.7,446.1 629.1,447.0C625.6,448.0 622.4,448.7 619.1,448.9C615.8,449.1 612.2,449.0 609.1,448.3C605.9,447.6 603.2,446.0 600.3,444.5C597.4,443.1 594.4,440.9 591.5,439.5C588.6,438.2 585.9,437.1 582.7,436.4C579.6,435.7 575.8,435.1 572.7,435.1C569.6,435.1 566.4,435.2 563.9,436.4C561.4,437.5 559.5,439.8 557.7,442.0C555.8,444.2 553.6,447.0 552.6,449.6C551.7,452.1 551.4,454.8 552.0,457.1C552.6,459.4 554.8,461.3 556.4,463.3C558.0,465.4 560.2,467.1 561.4,469.6C562.7,472.1 563.4,474.4 563.9,478.4C564.5,482.3 583.4,490.9 564.6,493.4C545.8,495.9 470.0,507.3 451.1,493.4C432.2,479.5 450.2,424.0 451.1,410.1Z" fill="#ecd3fb" stroke="#000" stroke-width="1.7" stroke-linejoin="round"/>
<path d="M575.2,418.9C575.2,420.8 574.9,421.2 572.1,422.6C569.3,424.0 568.6,424.1 564.6,424.1C560.5,424.1 559.9,424.0 557.0,422.6C554.2,421.2 553.9,420.8 553.9,418.9C553.9,416.9 554.2,416.5 557.0,415.1C559.9,413.7 560.5,413.6 564.6,413.6C568.6,413.6 569.3,413.7 572.1,415.1C574.9,416.5 575.2,416.9 575.2,418.9Z" fill="#e0b5f7"/>
<path d="M532.0,460.2C532.0,462.1 531.9,462.4 530.9,463.8C529.9,465.1 529.6,465.2 528.2,465.2C526.8,465.2 526.5,465.1 525.5,463.8C524.5,462.4 524.4,462.1 524.4,460.2C524.4,458.3 524.5,458.0 525.5,456.7C526.5,455.3 526.8,455.2 528.2,455.2C529.6,455.2 529.9,455.3 530.9,456.7C531.9,458.0 532.0,458.3 532.0,460.2Z" fill="#e0b5f7"/>
<path d="M451.1,442.0C452.8,437.7 458.4,444.1 461.1,445.8C463.8,447.5 465.9,450.0 467.4,452.1C468.8,454.1 470.1,456.2 469.9,458.3C469.7,460.4 468.0,462.7 466.1,464.6C464.3,466.5 461.1,468.4 458.6,469.6C456.1,470.9 452.3,476.7 451.1,472.1C449.8,467.5 449.4,446.4 451.1,442.0Z" fill="#e0b5f7"/>
<path d="M455.5,440.8C456.6,441.6 460.2,443.7 462.4,445.8C464.6,447.9 467.4,451.0 468.6,453.3C469.9,455.6 470.5,457.5 469.9,459.6C469.3,461.7 467.3,463.9 464.9,465.8C462.5,467.8 457.0,470.2 455.5,471.1" fill="none" stroke="#000" stroke-width="1.0" stroke-linejoin="round"/>
<path d="M458.0,457.1C458.0,459.0 457.9,459.3 457.2,460.6C456.6,462.0 456.4,462.1 455.5,462.1C454.5,462.1 454.4,462.0 453.7,460.6C453.0,459.3 453.0,459.0 453.0,457.1C453.0,455.2 453.0,454.9 453.7,453.5C454.4,452.2 454.5,452.1 455.5,452.1C456.4,452.1 456.6,452.2 457.2,453.5C457.9,454.9 458.0,455.2 458.0,457.1Z" fill="#cc85f5"/>
<path d="M474.9,493.4C463.5,492.4 475.3,488.6 477.4,487.1C479.5,485.7 482.6,485.2 487.4,484.6C492.3,484.1 500.2,484.1 506.3,483.6C512.3,483.2 518.8,482.7 523.8,482.1C528.8,481.6 533.2,480.3 536.3,480.3C539.5,480.3 541.1,480.8 542.6,482.1C544.2,483.5 545.2,486.5 545.8,488.4C546.3,490.3 557.6,492.6 545.8,493.4C533.9,494.2 486.3,494.5 474.9,493.4Z" fill="#e0b5f7" stroke="#000" stroke-width="1.0" stroke-linejoin="round"/>
<path d="M578.4,462.1C578.1,460.2 578.9,457.6 580.2,455.8C581.6,454.0 584.2,452.0 586.5,451.4C588.8,450.9 591.5,451.7 594.0,452.7C596.5,453.6 598.8,456.1 601.6,457.1C604.3,458.0 607.0,458.5 610.3,458.3C613.7,458.1 617.6,456.9 621.6,455.8C625.6,454.8 630.0,453.1 634.2,452.1C638.3,451.0 642.7,450.0 646.7,449.6C650.7,449.1 655.2,449.6 658.1,449.6C661.0,449.6 663.2,442.2 664.2,449.6C665.3,456.9 677.2,486.1 664.2,493.4C651.3,500.7 599.3,495.7 586.5,493.4C573.8,491.1 587.8,483.2 587.8,479.6C587.8,476.1 587.5,474.2 586.5,472.1C585.5,470.0 582.8,468.8 581.5,467.1C580.1,465.4 578.6,464.0 578.4,462.1Z" fill="#ffe97f"/>
<path d="M602.8,493.4C592.6,491.1 602.2,483.0 602.8,479.6C603.4,476.3 604.3,475.0 606.6,473.4C608.9,471.7 612.8,470.9 616.6,469.6C620.4,468.4 625.2,467.3 629.1,465.8C633.1,464.4 636.7,462.1 640.4,460.8C644.2,459.6 648.8,458.5 651.7,458.3C654.7,458.1 656.0,459.2 658.1,459.6C660.2,460.0 663.2,455.2 664.2,460.8C665.3,466.5 674.5,488.0 664.2,493.4C654.0,498.8 613.0,495.7 602.8,493.4Z" fill="#ffcf40"/>
<path d="M652.3,481.5C652.3,484.1 652.2,484.5 650.3,486.4C648.5,488.2 648.0,488.4 645.4,488.4C642.8,488.4 642.4,488.2 640.6,486.4C638.7,484.5 638.5,484.1 638.5,481.5C638.5,478.9 638.7,478.5 640.6,476.6C642.4,474.8 642.8,474.6 645.4,474.6C648.0,474.6 648.5,474.8 650.3,476.6C652.2,478.5 652.3,478.9 652.3,481.5Z" fill="#ffb03b"/>
<path d="M655.2,481.5C655.2,485.1 655.0,485.6 652.4,488.2C649.7,490.7 649.1,490.9 645.4,490.9C641.7,490.9 641.1,490.7 638.5,488.2C635.9,485.6 635.7,485.1 635.7,481.5C635.7,478.0 635.9,477.4 638.5,474.9C641.1,472.4 641.7,472.1 645.4,472.1C649.1,472.1 649.7,472.4 652.4,474.9C655.0,477.4 655.2,478.0 655.2,481.5Z" fill="none" stroke="#000" stroke-width="1.9" stroke-linejoin="round" stroke-dasharray="5.5 3"/>
<path d="M595.9,489.0C595.8,487.0 595.8,480.2 595.3,477.1C594.8,474.1 594.0,472.7 592.8,470.9C591.5,469.0 589.2,467.7 587.8,465.8C586.3,464.0 584.2,461.1 584.0,459.6C583.8,458.0 585.2,456.9 586.5,456.4C587.8,456.0 589.8,456.1 591.5,457.1C593.2,458.0 594.9,460.6 596.5,462.1C598.2,463.5 599.3,465.2 601.6,465.8C603.8,466.5 607.0,466.3 610.3,465.8C613.7,465.4 617.9,464.6 621.6,463.3C625.4,462.1 629.1,459.8 632.9,458.3C636.7,456.9 640.8,455.4 644.2,454.6C647.5,453.7 650.5,453.3 653.0,453.3C655.5,453.4 658.2,454.6 659.2,454.8" fill="none" stroke="#000" stroke-width="1.1" stroke-linejoin="round" stroke-dasharray="4.5 3"/>
</g>
<g clip-path="url(#tc30_30)">
<rect x="657.1" y="385.9" width="103.0" height="103.0" fill="#ffe97f"/>
<path d="M653.1,381.9C659.1,370.8 684.4,380.2 689.4,381.9C694.5,383.6 684.4,389.2 683.2,391.9C681.9,394.6 680.9,396.3 681.9,398.2C683.0,400.1 686.3,401.7 689.4,403.2C692.6,404.7 697.0,406.1 700.7,406.9C704.5,407.8 708.3,408.2 712.0,408.2C715.8,408.2 720.6,408.2 723.3,406.9C726.0,405.7 726.6,401.7 728.3,400.7C730.0,399.6 732.0,399.8 733.3,400.7C734.7,401.5 736.7,404.0 736.5,405.7C736.3,407.4 734.1,409.0 732.1,410.7C730.1,412.4 727.1,413.8 724.6,415.7C722.0,417.6 719.7,419.9 717.0,422.0C714.3,424.1 711.0,426.2 708.3,428.3C705.5,430.3 702.4,432.2 700.7,434.5C699.1,436.8 698.6,438.7 698.2,442.0C697.8,445.4 698.2,451.0 698.2,454.6C698.2,458.1 699.7,461.5 698.2,463.3C696.8,465.2 692.2,465.8 689.4,465.8C686.7,465.8 684.0,464.8 681.9,463.3C679.8,461.9 678.6,459.4 676.9,457.1C675.2,454.8 674.2,451.0 671.9,449.6C669.6,448.1 666.3,448.5 663.1,448.3C660.0,448.1 654.8,459.4 653.1,448.3C651.4,437.2 647.0,393.0 653.1,381.9Z" fill="#fff5cc"/>
<path d="M653.1,404.4C653.9,399.7 655.6,404.4 658.1,405.1C660.6,405.7 665.0,406.9 668.1,408.2C671.3,409.5 674.6,410.9 676.9,412.6C679.2,414.3 681.5,416.2 681.9,418.2C682.3,420.2 681.1,422.7 679.4,424.5C677.7,426.3 674.6,427.7 671.9,428.9C669.2,430.0 666.3,430.7 663.1,431.4C660.0,432.1 654.8,437.8 653.1,433.3C651.4,428.8 652.2,409.1 653.1,404.4Z" fill="#ecd3fb" stroke="#000" stroke-width="1.7" stroke-linejoin="round"/>
<path d="M700.1,474.6C700.5,472.8 702.5,470.9 704.5,470.2C706.5,469.6 709.5,469.9 712.0,470.9C714.5,471.8 718.1,474.2 719.5,475.9C721.0,477.5 721.6,479.4 720.8,480.9C720.0,482.3 716.8,484.0 714.5,484.6C712.2,485.3 709.1,485.3 707.0,484.6C704.9,484.0 703.1,482.6 702.0,480.9C700.8,479.2 699.7,476.4 700.1,474.6Z" fill="#fff5cc"/>
<path d="M717.0,439.5C718.2,437.2 720.8,434.6 723.3,433.3C725.8,431.9 729.2,431.0 732.1,431.4C735.0,431.8 738.1,434.2 740.9,435.8C743.6,437.3 745.9,439.7 748.4,440.8C750.9,441.8 753.2,442.0 755.9,442.0C758.6,442.0 763.2,432.2 764.7,440.8C766.1,449.3 767.0,484.6 764.7,493.4C762.4,502.2 753.6,496.1 750.9,493.4C748.2,490.7 749.4,481.3 748.4,477.1C747.3,472.9 746.7,470.4 744.6,468.4C742.5,466.3 739.0,465.6 735.8,464.6C732.7,463.5 728.5,463.5 725.8,462.1C723.1,460.6 721.1,458.3 719.5,455.8C718.0,453.3 716.8,449.8 716.4,447.0C716.0,444.3 715.9,441.8 717.0,439.5Z" fill="#ffcf40"/>
<path d="M653.1,462.1C653.9,457.3 656.4,462.5 658.1,464.6C659.8,466.7 661.9,470.7 663.1,474.6C664.4,478.5 665.2,484.8 665.6,487.9C666.0,491.0 667.7,492.5 665.6,493.4C663.5,494.3 655.2,498.6 653.1,493.4C651.0,488.2 652.2,466.9 653.1,462.1Z" fill="#ffcf40"/>
<path d="M713.3,388.2C711.8,388.6 707.8,390.5 704.5,390.7C701.1,390.9 696.6,389.2 693.2,389.4C689.9,389.6 686.4,390.8 684.4,391.9C682.4,393.1 681.1,394.8 681.3,396.3C681.5,397.8 683.3,399.2 685.7,400.7C688.1,402.1 692.0,403.9 695.7,405.1C699.5,406.2 704.5,407.1 708.3,407.6C712.0,408.1 714.9,408.2 718.3,408.0C721.6,407.7 725.0,406.3 728.3,406.3C731.7,406.4 735.0,407.5 738.3,408.2C741.7,408.9 744.7,409.9 748.4,410.7C752.0,411.5 758.3,412.5 760.3,412.8" fill="none" stroke="#000" stroke-width="1.1" stroke-linejoin="round" stroke-dasharray="4.5 3"/>
<path d="M760.3,418.2C758.5,418.4 752.7,419.7 749.6,419.5C746.6,419.3 744.6,417.7 742.1,417.0C739.6,416.2 736.9,415.0 734.6,415.1C732.3,415.2 730.6,416.0 728.3,417.6C726.0,419.2 723.3,421.9 720.8,424.5C718.3,427.1 715.2,430.3 713.3,433.3C711.4,436.2 710.2,438.9 709.5,442.0C708.8,445.2 708.5,448.9 708.9,452.1C709.3,455.2 710.2,458.3 712.0,460.8C713.8,463.3 716.6,465.2 719.5,467.1C722.5,469.0 727.0,470.4 729.6,472.1C732.2,473.8 734.8,475.2 735.2,477.1C735.6,479.0 733.6,481.7 732.1,483.4C730.5,485.1 727.7,486.1 725.8,487.1C723.9,488.2 721.6,489.0 720.8,489.4" fill="none" stroke="#000" stroke-width="1.1" stroke-linejoin="round" stroke-dasharray="4.5 3"/>
<path d="M656.8,455.8C658.1,456.9 661.7,460.2 664.4,462.1C667.1,464.0 670.0,465.6 673.1,467.1C676.3,468.6 680.3,469.6 683.2,470.9C686.1,472.1 688.8,472.9 690.7,474.6C692.6,476.3 693.4,478.5 694.5,480.9C695.5,483.3 696.8,487.7 697.2,489.0" fill="none" stroke="#000" stroke-width="1.1" stroke-linejoin="round" stroke-dasharray="4.5 3"/>
<path d="M759.4,452.1C758.9,453.7 757.1,458.7 756.5,462.1C755.9,465.4 755.5,468.8 755.9,472.1C756.3,475.5 758.3,480.5 758.8,482.1" fill="none" stroke="#000" stroke-width="1.9" stroke-linejoin="round" stroke-dasharray="5.5 3"/>
</g>
<line x1="153.1" y1="83.9" x2="153.1" y2="487.9" stroke="#999" stroke-width="0.45" stroke-dasharray="3 2" opacity="0.6"/>
<line x1="254.1" y1="83.9" x2="254.1" y2="487.9" stroke="#999" stroke-width="0.45" stroke-dasharray="3 2" opacity="0.6"/>
<line x1="355.1" y1="83.9" x2="355.1" y2="487.9" stroke="#999" stroke-width="0.45" stroke-dasharray="3 2" opacity="0.6"/>
<line x1="456.1" y1="83.9" x2="456.1" y2="487.9" stroke="#999" stroke-width="0.45" stroke-dasharray="3 2" opacity="0.6"/>
<line x1="557.1" y1="83.9" x2="557.1" y2="487.9" stroke="#999" stroke-width="0.45" stroke-dasharray="3 2" opacity="0.6"/>
<line x1="658.1" y1="83.9" x2="658.1" y2="487.9" stroke="#999" stroke-width="0.45" stroke-dasharray="3 2" opacity="0.6"/>
<line x1="52.1" y1="386.9" x2="759.1" y2="386.9" stroke="#999" stroke-width="0.45" stroke-dasharray="3 2" opacity="0.6"/>
<line x1="52.1" y1="285.9" x2="759.1" y2="285.9" stroke="#999" stroke-width="0.45" stroke-dasharray="3 2" opacity="0.6"/>
<line x1="52.1" y1="184.9" x2="759.1" y2="184.9" stroke="#999" stroke-width="0.45" stroke-dasharray="3 2" opacity="0.6"/>
<path d="M171.3,408.1 L181.4,399.0 L195.5,388.9 L206.6,377.8 L218.8,375.8 L237.9,375.8 L250.1,373.8 L259.1,371.8 L261.2,376.8 L275.3,373.8 L273.3,367.7 L276.3,362.7 L286.4,354.6 L289.4,346.5 L288.4,340.4 L300.6,336.4 L301.6,338.4 L296.5,343.5 L294.5,345.5 L294.5,349.5 L298.5,351.5 L306.6,347.5 L311.7,345.5 L319.8,342.9 L325.8,338.8 L335.9,327.3 L343.0,322.3 L346.0,315.2 L351.1,308.1 L353.1,300.0 L355.1,290.9 L349.0,287.9 L350.1,285.9 L355.1,281.9 L352.1,273.8 L355.1,270.8 L361.2,263.7 L362.2,260.6 L368.2,262.7 L370.2,268.7 L373.3,266.7 L378.3,267.7 L380.4,261.7 L373.3,255.0 L384.4,257.0 L383.4,263.7 L386.4,275.2 L391.5,281.9 L394.9,293.0 L393.5,300.6 L390.4,305.1 L387.4,308.1 L386.4,320.2 L381.4,317.8 L376.3,321.2 L374.3,330.3 L374.7,346.5 L368.2,355.6 L367.2,360.6 L372.7,372.4 L364.2,377.8 L361.2,383.9 L353.1,388.9 L351.5,386.9 L352.1,380.8 L356.1,374.8 L351.1,374.4 L348.0,378.4 L348.0,383.9 L345.0,380.8 L337.9,381.9 L336.9,385.9 L333.9,394.0 L331.9,395.0 L329.9,388.9 L331.9,385.3 L324.8,386.9 L319.1,395.0 L308.6,394.0 L295.5,395.0 L300.6,390.9 L291.5,385.9 L285.4,393.0 L292.5,398.0 L291.5,402.0 L279.4,406.1 L274.3,413.2 L269.2,418.2 L262.2,413.2 L257.1,409.5 L256.1,402.0 L262.2,394.0 L258.1,393.4 L253.1,394.0 L247.0,392.0 L232.9,395.0 L227.8,397.0 L220.8,398.0 L217.7,399.0 L204.6,403.1 L202.6,400.0 L198.5,404.1 L195.5,408.1 L184.4,406.5 L178.3,408.5 L171.3,408.1" fill="none" stroke="#000" stroke-width="0.8" stroke-linejoin="round"/>
<path d="M394.1,174.4 L407.2,186.3 L422.8,198.0 L441.6,204.7 L450.0,206.7 L462.8,198.2 L460.1,204.7 L458.7,212.0 L462.2,213.8 L468.2,218.6 L472.7,217.6 L467.2,219.8 L453.1,224.7 L443.6,225.9 L437.3,226.3 L422.2,239.8 L420.8,246.9 L411.1,242.3 L403.0,238.8 L387.4,232.8 L375.3,239.0 L372.7,236.0 L362.8,235.0 L360.8,240.4 L366.8,243.5 L371.7,244.9 L378.9,249.5 L369.8,250.1 L363.2,254.6 L357.1,257.6 L357.7,248.1 L352.1,236.4 L359.7,229.7 L365.2,225.3 L362.2,218.2 L370.9,221.3 L375.3,221.3 L382.4,220.2 L385.8,208.1 L388.4,206.1 L389.4,197.6 L390.4,187.3 L388.4,176.8 L394.1,174.4" fill="none" stroke="#000" stroke-width="0.8" stroke-linejoin="round"/>
<path d="M172.3,408.5 L173.3,411.1 L177.3,415.2 L188.0,415.2 L183.4,421.6 L187.4,422.2 L191.5,422.2 L192.5,428.3 L187.4,435.8 L182.8,449.5 L180.4,460.2 L175.3,458.2 L166.6,467.7 L168.2,461.6 L164.2,455.6 L164.2,462.6 L159.2,462.2 L155.7,459.2 L157.1,450.5 L157.1,447.1 L161.2,443.5 L165.2,437.4 L165.2,431.3 L161.6,426.7 L159.2,423.9 L155.1,430.3 L160.6,431.7 L157.1,435.4 L150.1,433.0 L148.1,435.8 L146.0,428.3 L147.0,424.3 L144.0,420.2 L152.5,417.8 L156.1,415.2 L161.2,415.2 L163.2,410.1 L169.3,408.5 L172.3,408.5" fill="none" stroke="#000" stroke-width="0.8" stroke-linejoin="round"/>
<path d="M193.9,420.2 L207.6,410.1 L213.7,405.7 L219.8,407.7 L226.8,404.7 L234.9,400.0 L246.6,402.7 L246.0,406.1 L249.0,410.1 L237.5,422.2 L224.8,417.2 L219.8,419.6 L213.7,432.8 L207.6,428.7 L204.6,422.9 L201.6,418.2 L193.9,420.2" fill="none" stroke="#000" stroke-width="0.8" stroke-linejoin="round"/>
<path d="M249.0,403.1 L254.5,395.0 L252.1,400.0 L249.0,403.1" fill="none" stroke="#000" stroke-width="0.8" stroke-linejoin="round"/>
<path d="M319.1,329.9 L325.2,319.8 L324.8,325.3 L326.4,329.3 L320.8,330.3 L319.1,329.9" fill="none" stroke="#000" stroke-width="0.8" stroke-linejoin="round"/>
<path d="M42.0,289.9 L52.1,294.0 L56.1,300.0 L58.2,312.2 L50.1,314.2 L52.1,324.3 L58.2,328.3 L66.2,326.3 L80.4,332.4 L84.4,337.4 L88.5,347.5 L75.3,351.5 L82.4,360.6 L84.4,367.7 L80.4,384.9 L79.4,390.9 L82.4,401.0 L87.5,401.0 L98.6,397.0 L107.7,393.0 L120.8,389.9 L126.8,389.9 L134.9,384.9 L141.0,376.8 L141.0,365.7 L144.4,365.1 L141.0,346.5 L136.9,338.4 L131.9,331.4 L124.8,322.3 L110.7,308.1 L101.6,302.1 L105.6,289.9 L124.8,281.9 L136.9,272.4 L147.0,268.9 L147.6,254.6 L166.6,236.8 L177.3,231.4 L185.8,224.7 L195.3,221.3 L200.2,227.3 L219.2,229.5 L240.8,221.3 L257.5,210.6 L267.0,198.4 L290.9,179.4 L314.7,157.8 L324.4,148.3 L338.5,131.6 L355.1,115.0 L362.6,98.2 L364.8,81.9" fill="none" stroke="#000" stroke-width="0.8" stroke-linejoin="round"/>
<path d="M159.6,148.3 L176.3,137.6 L195.5,132.8 L209.7,125.7 L233.5,119.7 L252.7,113.8 L267.0,107.7 L281.4,98.2 L290.9,86.3 L292.5,81.9" fill="none" stroke="#000" stroke-width="0.8" stroke-linejoin="round"/>
<path d="M171.3,130.4 L189.5,130.0 L204.8,129.3" fill="none" stroke="#000" stroke-width="0.8" stroke-linejoin="round"/>
<path d="M195.3,179.4 L207.2,179.4 L210.9,186.5 L204.8,195.0 L197.7,191.4 L194.1,184.1 L195.3,179.4" fill="none" stroke="#000" stroke-width="0.8" stroke-linejoin="round"/>
<path d="M160.8,480.8 L163.2,478.8 L166.2,480.8 L163.6,483.3 L160.8,480.8" fill="none" stroke="#000" stroke-width="0.8" stroke-linejoin="round"/>
<path d="M172.3,480.2 L174.9,475.8 L174.3,471.3 L172.3,475.8 L172.3,480.2" fill="none" stroke="#000" stroke-width="0.8" stroke-linejoin="round"/>
<path d="M125.8,435.4 L130.9,431.3 L134.9,425.3 L129.9,429.3 L125.8,435.4" fill="none" stroke="#000" stroke-width="0.8" stroke-linejoin="round"/>
<path d="M213.7,363.7 L220.8,360.6 L219.8,363.7 L213.7,363.7" fill="none" stroke="#000" stroke-width="0.8" stroke-linejoin="round"/>
<path d="M378.3,181.9 L381.4,179.9 L382.0,182.5 L378.3,181.9" fill="none" stroke="#000" stroke-width="0.8" stroke-linejoin="round"/>
<path d="M75.3,421.2 L79.4,417.6 L88.5,416.2 L91.5,418.2 L86.4,422.2 L78.4,422.9 L75.3,421.2" fill="none" stroke="#000" stroke-width="0.8" stroke-linejoin="round"/>
<path d="M136.9,405.1 L142.0,393.0 L140.0,401.0 L136.9,405.1" fill="none" stroke="#000" stroke-width="0.8" stroke-linejoin="round"/>
<path d="M398.5,81.9 L396.1,102.7 L396.5,126.3 L396.5,143.5 L392.5,151.6 L397.1,166.7 L405.6,150.6 L411.7,152.0 L424.4,164.3 L419.7,148.5 L414.7,138.4 L406.6,127.3 L411.7,112.2 L417.7,100.1 L429.8,98.0 L442.0,103.1 L450.0,111.2 L444.0,102.1 L435.9,95.0 L425.8,81.9" fill="none" stroke="#000" stroke-width="0.8" stroke-linejoin="round"/>
<path d="M465.2,210.2 L475.3,202.1 L487.4,196.0 L480.3,201.1 L471.2,208.1 L465.2,210.2" fill="none" stroke="#000" stroke-width="0.8" stroke-linejoin="round"/>
<path d="M494.5,196.0 L508.6,185.9 L522.8,179.9 L533.9,174.8 L528.8,178.8 L514.7,185.9 L500.5,195.0 L494.5,196.0" fill="none" stroke="#000" stroke-width="0.8" stroke-linejoin="round"/>
<path d="M546.0,172.8 L557.1,165.7 L568.2,160.7 L559.1,167.7 L546.0,172.8" fill="none" stroke="#000" stroke-width="0.8" stroke-linejoin="round"/>
<path d="M592.5,147.5 L601.5,141.5 L597.5,145.5 L592.5,147.5" fill="none" stroke="#000" stroke-width="0.8" stroke-linejoin="round"/>
<path d="M651.0,98.0 L655.1,92.0 L656.1,97.0 L651.0,98.0" fill="none" stroke="#000" stroke-width="0.8" stroke-linejoin="round"/>
<path d="M664.2,81.9 L670.2,83.9 L676.3,81.9" fill="none" stroke="#000" stroke-width="0.8" stroke-linejoin="round"/>
</g>
<rect x="375.3" y="235.4" width="80.8" height="151.5" fill="none" stroke="#000" stroke-width="2.3"/>
<g clip-path="url(#mc)">
<rect x="344.4" y="157.5" width="12.5" height="14.5" fill="#fff"/><text class="cl" x="350.7" y="169.4" text-anchor="middle">0</text>
<rect x="375.7" y="143.7" width="12.5" height="14.5" fill="#fff"/><text class="cl" x="382.0" y="155.6" text-anchor="middle">1</text>
<rect x="432.8" y="171.9" width="12.5" height="14.5" fill="#fff"/><text class="cl" x="439.1" y="183.8" text-anchor="middle">0</text>
<rect x="484.3" y="136.2" width="12.5" height="14.5" fill="#fff"/><text class="cl" x="490.6" y="148.1" text-anchor="middle">0</text>
<rect x="507.5" y="149.3" width="12.5" height="14.5" fill="#fff"/><text class="cl" x="513.8" y="161.3" text-anchor="middle">1</text>
<rect x="600.9" y="99.2" width="12.5" height="14.5" fill="#fff"/><text class="cl" x="607.2" y="111.2" text-anchor="middle">0</text>
<rect x="168.1" y="205.8" width="12.5" height="14.5" fill="#fff"/><text class="cl" x="174.4" y="217.8" text-anchor="middle">0</text>
<rect x="237.7" y="244.1" width="12.5" height="14.5" fill="#fff"/><text class="cl" x="243.9" y="256.0" text-anchor="middle">0</text>
<rect x="45.2" y="223.4" width="12.5" height="14.5" fill="#fff"/><text class="cl" x="51.5" y="235.3" text-anchor="middle">0</text>
<rect x="280.1" y="240.3" width="19.5" height="14.5" fill="#fff"/><text class="cl" x="289.8" y="252.3" text-anchor="middle">−1</text>
<rect x="336.6" y="222.8" width="12.5" height="14.5" fill="#fff"/><text class="cl" x="342.9" y="234.7" text-anchor="middle">1</text>
<rect x="383.9" y="204.6" width="12.5" height="14.5" fill="#fff"/><text class="cl" x="390.2" y="216.5" text-anchor="middle">1</text>
<rect x="382.3" y="264.1" width="19.5" height="14.5" fill="#fff"/><text class="cl" x="392.0" y="276.1" text-anchor="middle">−3</text>
<rect x="456.1" y="215.2" width="12.5" height="14.5" fill="#fff"/><text class="cl" x="462.4" y="227.2" text-anchor="middle">0</text>
<rect x="504.7" y="202.7" width="19.5" height="14.5" fill="#fff"/><text class="cl" x="514.4" y="214.7" text-anchor="middle">−1</text>
<rect x="575.5" y="232.2" width="19.5" height="14.5" fill="#fff"/><text class="cl" x="585.3" y="244.1" text-anchor="middle">−2</text>
<rect x="569.9" y="241.6" width="19.5" height="14.5" fill="#fff"/><text class="cl" x="579.6" y="253.5" text-anchor="middle">−3</text>
<rect x="522.8" y="252.8" width="19.5" height="14.5" fill="#fff"/><text class="cl" x="532.6" y="264.8" text-anchor="middle">−4</text>
<rect x="619.8" y="195.2" width="12.5" height="14.5" fill="#fff"/><text class="cl" x="626.0" y="207.1" text-anchor="middle">0</text>
<rect x="620.6" y="276.0" width="19.5" height="14.5" fill="#fff"/><text class="cl" x="630.4" y="288.0" text-anchor="middle">−3</text>
<rect x="107.6" y="315.6" width="19.5" height="14.5" fill="#fff"/><text class="cl" x="117.3" y="327.6" text-anchor="middle">−1</text>
<rect x="249.4" y="326.9" width="19.5" height="14.5" fill="#fff"/><text class="cl" x="259.1" y="338.8" text-anchor="middle">−2</text>
<rect x="305.8" y="313.7" width="19.5" height="14.5" fill="#fff"/><text class="cl" x="315.5" y="325.7" text-anchor="middle">−2</text>
<rect x="278.2" y="375.8" width="19.5" height="14.5" fill="#fff"/><text class="cl" x="288.0" y="387.7" text-anchor="middle">−2</text>
<rect x="385.4" y="288.0" width="19.5" height="14.5" fill="#fff"/><text class="cl" x="395.2" y="300.0" text-anchor="middle">−2</text>
<rect x="369.7" y="325.6" width="19.5" height="14.5" fill="#fff"/><text class="cl" x="379.5" y="337.6" text-anchor="middle">−3</text>
<rect x="489.0" y="310.0" width="19.5" height="14.5" fill="#fff"/><text class="cl" x="498.7" y="321.9" text-anchor="middle">−2</text>
<rect x="519.1" y="300.6" width="19.5" height="14.5" fill="#fff"/><text class="cl" x="528.8" y="312.5" text-anchor="middle">−4</text>
<rect x="635.7" y="308.1" width="19.5" height="14.5" fill="#fff"/><text class="cl" x="645.4" y="320.0" text-anchor="middle">−1</text>
<rect x="544.8" y="364.5" width="19.5" height="14.5" fill="#fff"/><text class="cl" x="554.5" y="376.4" text-anchor="middle">−1</text>
<rect x="468.7" y="373.9" width="12.5" height="14.5" fill="#fff"/><text class="cl" x="474.9" y="385.8" text-anchor="middle">0</text>
<rect x="700.4" y="330.0" width="19.5" height="14.5" fill="#fff"/><text class="cl" x="710.1" y="342.0" text-anchor="middle">−2</text>
<rect x="54.0" y="463.0" width="12.5" height="14.5" fill="#fff"/><text class="cl" x="60.3" y="474.9" text-anchor="middle">1</text>
<rect x="183.2" y="447.9" width="12.5" height="14.5" fill="#fff"/><text class="cl" x="189.4" y="459.9" text-anchor="middle">2</text>
<rect x="199.7" y="397.2" width="19.5" height="14.5" fill="#fff"/><text class="cl" x="209.5" y="409.1" text-anchor="middle">−1</text>
<rect x="263.8" y="395.9" width="19.5" height="14.5" fill="#fff"/><text class="cl" x="273.5" y="407.9" text-anchor="middle">−1</text>
<rect x="399.2" y="386.5" width="19.5" height="14.5" fill="#fff"/><text class="cl" x="409.0" y="398.5" text-anchor="middle">−1</text>
<rect x="494.6" y="393.4" width="19.5" height="14.5" fill="#fff"/><text class="cl" x="504.4" y="405.4" text-anchor="middle">−1</text>
<rect x="498.8" y="463.0" width="12.5" height="14.5" fill="#fff"/><text class="cl" x="505.0" y="474.9" text-anchor="middle">0</text>
<rect x="628.5" y="438.5" width="12.5" height="14.5" fill="#fff"/><text class="cl" x="634.8" y="450.5" text-anchor="middle">0</text>
</g>
<rect x="52.0" y="84.2" width="707.05" height="404.70" fill="none" stroke="#000" stroke-width="2"/>
<line x1="52.0" y1="78.7" x2="52.0" y2="84.2" stroke="#000" stroke-width="1.8"/>
<line x1="52.0" y1="488.9" x2="52.0" y2="494.4" stroke="#000" stroke-width="1.8"/>
<text class="ax" transform="translate(52.3 511.4) scale(0.92 1)" text-anchor="middle">125<tspan dx="1.8" dy="-6.2" font-size="14">°</tspan><tspan dx="2.2" dy="6.2">E</tspan></text>
<line x1="153.0" y1="78.7" x2="153.0" y2="84.2" stroke="#000" stroke-width="1.8"/>
<line x1="153.0" y1="488.9" x2="153.0" y2="494.4" stroke="#000" stroke-width="1.8"/>
<text class="ax" transform="translate(153.3 511.4) scale(0.92 1)" text-anchor="middle">130<tspan dx="1.8" dy="-6.2" font-size="14">°</tspan><tspan dx="2.2" dy="6.2">E</tspan></text>
<line x1="254.0" y1="78.7" x2="254.0" y2="84.2" stroke="#000" stroke-width="1.8"/>
<line x1="254.0" y1="488.9" x2="254.0" y2="494.4" stroke="#000" stroke-width="1.8"/>
<text class="ax" transform="translate(254.3 511.4) scale(0.92 1)" text-anchor="middle">135<tspan dx="1.8" dy="-6.2" font-size="14">°</tspan><tspan dx="2.2" dy="6.2">E</tspan></text>
<line x1="355.0" y1="78.7" x2="355.0" y2="84.2" stroke="#000" stroke-width="1.8"/>
<line x1="355.0" y1="488.9" x2="355.0" y2="494.4" stroke="#000" stroke-width="1.8"/>
<text class="ax" transform="translate(355.3 511.4) scale(0.92 1)" text-anchor="middle">140<tspan dx="1.8" dy="-6.2" font-size="14">°</tspan><tspan dx="2.2" dy="6.2">E</tspan></text>
<line x1="456.0" y1="78.7" x2="456.0" y2="84.2" stroke="#000" stroke-width="1.8"/>
<line x1="456.0" y1="488.9" x2="456.0" y2="494.4" stroke="#000" stroke-width="1.8"/>
<text class="ax" transform="translate(456.3 511.4) scale(0.92 1)" text-anchor="middle">145<tspan dx="1.8" dy="-6.2" font-size="14">°</tspan><tspan dx="2.2" dy="6.2">E</tspan></text>
<line x1="557.0" y1="78.7" x2="557.0" y2="84.2" stroke="#000" stroke-width="1.8"/>
<line x1="557.0" y1="488.9" x2="557.0" y2="494.4" stroke="#000" stroke-width="1.8"/>
<text class="ax" transform="translate(557.3 511.4) scale(0.92 1)" text-anchor="middle">150<tspan dx="1.8" dy="-6.2" font-size="14">°</tspan><tspan dx="2.2" dy="6.2">E</tspan></text>
<line x1="658.0" y1="78.7" x2="658.0" y2="84.2" stroke="#000" stroke-width="1.8"/>
<line x1="658.0" y1="488.9" x2="658.0" y2="494.4" stroke="#000" stroke-width="1.8"/>
<text class="ax" transform="translate(658.3 511.4) scale(0.92 1)" text-anchor="middle">155<tspan dx="1.8" dy="-6.2" font-size="14">°</tspan><tspan dx="2.2" dy="6.2">E</tspan></text>
<line x1="759.0" y1="78.7" x2="759.0" y2="84.2" stroke="#000" stroke-width="1.8"/>
<line x1="759.0" y1="488.9" x2="759.0" y2="494.4" stroke="#000" stroke-width="1.8"/>
<text class="ax" transform="translate(759.3 511.4) scale(0.92 1)" text-anchor="middle">160<tspan dx="1.8" dy="-6.2" font-size="14">°</tspan><tspan dx="2.2" dy="6.2">E</tspan></text>
<line x1="46.5" y1="488.9" x2="52.0" y2="488.9" stroke="#000" stroke-width="1.8"/>
<line x1="759.0" y1="488.9" x2="764.5" y2="488.9" stroke="#000" stroke-width="1.8"/>
<text class="ax" transform="translate(45.5 496.8) scale(0.92 1)" text-anchor="end">30<tspan dx="1.8" dy="-6.2" font-size="14">°</tspan><tspan dx="2.2" dy="6.2">N</tspan></text>
<line x1="46.5" y1="387.7" x2="52.0" y2="387.7" stroke="#000" stroke-width="1.8"/>
<line x1="759.0" y1="387.7" x2="764.5" y2="387.7" stroke="#000" stroke-width="1.8"/>
<text class="ax" transform="translate(45.5 395.6) scale(0.92 1)" text-anchor="end">35<tspan dx="1.8" dy="-6.2" font-size="14">°</tspan><tspan dx="2.2" dy="6.2">N</tspan></text>
<line x1="46.5" y1="286.6" x2="52.0" y2="286.6" stroke="#000" stroke-width="1.8"/>
<line x1="759.0" y1="286.6" x2="764.5" y2="286.6" stroke="#000" stroke-width="1.8"/>
<text class="ax" transform="translate(45.5 294.4) scale(0.92 1)" text-anchor="end">40<tspan dx="1.8" dy="-6.2" font-size="14">°</tspan><tspan dx="2.2" dy="6.2">N</tspan></text>
<line x1="46.5" y1="185.4" x2="52.0" y2="185.4" stroke="#000" stroke-width="1.8"/>
<line x1="759.0" y1="185.4" x2="764.5" y2="185.4" stroke="#000" stroke-width="1.8"/>
<text class="ax" transform="translate(45.5 193.3) scale(0.92 1)" text-anchor="end">45<tspan dx="1.8" dy="-6.2" font-size="14">°</tspan><tspan dx="2.2" dy="6.2">N</tspan></text>
<line x1="46.5" y1="84.2" x2="52.0" y2="84.2" stroke="#000" stroke-width="1.8"/>
<line x1="759.0" y1="84.2" x2="764.5" y2="84.2" stroke="#000" stroke-width="1.8"/>
<text class="ax" transform="translate(45.5 92.1) scale(0.92 1)" text-anchor="end">50<tspan dx="1.8" dy="-6.2" font-size="14">°</tspan><tspan dx="2.2" dy="6.2">N</tspan></text>
<rect x="152.8" y="529.3" width="50.8" height="9.8" fill="#ff7300"/>
<rect x="203.3" y="529.3" width="50.8" height="9.8" fill="#ffb03b"/>
<rect x="253.8" y="529.3" width="50.8" height="9.8" fill="#ffcf40"/>
<rect x="304.3" y="529.3" width="50.8" height="9.8" fill="#ffe97f"/>
<rect x="354.8" y="529.3" width="50.8" height="9.8" fill="#fff5cc"/>
<rect x="405.3" y="529.3" width="50.8" height="9.8" fill="#ecd3fb"/>
<rect x="455.8" y="529.3" width="50.8" height="9.8" fill="#e0b5f7"/>
<rect x="506.3" y="529.3" width="50.8" height="9.8" fill="#cc85f5"/>
<rect x="556.8" y="529.3" width="50.8" height="9.8" fill="#b550f0"/>
<rect x="607.3" y="529.3" width="50.8" height="9.8" fill="#9012e0"/>
<polygon points="152.8,529.3 147.3,534.1999999999999 152.8,539.0999999999999" fill="#e8352a" stroke="#000" stroke-width="1.3" stroke-linejoin="miter"/>
<polygon points="657.8,529.3 663.3,534.1999999999999 657.8,539.0999999999999" fill="#4b0f8c" stroke="#000" stroke-width="1.3"/>
<rect x="152.8" y="529.3" width="505.0" height="9.8" fill="none" stroke="#000" stroke-width="1.3"/>
<line x1="152.8" y1="539.0999999999999" x2="152.8" y2="544.5999999999999" stroke="#000" stroke-width="1.3"/>
<text class="cb" transform="translate(152.8 562) scale(0.9 1)" text-anchor="middle">−20</text>
<line x1="203.3" y1="539.0999999999999" x2="203.3" y2="544.5999999999999" stroke="#000" stroke-width="1.3"/>
<text class="cb" transform="translate(203.3 562) scale(0.9 1)" text-anchor="middle">−16</text>
<line x1="253.8" y1="539.0999999999999" x2="253.8" y2="544.5999999999999" stroke="#000" stroke-width="1.3"/>
<text class="cb" transform="translate(253.8 562) scale(0.9 1)" text-anchor="middle">−12</text>
<line x1="304.3" y1="539.0999999999999" x2="304.3" y2="544.5999999999999" stroke="#000" stroke-width="1.3"/>
<text class="cb" transform="translate(304.3 562) scale(0.9 1)" text-anchor="middle">−8</text>
<line x1="354.8" y1="539.0999999999999" x2="354.8" y2="544.5999999999999" stroke="#000" stroke-width="1.3"/>
<text class="cb" transform="translate(354.8 562) scale(0.9 1)" text-anchor="middle">−4</text>
<line x1="405.3" y1="539.0999999999999" x2="405.3" y2="544.5999999999999" stroke="#000" stroke-width="1.3"/>
<text class="cb" transform="translate(405.3 562) scale(0.9 1)" text-anchor="middle">0</text>
<line x1="455.8" y1="539.0999999999999" x2="455.8" y2="544.5999999999999" stroke="#000" stroke-width="1.3"/>
<text class="cb" transform="translate(455.8 562) scale(0.9 1)" text-anchor="middle">4</text>
<line x1="506.3" y1="539.0999999999999" x2="506.3" y2="544.5999999999999" stroke="#000" stroke-width="1.3"/>
<text class="cb" transform="translate(506.3 562) scale(0.9 1)" text-anchor="middle">8</text>
<line x1="556.8" y1="539.0999999999999" x2="556.8" y2="544.5999999999999" stroke="#000" stroke-width="1.3"/>
<text class="cb" transform="translate(556.8 562) scale(0.9 1)" text-anchor="middle">12</text>
<line x1="607.3" y1="539.0999999999999" x2="607.3" y2="544.5999999999999" stroke="#000" stroke-width="1.3"/>
<text class="cb" transform="translate(607.3 562) scale(0.9 1)" text-anchor="middle">16</text>
<line x1="657.8" y1="539.0999999999999" x2="657.8" y2="544.5999999999999" stroke="#000" stroke-width="1.3"/>
<text class="cb" transform="translate(657.8 562) scale(0.9 1)" text-anchor="middle">20</text>
<text class="cb" transform="translate(664.3 543) scale(0.9 1)">[%]</text>
<line x1="1005.1" y1="90.0" x2="1005.1" y2="756.0" stroke="#cdcdcd" stroke-width="0.9" stroke-dasharray="4 2.2"/>
<line x1="1066.8" y1="90.0" x2="1066.8" y2="756.0" stroke="#cdcdcd" stroke-width="0.9" stroke-dasharray="4 2.2"/>
<line x1="1128.6" y1="90.0" x2="1128.6" y2="756.0" stroke="#cdcdcd" stroke-width="0.9" stroke-dasharray="4 2.2"/>
<line x1="1252.2" y1="90.0" x2="1252.2" y2="756.0" stroke="#cdcdcd" stroke-width="0.9" stroke-dasharray="4 2.2"/>
<line x1="1313.9" y1="90.0" x2="1313.9" y2="756.0" stroke="#cdcdcd" stroke-width="0.9" stroke-dasharray="4 2.2"/>
<line x1="1375.7" y1="90.0" x2="1375.7" y2="756.0" stroke="#cdcdcd" stroke-width="0.9" stroke-dasharray="4 2.2"/>
<line x1="1437.5" y1="90.0" x2="1437.5" y2="756.0" stroke="#cdcdcd" stroke-width="0.9" stroke-dasharray="4 2.2"/>
<line x1="1499.3" y1="90.0" x2="1499.3" y2="756.0" stroke="#cdcdcd" stroke-width="0.9" stroke-dasharray="4 2.2"/>
<line x1="1561.0" y1="90.0" x2="1561.0" y2="756.0" stroke="#cdcdcd" stroke-width="0.9" stroke-dasharray="4 2.2"/>
<line x1="1622.8" y1="90.0" x2="1622.8" y2="756.0" stroke="#cdcdcd" stroke-width="0.9" stroke-dasharray="4 2.2"/>
<line x1="943.3" y1="695.5" x2="1611" y2="695.5" stroke="#cdcdcd" stroke-width="0.9" stroke-dasharray="4 2.2"/>
<line x1="943.3" y1="634.9" x2="1611" y2="634.9" stroke="#cdcdcd" stroke-width="0.9" stroke-dasharray="4 2.2"/>
<line x1="943.3" y1="574.4" x2="1611" y2="574.4" stroke="#cdcdcd" stroke-width="0.9" stroke-dasharray="4 2.2"/>
<line x1="943.3" y1="513.8" x2="1611" y2="513.8" stroke="#cdcdcd" stroke-width="0.9" stroke-dasharray="4 2.2"/>
<line x1="943.3" y1="453.3" x2="1611" y2="453.3" stroke="#cdcdcd" stroke-width="0.9" stroke-dasharray="4 2.2"/>
<line x1="943.3" y1="392.7" x2="1611" y2="392.7" stroke="#cdcdcd" stroke-width="0.9" stroke-dasharray="4 2.2"/>
<line x1="943.3" y1="271.6" x2="1611" y2="271.6" stroke="#cdcdcd" stroke-width="0.9" stroke-dasharray="4 2.2"/>
<line x1="943.3" y1="211.1" x2="1611" y2="211.1" stroke="#cdcdcd" stroke-width="0.9" stroke-dasharray="4 2.2"/>
<line x1="943.3" y1="150.5" x2="1611" y2="150.5" stroke="#cdcdcd" stroke-width="0.9" stroke-dasharray="4 2.2"/>
<line x1="943.3" y1="332.2" x2="1611" y2="332.2" stroke="#000" stroke-width="2.2"/>
<line x1="1190.4" y1="90.0" x2="1190.4" y2="756.0" stroke="#000" stroke-width="2.2"/>
<line x1="1005.1" y1="90.0" x2="1005.1" y2="97.0" stroke="#000" stroke-width="2"/>
<line x1="1005.1" y1="756.0" x2="1005.1" y2="749.0" stroke="#000" stroke-width="2"/>
<line x1="1066.8" y1="90.0" x2="1066.8" y2="97.0" stroke="#000" stroke-width="2"/>
<line x1="1066.8" y1="756.0" x2="1066.8" y2="749.0" stroke="#000" stroke-width="2"/>
<line x1="1128.6" y1="90.0" x2="1128.6" y2="97.0" stroke="#000" stroke-width="2"/>
<line x1="1128.6" y1="756.0" x2="1128.6" y2="749.0" stroke="#000" stroke-width="2"/>
<line x1="1190.4" y1="90.0" x2="1190.4" y2="97.0" stroke="#000" stroke-width="2"/>
<line x1="1190.4" y1="756.0" x2="1190.4" y2="749.0" stroke="#000" stroke-width="2"/>
<line x1="1252.2" y1="90.0" x2="1252.2" y2="97.0" stroke="#000" stroke-width="2"/>
<line x1="1252.2" y1="756.0" x2="1252.2" y2="749.0" stroke="#000" stroke-width="2"/>
<line x1="1313.9" y1="90.0" x2="1313.9" y2="97.0" stroke="#000" stroke-width="2"/>
<line x1="1313.9" y1="756.0" x2="1313.9" y2="749.0" stroke="#000" stroke-width="2"/>
<line x1="1375.7" y1="90.0" x2="1375.7" y2="97.0" stroke="#000" stroke-width="2"/>
<line x1="1375.7" y1="756.0" x2="1375.7" y2="749.0" stroke="#000" stroke-width="2"/>
<line x1="1437.5" y1="90.0" x2="1437.5" y2="97.0" stroke="#000" stroke-width="2"/>
<line x1="1437.5" y1="756.0" x2="1437.5" y2="749.0" stroke="#000" stroke-width="2"/>
<line x1="1499.3" y1="90.0" x2="1499.3" y2="97.0" stroke="#000" stroke-width="2"/>
<line x1="1499.3" y1="756.0" x2="1499.3" y2="749.0" stroke="#000" stroke-width="2"/>
<line x1="1561.0" y1="90.0" x2="1561.0" y2="97.0" stroke="#000" stroke-width="2"/>
<line x1="1561.0" y1="756.0" x2="1561.0" y2="749.0" stroke="#000" stroke-width="2"/>
<line x1="943.3" y1="695.5" x2="950.8" y2="695.5" stroke="#000" stroke-width="2"/>
<line x1="943.3" y1="634.9" x2="950.8" y2="634.9" stroke="#000" stroke-width="2"/>
<line x1="943.3" y1="574.4" x2="950.8" y2="574.4" stroke="#000" stroke-width="2"/>
<line x1="943.3" y1="513.8" x2="950.8" y2="513.8" stroke="#000" stroke-width="2"/>
<line x1="943.3" y1="453.3" x2="950.8" y2="453.3" stroke="#000" stroke-width="2"/>
<line x1="943.3" y1="392.7" x2="950.8" y2="392.7" stroke="#000" stroke-width="2"/>
<line x1="943.3" y1="332.2" x2="950.8" y2="332.2" stroke="#000" stroke-width="2"/>
<line x1="943.3" y1="271.6" x2="950.8" y2="271.6" stroke="#000" stroke-width="2"/>
<line x1="943.3" y1="211.1" x2="950.8" y2="211.1" stroke="#000" stroke-width="2"/>
<line x1="943.3" y1="150.5" x2="950.8" y2="150.5" stroke="#000" stroke-width="2"/>
<line x1="1610.2" y1="695.5" x2="1602.7" y2="695.5" stroke="#000" stroke-width="2"/>
<line x1="1610.2" y1="634.9" x2="1602.7" y2="634.9" stroke="#000" stroke-width="2"/>
<line x1="1610.2" y1="574.4" x2="1602.7" y2="574.4" stroke="#000" stroke-width="2"/>
<line x1="1610.2" y1="513.8" x2="1602.7" y2="513.8" stroke="#000" stroke-width="2"/>
<line x1="1610.2" y1="453.3" x2="1602.7" y2="453.3" stroke="#000" stroke-width="2"/>
<line x1="1610.2" y1="392.7" x2="1602.7" y2="392.7" stroke="#000" stroke-width="2"/>
<line x1="1610.2" y1="332.2" x2="1602.7" y2="332.2" stroke="#000" stroke-width="2"/>
<line x1="1610.2" y1="271.6" x2="1602.7" y2="271.6" stroke="#000" stroke-width="2"/>
<line x1="1610.2" y1="211.1" x2="1602.7" y2="211.1" stroke="#000" stroke-width="2"/>
<line x1="1610.2" y1="150.5" x2="1602.7" y2="150.5" stroke="#000" stroke-width="2"/>
<rect x="943.3" y="90.0" width="666.9" height="666.0" fill="none" stroke="#000" stroke-width="2.4"/>
<text class="sx" x="943.3" y="795" text-anchor="middle">−2.0</text>
<text class="sx" x="1005.1" y="795" text-anchor="middle">−1.5</text>
<text class="sx" x="1066.8" y="795" text-anchor="middle">−1.0</text>
<text class="sx" x="1128.6" y="795" text-anchor="middle">−0.5</text>
<text class="sx" x="1190.4" y="795" text-anchor="middle">0.0</text>
<text class="sx" x="1252.2" y="795" text-anchor="middle">0.5</text>
<text class="sx" x="1313.9" y="795" text-anchor="middle">1.0</text>
<text class="sx" x="1375.7" y="795" text-anchor="middle">1.5</text>
<text class="sx" x="1437.5" y="795" text-anchor="middle">2.0</text>
<text class="sx" x="1499.3" y="795" text-anchor="middle">2.5</text>
<text class="sx" x="1561.0" y="795" text-anchor="middle">3.0</text>
<text class="sx" x="926.5" y="767.5" text-anchor="end">−14</text>
<text class="sx" x="926.5" y="707.0" text-anchor="end">−12</text>
<text class="sx" x="926.5" y="646.4" text-anchor="end">−10</text>
<text class="sx" x="926.5" y="585.9" text-anchor="end">−8</text>
<text class="sx" x="926.5" y="525.3" text-anchor="end">−6</text>
<text class="sx" x="926.5" y="464.8" text-anchor="end">−4</text>
<text class="sx" x="926.5" y="404.2" text-anchor="end">−2</text>
<text class="sx" x="926.5" y="343.7" text-anchor="end">0</text>
<text class="sx" x="926.5" y="283.1" text-anchor="end">2</text>
<text class="sx" x="926.5" y="222.6" text-anchor="end">4</text>
<text class="sx" x="926.5" y="162.0" text-anchor="end">6</text>
<text class="sx" x="926.5" y="101.5" text-anchor="end">8</text>
<text class="lab" x="1277" y="840" text-anchor="middle">SST anom.[°C]</text>
<text class="lab" transform="translate(852.5,422.7) rotate(-90)" text-anchor="middle">LCC anom.[%]</text>
<circle cx="986" cy="106.5" r="8.3" fill="#3795b5" stroke="#000" stroke-width="2"/>
<circle cx="1107" cy="185.5" r="8.3" fill="#3795b5" stroke="#000" stroke-width="2"/>
<circle cx="1207" cy="200" r="8.3" fill="#3795b5" stroke="#000" stroke-width="2"/>
<circle cx="1165" cy="228.5" r="8.3" fill="#3795b5" stroke="#000" stroke-width="2"/>
<circle cx="1024" cy="243" r="8.3" fill="#3795b5" stroke="#000" stroke-width="2"/>
<circle cx="1104.5" cy="243.5" r="8.3" fill="#3795b5" stroke="#000" stroke-width="2"/>
<circle cx="1191.5" cy="276.5" r="8.3" fill="#3795b5" stroke="#000" stroke-width="2"/>
<circle cx="1231" cy="299" r="8.3" fill="#3795b5" stroke="#000" stroke-width="2"/>
<circle cx="1202" cy="317" r="8.3" fill="#3795b5" stroke="#000" stroke-width="2"/>
<circle cx="1279" cy="327" r="8.3" fill="#3795b5" stroke="#000" stroke-width="2"/>
<circle cx="1210" cy="345" r="8.3" fill="#3795b5" stroke="#000" stroke-width="2"/>
<circle cx="1306" cy="349" r="8.3" fill="#3795b5" stroke="#000" stroke-width="2"/>
<circle cx="1165.5" cy="383" r="8.3" fill="#3795b5" stroke="#000" stroke-width="2"/>
<circle cx="1216" cy="417.5" r="8.3" fill="#3795b5" stroke="#000" stroke-width="2"/>
<circle cx="1209.5" cy="439.5" r="8.3" fill="#3795b5" stroke="#000" stroke-width="2"/>
<circle cx="1250.5" cy="441" r="8.3" fill="#3795b5" stroke="#000" stroke-width="2"/>
<circle cx="1357" cy="444.5" r="8.3" fill="#3795b5" stroke="#000" stroke-width="2"/>
<circle cx="1094" cy="454.5" r="8.3" fill="#3795b5" stroke="#000" stroke-width="2"/>
<circle cx="1249" cy="471.5" r="8.3" fill="#3795b5" stroke="#000" stroke-width="2"/>
<circle cx="1245" cy="471.5" r="8.3" fill="#3795b5" stroke="#000" stroke-width="2"/>
<circle cx="1506.4" cy="691.9" r="8.4" fill="#ff0000" stroke="#000" stroke-width="2.1"/>
<text x="1506.4" y="671.3" text-anchor="middle" font-size="27.5" style="fill:#f00">2023</text>
<text transform="translate(1068 695.7) scale(0.96 1)" text-anchor="middle" font-size="32.6" font-style="italic">Cor. = −0.61</text>
<text x="1068.5" y="725.7" text-anchor="middle" font-size="23.6" font-style="italic">(2003–2022)</text>
</svg></body></html>
